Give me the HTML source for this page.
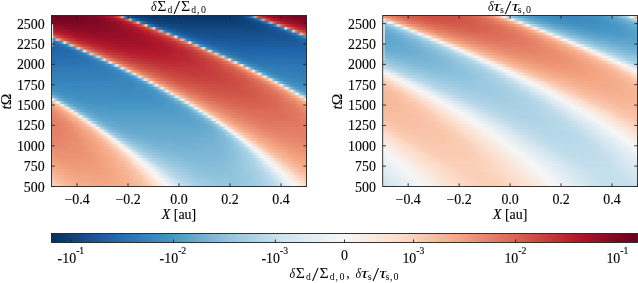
<!DOCTYPE html><html><head><meta charset="utf-8"><title>figure</title><style>html,body{margin:0;padding:0;background:#fff}body{width:638px;height:283px;position:relative;overflow:hidden}</style></head><body><svg width="638" height="283" viewBox="0 0 638 283" style="position:absolute;left:0;top:0;display:block"><defs><linearGradient id="a0"><stop offset="0.001961" stop-color="#700320"/><stop offset="0.08431" stop-color="#700320"/><stop offset="0.1627" stop-color="#7f0823"/><stop offset="0.202" stop-color="#910e26"/><stop offset="0.2255" stop-color="#a41329"/><stop offset="0.2373" stop-color="#b3192c"/><stop offset="0.249" stop-color="#ba2833"/><stop offset="0.2529" stop-color="#bf3338"/><stop offset="0.2569" stop-color="#c2383a"/><stop offset="0.2608" stop-color="#c94741"/><stop offset="0.2647" stop-color="#cd4e45"/><stop offset="0.2686" stop-color="#d7634f"/><stop offset="0.2725" stop-color="#df7760"/><stop offset="0.2765" stop-color="#f5ac8b"/><stop offset="0.2804" stop-color="#c2a49a"/><stop offset="0.2843" stop-color="#3f8ec0"/><stop offset="0.2882" stop-color="#3885bc"/><stop offset="0.2922" stop-color="#2870b1"/><stop offset="0.2961" stop-color="#256bac"/><stop offset="0.3" stop-color="#1d5fa2"/><stop offset="0.3078" stop-color="#185493"/><stop offset="0.3235" stop-color="#10457e"/><stop offset="0.3431" stop-color="#0c3e75"/><stop offset="0.3941" stop-color="#08366a"/><stop offset="0.6843" stop-color="#08366a"/><stop offset="0.7235" stop-color="#0a3b70"/><stop offset="0.7392" stop-color="#0d3f76"/><stop offset="0.7627" stop-color="#144e8a"/><stop offset="0.7667" stop-color="#185493"/><stop offset="0.7706" stop-color="#195696"/><stop offset="0.7745" stop-color="#1e60a4"/><stop offset="0.7784" stop-color="#1f63a8"/><stop offset="0.7824" stop-color="#2971b1"/><stop offset="0.7863" stop-color="#2c75b4"/><stop offset="0.7902" stop-color="#4d96c5"/><stop offset="0.7941" stop-color="#569fc9"/><stop offset="0.798" stop-color="#cd9484"/><stop offset="0.802" stop-color="#eb9172"/><stop offset="0.8059" stop-color="#d96753"/><stop offset="0.8098" stop-color="#d55d4c"/><stop offset="0.8137" stop-color="#c94641"/><stop offset="0.8176" stop-color="#c6413e"/><stop offset="0.8216" stop-color="#c03338"/><stop offset="0.8255" stop-color="#be3036"/><stop offset="0.8294" stop-color="#b92732"/><stop offset="0.8333" stop-color="#b82531"/><stop offset="0.8373" stop-color="#b41b2d"/><stop offset="0.849" stop-color="#ab162a"/><stop offset="0.8529" stop-color="#a31329"/><stop offset="0.8843" stop-color="#8e0c25"/><stop offset="0.9549" stop-color="#760521"/><stop offset="0.998" stop-color="#730421"/></linearGradient><linearGradient id="a1"><stop offset="0.001961" stop-color="#790622"/><stop offset="0.01765" stop-color="#760521"/><stop offset="0.1157" stop-color="#760521"/><stop offset="0.1706" stop-color="#7f0823"/><stop offset="0.202" stop-color="#880b24"/><stop offset="0.2333" stop-color="#971027"/><stop offset="0.2569" stop-color="#aa152a"/><stop offset="0.2608" stop-color="#b1182b"/><stop offset="0.2725" stop-color="#b72230"/><stop offset="0.2804" stop-color="#bd2e36"/><stop offset="0.2882" stop-color="#c53e3d"/><stop offset="0.2961" stop-color="#d05549"/><stop offset="0.3" stop-color="#db6b55"/><stop offset="0.3039" stop-color="#e38067"/><stop offset="0.3078" stop-color="#f6b191"/><stop offset="0.3118" stop-color="#bea7a0"/><stop offset="0.3157" stop-color="#4291c2"/><stop offset="0.3196" stop-color="#3a88bd"/><stop offset="0.3235" stop-color="#2b73b3"/><stop offset="0.3275" stop-color="#276eaf"/><stop offset="0.3314" stop-color="#1f63a8"/><stop offset="0.3392" stop-color="#1a5899"/><stop offset="0.3471" stop-color="#15508d"/><stop offset="0.3745" stop-color="#0e427a"/><stop offset="0.4255" stop-color="#0a3b70"/><stop offset="0.7078" stop-color="#0a3b70"/><stop offset="0.7627" stop-color="#0e4179"/><stop offset="0.7863" stop-color="#134c87"/><stop offset="0.802" stop-color="#1b5a9c"/><stop offset="0.8059" stop-color="#2064a9"/><stop offset="0.8098" stop-color="#2267ac"/><stop offset="0.8137" stop-color="#2d75b4"/><stop offset="0.8176" stop-color="#2f79b5"/><stop offset="0.8216" stop-color="#549bc8"/><stop offset="0.8255" stop-color="#5ca3cb"/><stop offset="0.8294" stop-color="#d49885"/><stop offset="0.8333" stop-color="#ee9677"/><stop offset="0.8373" stop-color="#db6b56"/><stop offset="0.8412" stop-color="#d7634f"/><stop offset="0.8451" stop-color="#cd4d44"/><stop offset="0.849" stop-color="#cb4942"/><stop offset="0.8529" stop-color="#c2393a"/><stop offset="0.8765" stop-color="#b1182b"/><stop offset="0.8804" stop-color="#b1182b"/><stop offset="0.8843" stop-color="#a9152a"/><stop offset="0.8922" stop-color="#a21329"/><stop offset="0.9235" stop-color="#900d26"/><stop offset="0.9627" stop-color="#820923"/><stop offset="0.998" stop-color="#7c0722"/></linearGradient><linearGradient id="a2"><stop offset="0.001961" stop-color="#840924"/><stop offset="0.04902" stop-color="#7c0722"/><stop offset="0.1392" stop-color="#7c0722"/><stop offset="0.1431" stop-color="#7f0823"/><stop offset="0.1824" stop-color="#810823"/><stop offset="0.249" stop-color="#970f27"/><stop offset="0.2725" stop-color="#a31329"/><stop offset="0.2843" stop-color="#b1182b"/><stop offset="0.2882" stop-color="#b2192b"/><stop offset="0.2961" stop-color="#b51f2e"/><stop offset="0.3118" stop-color="#c03438"/><stop offset="0.3196" stop-color="#c84440"/><stop offset="0.3275" stop-color="#d45d4d"/><stop offset="0.3314" stop-color="#de735c"/><stop offset="0.3353" stop-color="#e78c73"/><stop offset="0.3392" stop-color="#f8bda1"/><stop offset="0.3431" stop-color="#b9aeac"/><stop offset="0.3471" stop-color="#4291c2"/><stop offset="0.351" stop-color="#3a87bd"/><stop offset="0.3549" stop-color="#2c75b4"/><stop offset="0.3667" stop-color="#2063a7"/><stop offset="0.3706" stop-color="#1c5c9f"/><stop offset="0.3784" stop-color="#185493"/><stop offset="0.402" stop-color="#114781"/><stop offset="0.4176" stop-color="#0f437b"/><stop offset="0.4647" stop-color="#0d3f76"/><stop offset="0.7314" stop-color="#0d3f76"/><stop offset="0.7784" stop-color="#0f437b"/><stop offset="0.8176" stop-color="#15508d"/><stop offset="0.8255" stop-color="#195696"/><stop offset="0.8294" stop-color="#1d5fa2"/><stop offset="0.8412" stop-color="#266caf"/><stop offset="0.8451" stop-color="#317bb7"/><stop offset="0.849" stop-color="#337eb8"/><stop offset="0.8529" stop-color="#66a7ce"/><stop offset="0.8569" stop-color="#6eaed2"/><stop offset="0.8608" stop-color="#dc9a83"/><stop offset="0.8647" stop-color="#ee9677"/><stop offset="0.8686" stop-color="#db6c56"/><stop offset="0.8725" stop-color="#d86551"/><stop offset="0.8765" stop-color="#ce4f45"/><stop offset="0.8804" stop-color="#cc4c44"/><stop offset="0.8843" stop-color="#c53d3d"/><stop offset="0.8882" stop-color="#c43b3c"/><stop offset="0.8922" stop-color="#bf3137"/><stop offset="0.8961" stop-color="#be3036"/><stop offset="0.9" stop-color="#b92632"/><stop offset="0.9039" stop-color="#b82531"/><stop offset="0.9078" stop-color="#b51d2d"/><stop offset="0.9157" stop-color="#ae172b"/><stop offset="0.9196" stop-color="#ae172a"/><stop offset="0.9314" stop-color="#a21328"/><stop offset="0.9431" stop-color="#9f1228"/><stop offset="0.9471" stop-color="#991027"/><stop offset="0.998" stop-color="#870a24"/></linearGradient><linearGradient id="a3"><stop offset="0.001961" stop-color="#900d26"/><stop offset="0.08824" stop-color="#810823"/><stop offset="0.1902" stop-color="#840924"/><stop offset="0.2412" stop-color="#8e0c25"/><stop offset="0.2725" stop-color="#9a1027"/><stop offset="0.3118" stop-color="#b2192b"/><stop offset="0.3275" stop-color="#ba2732"/><stop offset="0.3431" stop-color="#c53d3d"/><stop offset="0.351" stop-color="#cd4f45"/><stop offset="0.3588" stop-color="#da6954"/><stop offset="0.3627" stop-color="#e37e64"/><stop offset="0.3667" stop-color="#eca28b"/><stop offset="0.3706" stop-color="#fcdfcf"/><stop offset="0.3745" stop-color="#b6c1ca"/><stop offset="0.3784" stop-color="#408fc1"/><stop offset="0.3824" stop-color="#3986bc"/><stop offset="0.3863" stop-color="#2e77b5"/><stop offset="0.402" stop-color="#1d5fa2"/><stop offset="0.4176" stop-color="#175290"/><stop offset="0.4333" stop-color="#134c87"/><stop offset="0.5039" stop-color="#0f437b"/><stop offset="0.7549" stop-color="#0f437b"/><stop offset="0.7588" stop-color="#10457e"/><stop offset="0.7941" stop-color="#10457e"/><stop offset="0.8333" stop-color="#144e8a"/><stop offset="0.849" stop-color="#195696"/><stop offset="0.8529" stop-color="#1c5c9d"/><stop offset="0.8569" stop-color="#1c5c9f"/><stop offset="0.8608" stop-color="#2064a9"/><stop offset="0.8647" stop-color="#2065ab"/><stop offset="0.8686" stop-color="#2870b1"/><stop offset="0.8725" stop-color="#2a71b2"/><stop offset="0.8765" stop-color="#3782bb"/><stop offset="0.8804" stop-color="#3885bc"/><stop offset="0.8843" stop-color="#83bbd9"/><stop offset="0.8882" stop-color="#8dc2dc"/><stop offset="0.8922" stop-color="#e29980"/><stop offset="0.8961" stop-color="#ec9374"/><stop offset="0.9" stop-color="#db6d57"/><stop offset="0.9039" stop-color="#da6853"/><stop offset="0.9078" stop-color="#cf5146"/><stop offset="0.9118" stop-color="#ce4f45"/><stop offset="0.9157" stop-color="#c7423f"/><stop offset="0.9196" stop-color="#c6413e"/><stop offset="0.9235" stop-color="#c03438"/><stop offset="0.9275" stop-color="#bf3338"/><stop offset="0.9392" stop-color="#b72230"/><stop offset="0.9431" stop-color="#b72230"/><stop offset="0.9471" stop-color="#b31a2c"/><stop offset="0.9588" stop-color="#ae172a"/><stop offset="0.9627" stop-color="#a81529"/><stop offset="0.9745" stop-color="#a51429"/><stop offset="0.9784" stop-color="#9f1228"/><stop offset="0.998" stop-color="#991027"/></linearGradient><linearGradient id="a4"><stop offset="0.001961" stop-color="#a21328"/><stop offset="0.04118" stop-color="#930e26"/><stop offset="0.08824" stop-color="#8a0b25"/><stop offset="0.1824" stop-color="#870a24"/><stop offset="0.2373" stop-color="#8d0c25"/><stop offset="0.2804" stop-color="#970f27"/><stop offset="0.3353" stop-color="#b2192c"/><stop offset="0.3667" stop-color="#c33a3b"/><stop offset="0.3745" stop-color="#ca4741"/><stop offset="0.3824" stop-color="#d35a4b"/><stop offset="0.3863" stop-color="#da6853"/><stop offset="0.3902" stop-color="#e0775f"/><stop offset="0.3941" stop-color="#ea8e70"/><stop offset="0.398" stop-color="#e2b2a4"/><stop offset="0.402" stop-color="#d5e7f1"/><stop offset="0.4059" stop-color="#98c3dd"/><stop offset="0.4098" stop-color="#3f8ec0"/><stop offset="0.4176" stop-color="#2e77b5"/><stop offset="0.4255" stop-color="#246aae"/><stop offset="0.4333" stop-color="#1f63a8"/><stop offset="0.449" stop-color="#195696"/><stop offset="0.4725" stop-color="#144e8a"/><stop offset="0.5431" stop-color="#114781"/><stop offset="0.7784" stop-color="#114781"/><stop offset="0.849" stop-color="#144e8a"/><stop offset="0.8725" stop-color="#195696"/><stop offset="0.8765" stop-color="#1c5c9e"/><stop offset="0.8882" stop-color="#1f63a8"/><stop offset="0.8922" stop-color="#256bae"/><stop offset="0.8961" stop-color="#266caf"/><stop offset="0.9" stop-color="#2e77b5"/><stop offset="0.9039" stop-color="#2f79b5"/><stop offset="0.9078" stop-color="#3e8cbf"/><stop offset="0.9118" stop-color="#3f8ec0"/><stop offset="0.9157" stop-color="#d5e5ef"/><stop offset="0.9196" stop-color="#e3edf3"/><stop offset="0.9235" stop-color="#e9957b"/><stop offset="0.9275" stop-color="#ea8e70"/><stop offset="0.9314" stop-color="#db6b55"/><stop offset="0.9353" stop-color="#da6853"/><stop offset="0.9392" stop-color="#d05347"/><stop offset="0.9431" stop-color="#cf5246"/><stop offset="0.9471" stop-color="#c84540"/><stop offset="0.951" stop-color="#c84440"/><stop offset="0.9549" stop-color="#c2393b"/><stop offset="0.9588" stop-color="#c2383a"/><stop offset="0.9627" stop-color="#bd2e35"/><stop offset="0.9667" stop-color="#bd2d35"/><stop offset="0.9706" stop-color="#b82531"/><stop offset="0.9745" stop-color="#b82531"/><stop offset="0.9784" stop-color="#b61f2e"/><stop offset="0.998" stop-color="#ae172a"/></linearGradient><linearGradient id="a5"><stop offset="0.001961" stop-color="#b61f2e"/><stop offset="0.01373" stop-color="#b3192c"/><stop offset="0.01765" stop-color="#ae172a"/><stop offset="0.08039" stop-color="#960f27"/><stop offset="0.151" stop-color="#8d0c25"/><stop offset="0.2216" stop-color="#8d0c25"/><stop offset="0.2686" stop-color="#930e26"/><stop offset="0.3196" stop-color="#a01228"/><stop offset="0.3549" stop-color="#b3192c"/><stop offset="0.3824" stop-color="#bd2e35"/><stop offset="0.4059" stop-color="#ce5046"/><stop offset="0.4137" stop-color="#d86551"/><stop offset="0.4176" stop-color="#de735c"/><stop offset="0.4216" stop-color="#e7876b"/><stop offset="0.4255" stop-color="#f3a481"/><stop offset="0.4294" stop-color="#c5afa7"/><stop offset="0.4333" stop-color="#87beda"/><stop offset="0.4373" stop-color="#66a7ce"/><stop offset="0.4412" stop-color="#3c8abe"/><stop offset="0.449" stop-color="#2e77b5"/><stop offset="0.4647" stop-color="#2065ab"/><stop offset="0.4882" stop-color="#195696"/><stop offset="0.5275" stop-color="#144e8a"/><stop offset="0.5667" stop-color="#134c87"/><stop offset="0.8176" stop-color="#134c87"/><stop offset="0.8882" stop-color="#185493"/><stop offset="0.9118" stop-color="#1e61a5"/><stop offset="0.9157" stop-color="#2368ad"/><stop offset="0.9196" stop-color="#2369ad"/><stop offset="0.9235" stop-color="#2971b2"/><stop offset="0.9275" stop-color="#2a71b2"/><stop offset="0.9314" stop-color="#347fb9"/><stop offset="0.9353" stop-color="#3480b9"/><stop offset="0.9392" stop-color="#4e99c6"/><stop offset="0.9431" stop-color="#4f9bc7"/><stop offset="0.9471" stop-color="#f3d1bf"/><stop offset="0.951" stop-color="#fcd5bf"/><stop offset="0.9549" stop-color="#e78a6e"/><stop offset="0.9588" stop-color="#e6866a"/><stop offset="0.9627" stop-color="#da6954"/><stop offset="0.9667" stop-color="#da6853"/><stop offset="0.9706" stop-color="#d15548"/><stop offset="0.9745" stop-color="#d05548"/><stop offset="0.9784" stop-color="#c94741"/><stop offset="0.9824" stop-color="#c94741"/><stop offset="0.9863" stop-color="#c43b3c"/><stop offset="0.9902" stop-color="#c43b3c"/><stop offset="0.9941" stop-color="#be3036"/><stop offset="0.998" stop-color="#be3036"/></linearGradient><linearGradient id="a6"><stop offset="0.001961" stop-color="#c6413e"/><stop offset="0.005882" stop-color="#c6413e"/><stop offset="0.009804" stop-color="#c13639"/><stop offset="0.01373" stop-color="#c13639"/><stop offset="0.01765" stop-color="#bd2d35"/><stop offset="0.02157" stop-color="#bd2d35"/><stop offset="0.04902" stop-color="#b1182b"/><stop offset="0.1039" stop-color="#9c1127"/><stop offset="0.1588" stop-color="#930e26"/><stop offset="0.2843" stop-color="#960f27"/><stop offset="0.3431" stop-color="#a31329"/><stop offset="0.3784" stop-color="#b3192c"/><stop offset="0.4137" stop-color="#c13639"/><stop offset="0.4294" stop-color="#cc4d44"/><stop offset="0.4412" stop-color="#d86551"/><stop offset="0.449" stop-color="#e58368"/><stop offset="0.4529" stop-color="#ee9e83"/><stop offset="0.4569" stop-color="#f8bfa4"/><stop offset="0.4608" stop-color="#b3b4b7"/><stop offset="0.4647" stop-color="#62a7ce"/><stop offset="0.4725" stop-color="#3885bc"/><stop offset="0.4804" stop-color="#2c75b4"/><stop offset="0.4961" stop-color="#2065ab"/><stop offset="0.5235" stop-color="#195797"/><stop offset="0.5745" stop-color="#15508d"/><stop offset="0.8647" stop-color="#15508d"/><stop offset="0.9039" stop-color="#185493"/><stop offset="0.9196" stop-color="#1a5899"/><stop offset="0.9353" stop-color="#1e61a5"/><stop offset="0.9392" stop-color="#2166ac"/><stop offset="0.9431" stop-color="#2267ac"/><stop offset="0.9471" stop-color="#276eb0"/><stop offset="0.951" stop-color="#276eb0"/><stop offset="0.9549" stop-color="#2f78b5"/><stop offset="0.9588" stop-color="#2f79b5"/><stop offset="0.9627" stop-color="#3b88bd"/><stop offset="0.9667" stop-color="#3b88be"/><stop offset="0.9706" stop-color="#73b1d3"/><stop offset="0.9745" stop-color="#75b2d4"/><stop offset="0.9784" stop-color="#f3b395"/><stop offset="0.9824" stop-color="#f6b394"/><stop offset="0.9863" stop-color="#e48167"/><stop offset="0.9902" stop-color="#e48066"/><stop offset="0.9941" stop-color="#d86651"/><stop offset="0.998" stop-color="#d86551"/></linearGradient><linearGradient id="a7"><stop offset="0.001961" stop-color="#e98b6e"/><stop offset="0.005882" stop-color="#e98b6e"/><stop offset="0.009804" stop-color="#dc6e57"/><stop offset="0.01373" stop-color="#dc6d57"/><stop offset="0.01765" stop-color="#d35a4a"/><stop offset="0.02157" stop-color="#d35a4a"/><stop offset="0.02549" stop-color="#cc4c44"/><stop offset="0.02941" stop-color="#cc4c44"/><stop offset="0.03333" stop-color="#c6413e"/><stop offset="0.03725" stop-color="#c6413e"/><stop offset="0.04118" stop-color="#c2383a"/><stop offset="0.0451" stop-color="#c2383a"/><stop offset="0.04902" stop-color="#be3036"/><stop offset="0.05294" stop-color="#be3036"/><stop offset="0.05686" stop-color="#bb2a34"/><stop offset="0.06078" stop-color="#bb2a34"/><stop offset="0.07255" stop-color="#b61f2e"/><stop offset="0.09216" stop-color="#b0172b"/><stop offset="0.1196" stop-color="#a51429"/><stop offset="0.1588" stop-color="#9c1127"/><stop offset="0.2137" stop-color="#960f27"/><stop offset="0.2725" stop-color="#970f27"/><stop offset="0.3392" stop-color="#9f1228"/><stop offset="0.3824" stop-color="#ac162a"/><stop offset="0.4059" stop-color="#b51d2e"/><stop offset="0.4412" stop-color="#c2383a"/><stop offset="0.4608" stop-color="#d15648"/><stop offset="0.4647" stop-color="#d55d4c"/><stop offset="0.4725" stop-color="#de735c"/><stop offset="0.4804" stop-color="#ef9979"/><stop offset="0.4882" stop-color="#f6f7f7"/><stop offset="0.4961" stop-color="#4c99c6"/><stop offset="0.5039" stop-color="#3681ba"/><stop offset="0.5118" stop-color="#2c75b4"/><stop offset="0.5353" stop-color="#1e61a5"/><stop offset="0.5588" stop-color="#1a5899"/><stop offset="0.6373" stop-color="#175290"/><stop offset="0.9039" stop-color="#185493"/><stop offset="0.9353" stop-color="#1a5899"/><stop offset="0.951" stop-color="#1c5c9f"/><stop offset="0.9549" stop-color="#1e61a4"/><stop offset="0.9667" stop-color="#2065ab"/><stop offset="0.9706" stop-color="#266caf"/><stop offset="0.9824" stop-color="#2b73b3"/><stop offset="0.9863" stop-color="#347fb9"/><stop offset="0.9902" stop-color="#3480b9"/><stop offset="0.9941" stop-color="#4695c4"/><stop offset="0.998" stop-color="#4695c4"/></linearGradient><linearGradient id="a8"><stop offset="0.001961" stop-color="#337eb8"/><stop offset="0.005882" stop-color="#337eb8"/><stop offset="0.009804" stop-color="#4291c2"/><stop offset="0.01373" stop-color="#4392c3"/><stop offset="0.01765" stop-color="#93c6de"/><stop offset="0.02157" stop-color="#96c5dc"/><stop offset="0.02549" stop-color="#f6af8e"/><stop offset="0.02941" stop-color="#f5ad8d"/><stop offset="0.03333" stop-color="#e48066"/><stop offset="0.03725" stop-color="#e48065"/><stop offset="0.04118" stop-color="#da6853"/><stop offset="0.0451" stop-color="#d96753"/><stop offset="0.04902" stop-color="#d25849"/><stop offset="0.05294" stop-color="#d15749"/><stop offset="0.05686" stop-color="#cc4c44"/><stop offset="0.06078" stop-color="#cc4c43"/><stop offset="0.06471" stop-color="#c6413e"/><stop offset="0.06863" stop-color="#c6403e"/><stop offset="0.07255" stop-color="#c2383a"/><stop offset="0.08431" stop-color="#bf3237"/><stop offset="0.08824" stop-color="#bb2a34"/><stop offset="0.1" stop-color="#b92732"/><stop offset="0.1196" stop-color="#b3192c"/><stop offset="0.1667" stop-color="#a51429"/><stop offset="0.2216" stop-color="#9c1127"/><stop offset="0.3196" stop-color="#9d1128"/><stop offset="0.3706" stop-color="#a51429"/><stop offset="0.4176" stop-color="#b3192c"/><stop offset="0.4647" stop-color="#c2383a"/><stop offset="0.4804" stop-color="#cc4c44"/><stop offset="0.4961" stop-color="#db6b55"/><stop offset="0.5039" stop-color="#e58368"/><stop offset="0.5118" stop-color="#f7b596"/><stop offset="0.5196" stop-color="#84bcd9"/><stop offset="0.5275" stop-color="#408fc1"/><stop offset="0.5392" stop-color="#2f78b5"/><stop offset="0.5549" stop-color="#2369ae"/><stop offset="0.5824" stop-color="#1c5c9f"/><stop offset="0.6059" stop-color="#1a5899"/><stop offset="0.6686" stop-color="#195696"/><stop offset="0.9118" stop-color="#195696"/><stop offset="0.9588" stop-color="#1b5a9c"/><stop offset="0.9745" stop-color="#1d5fa2"/><stop offset="0.9863" stop-color="#2267ac"/><stop offset="0.998" stop-color="#246aae"/></linearGradient><linearGradient id="a9"><stop offset="0.001961" stop-color="#2369ad"/><stop offset="0.02157" stop-color="#2a72b2"/><stop offset="0.02549" stop-color="#307ab6"/><stop offset="0.02941" stop-color="#317bb7"/><stop offset="0.03333" stop-color="#3b88be"/><stop offset="0.03725" stop-color="#3c8abe"/><stop offset="0.04118" stop-color="#5fa5cd"/><stop offset="0.0451" stop-color="#66a8cd"/><stop offset="0.04902" stop-color="#fbe5d8"/><stop offset="0.05294" stop-color="#fae1d3"/><stop offset="0.05686" stop-color="#ef9979"/><stop offset="0.06078" stop-color="#ee9777"/><stop offset="0.06471" stop-color="#e17860"/><stop offset="0.06863" stop-color="#e0775f"/><stop offset="0.07255" stop-color="#d7634f"/><stop offset="0.07647" stop-color="#d7624e"/><stop offset="0.08039" stop-color="#d05548"/><stop offset="0.08431" stop-color="#d05447"/><stop offset="0.08824" stop-color="#cb4942"/><stop offset="0.09216" stop-color="#ca4942"/><stop offset="0.1039" stop-color="#c2383a"/><stop offset="0.1431" stop-color="#b61f2e"/><stop offset="0.1588" stop-color="#b3192c"/><stop offset="0.2373" stop-color="#a21328"/><stop offset="0.3118" stop-color="#a01228"/><stop offset="0.3549" stop-color="#a21328"/><stop offset="0.4333" stop-color="#b3192c"/><stop offset="0.4804" stop-color="#bf3338"/><stop offset="0.4961" stop-color="#c6413e"/><stop offset="0.5118" stop-color="#d25849"/><stop offset="0.5196" stop-color="#d86551"/><stop offset="0.5275" stop-color="#e27b62"/><stop offset="0.5353" stop-color="#f09c7b"/><stop offset="0.5392" stop-color="#f5c8b6"/><stop offset="0.5431" stop-color="#f9efe9"/><stop offset="0.5471" stop-color="#a3c5d9"/><stop offset="0.551" stop-color="#5ca3cb"/><stop offset="0.5588" stop-color="#3b88be"/><stop offset="0.5667" stop-color="#307ab6"/><stop offset="0.5863" stop-color="#246aae"/><stop offset="0.6294" stop-color="#1c5c9f"/><stop offset="0.7235" stop-color="#1b5a9c"/><stop offset="0.7314" stop-color="#1a5899"/><stop offset="0.9588" stop-color="#1b5a9c"/><stop offset="0.998" stop-color="#1e61a5"/></linearGradient><linearGradient id="a10"><stop offset="0.001961" stop-color="#1f63a8"/><stop offset="0.03725" stop-color="#266caf"/><stop offset="0.0451" stop-color="#2a72b2"/><stop offset="0.04902" stop-color="#307ab6"/><stop offset="0.05294" stop-color="#317bb7"/><stop offset="0.05686" stop-color="#3885bc"/><stop offset="0.06078" stop-color="#3a86bc"/><stop offset="0.06471" stop-color="#4c99c6"/><stop offset="0.06863" stop-color="#529dc8"/><stop offset="0.07255" stop-color="#a2cde3"/><stop offset="0.07647" stop-color="#a9cbdc"/><stop offset="0.08039" stop-color="#f6b394"/><stop offset="0.08431" stop-color="#f5af90"/><stop offset="0.08824" stop-color="#e8896c"/><stop offset="0.09216" stop-color="#e7866a"/><stop offset="0.09608" stop-color="#dd7059"/><stop offset="0.1" stop-color="#dc6f58"/><stop offset="0.1039" stop-color="#d6604d"/><stop offset="0.1078" stop-color="#d55f4c"/><stop offset="0.1118" stop-color="#d05548"/><stop offset="0.1157" stop-color="#d05347"/><stop offset="0.1196" stop-color="#cb4942"/><stop offset="0.1235" stop-color="#ca4842"/><stop offset="0.1275" stop-color="#c6413e"/><stop offset="0.1392" stop-color="#c33b3b"/><stop offset="0.1588" stop-color="#bb2a34"/><stop offset="0.198" stop-color="#b3192c"/><stop offset="0.2843" stop-color="#a51429"/><stop offset="0.3667" stop-color="#a61429"/><stop offset="0.4098" stop-color="#ab162a"/><stop offset="0.4412" stop-color="#b3192c"/><stop offset="0.4882" stop-color="#bb2a34"/><stop offset="0.5118" stop-color="#c43b3c"/><stop offset="0.5353" stop-color="#d05548"/><stop offset="0.5431" stop-color="#d7634f"/><stop offset="0.551" stop-color="#de735c"/><stop offset="0.5588" stop-color="#ea8e70"/><stop offset="0.5627" stop-color="#f2aa8d"/><stop offset="0.5667" stop-color="#f8bfa4"/><stop offset="0.5706" stop-color="#b8bfc3"/><stop offset="0.5745" stop-color="#87beda"/><stop offset="0.5784" stop-color="#60a5cd"/><stop offset="0.5824" stop-color="#4393c3"/><stop offset="0.5941" stop-color="#327db8"/><stop offset="0.6098" stop-color="#276eb0"/><stop offset="0.649" stop-color="#1f61a6"/><stop offset="0.7" stop-color="#1c5c9f"/><stop offset="0.9588" stop-color="#1c5c9f"/><stop offset="0.998" stop-color="#1e61a5"/></linearGradient><linearGradient id="a11"><stop offset="0.001961" stop-color="#1f63a8"/><stop offset="0.02157" stop-color="#1f63a8"/><stop offset="0.06078" stop-color="#276eb0"/><stop offset="0.07255" stop-color="#2f79b5"/><stop offset="0.07647" stop-color="#3079b6"/><stop offset="0.08039" stop-color="#3783bb"/><stop offset="0.08431" stop-color="#3884bc"/><stop offset="0.08824" stop-color="#4291c2"/><stop offset="0.09216" stop-color="#4694c4"/><stop offset="0.09608" stop-color="#75b2d4"/><stop offset="0.1" stop-color="#82b6d2"/><stop offset="0.1039" stop-color="#fcd7c2"/><stop offset="0.1078" stop-color="#fbd0ba"/><stop offset="0.1118" stop-color="#ef9979"/><stop offset="0.1157" stop-color="#ed9676"/><stop offset="0.1196" stop-color="#e37e64"/><stop offset="0.1235" stop-color="#e27b62"/><stop offset="0.1275" stop-color="#db6b55"/><stop offset="0.1314" stop-color="#da6954"/><stop offset="0.1353" stop-color="#d55d4c"/><stop offset="0.1392" stop-color="#d45c4b"/><stop offset="0.1431" stop-color="#cf5246"/><stop offset="0.1471" stop-color="#ce5146"/><stop offset="0.151" stop-color="#cb4942"/><stop offset="0.1549" stop-color="#ca4842"/><stop offset="0.1588" stop-color="#c6413e"/><stop offset="0.1824" stop-color="#be3036"/><stop offset="0.2216" stop-color="#b61f2e"/><stop offset="0.2451" stop-color="#b3192c"/><stop offset="0.3" stop-color="#ab162a"/><stop offset="0.402" stop-color="#ab162a"/><stop offset="0.4569" stop-color="#b3192c"/><stop offset="0.5118" stop-color="#bd2d35"/><stop offset="0.5431" stop-color="#c84440"/><stop offset="0.5588" stop-color="#d05548"/><stop offset="0.5745" stop-color="#dd7059"/><stop offset="0.5824" stop-color="#e6866a"/><stop offset="0.5863" stop-color="#ef9c7e"/><stop offset="0.5902" stop-color="#f5ac8b"/><stop offset="0.5941" stop-color="#e7d1c8"/><stop offset="0.598" stop-color="#ddebf2"/><stop offset="0.602" stop-color="#8fbfdb"/><stop offset="0.6059" stop-color="#5ca3cb"/><stop offset="0.6098" stop-color="#4995c4"/><stop offset="0.6137" stop-color="#3e8cbf"/><stop offset="0.6176" stop-color="#3884bb"/><stop offset="0.6333" stop-color="#2b73b3"/><stop offset="0.6529" stop-color="#246aae"/><stop offset="0.7039" stop-color="#1f61a6"/><stop offset="0.998" stop-color="#1e61a5"/></linearGradient><linearGradient id="a12"><stop offset="0.001961" stop-color="#2065ab"/><stop offset="0.06078" stop-color="#2369ad"/><stop offset="0.08431" stop-color="#2970b1"/><stop offset="0.1" stop-color="#317bb7"/><stop offset="0.1039" stop-color="#3783bb"/><stop offset="0.1078" stop-color="#3884bc"/><stop offset="0.1118" stop-color="#408fc1"/><stop offset="0.1157" stop-color="#4592c3"/><stop offset="0.1196" stop-color="#65a9cf"/><stop offset="0.1235" stop-color="#77b2d4"/><stop offset="0.1275" stop-color="#f5f6f7"/><stop offset="0.1314" stop-color="#f5ece8"/><stop offset="0.1353" stop-color="#f5ac8b"/><stop offset="0.1392" stop-color="#f3a787"/><stop offset="0.1431" stop-color="#e8896c"/><stop offset="0.1471" stop-color="#e6866a"/><stop offset="0.151" stop-color="#df765e"/><stop offset="0.1549" stop-color="#de735c"/><stop offset="0.1588" stop-color="#d86551"/><stop offset="0.1627" stop-color="#d86450"/><stop offset="0.1667" stop-color="#d35a4a"/><stop offset="0.1706" stop-color="#d2594a"/><stop offset="0.1824" stop-color="#cb4942"/><stop offset="0.1941" stop-color="#c7423f"/><stop offset="0.198" stop-color="#c43b3c"/><stop offset="0.2137" stop-color="#bf3338"/><stop offset="0.2686" stop-color="#b61f2e"/><stop offset="0.3235" stop-color="#b1182b"/><stop offset="0.449" stop-color="#b3192c"/><stop offset="0.5078" stop-color="#b92632"/><stop offset="0.5275" stop-color="#bd2d35"/><stop offset="0.551" stop-color="#c43b3c"/><stop offset="0.5667" stop-color="#c94741"/><stop offset="0.5902" stop-color="#d7634f"/><stop offset="0.598" stop-color="#dd7059"/><stop offset="0.6059" stop-color="#e58368"/><stop offset="0.6098" stop-color="#ed9576"/><stop offset="0.6137" stop-color="#f2a17f"/><stop offset="0.6176" stop-color="#f8cab4"/><stop offset="0.6216" stop-color="#fbe3d4"/><stop offset="0.6255" stop-color="#a9c6d5"/><stop offset="0.6294" stop-color="#78b4d5"/><stop offset="0.6333" stop-color="#58a0ca"/><stop offset="0.6373" stop-color="#4695c4"/><stop offset="0.6412" stop-color="#3e8cbf"/><stop offset="0.6569" stop-color="#2f79b5"/><stop offset="0.6725" stop-color="#286fb1"/><stop offset="0.7275" stop-color="#2165ab"/><stop offset="0.998" stop-color="#2065ab"/></linearGradient><linearGradient id="a13"><stop offset="0.001961" stop-color="#2369ad"/><stop offset="0.08431" stop-color="#266caf"/><stop offset="0.1157" stop-color="#2e77b5"/><stop offset="0.1314" stop-color="#3885bc"/><stop offset="0.1353" stop-color="#3f8ec0"/><stop offset="0.1392" stop-color="#4391c2"/><stop offset="0.1431" stop-color="#5ca3cb"/><stop offset="0.1471" stop-color="#68aacf"/><stop offset="0.151" stop-color="#aed3e6"/><stop offset="0.1549" stop-color="#bad0db"/><stop offset="0.1588" stop-color="#f8bda1"/><stop offset="0.1627" stop-color="#f6b79a"/><stop offset="0.1667" stop-color="#ee9677"/><stop offset="0.1706" stop-color="#ec9273"/><stop offset="0.1745" stop-color="#e37e64"/><stop offset="0.1784" stop-color="#e27b62"/><stop offset="0.1824" stop-color="#dc6e57"/><stop offset="0.1863" stop-color="#db6c56"/><stop offset="0.1902" stop-color="#d7634f"/><stop offset="0.1941" stop-color="#d6614e"/><stop offset="0.198" stop-color="#d25849"/><stop offset="0.2059" stop-color="#ce4f45"/><stop offset="0.2373" stop-color="#c2383a"/><stop offset="0.2922" stop-color="#b82531"/><stop offset="0.3235" stop-color="#b61f2e"/><stop offset="0.4176" stop-color="#b3192c"/><stop offset="0.5157" stop-color="#b92632"/><stop offset="0.5549" stop-color="#c03438"/><stop offset="0.5902" stop-color="#cb4942"/><stop offset="0.6137" stop-color="#d86551"/><stop offset="0.6216" stop-color="#dd7059"/><stop offset="0.6294" stop-color="#e58368"/><stop offset="0.6333" stop-color="#ec9374"/><stop offset="0.6373" stop-color="#f09c7b"/><stop offset="0.6412" stop-color="#f6b99e"/><stop offset="0.6451" stop-color="#facab1"/><stop offset="0.649" stop-color="#bbc9cf"/><stop offset="0.6529" stop-color="#98c8e0"/><stop offset="0.6569" stop-color="#6cadd1"/><stop offset="0.6608" stop-color="#569fc9"/><stop offset="0.6647" stop-color="#4692c3"/><stop offset="0.6725" stop-color="#3885bc"/><stop offset="0.6804" stop-color="#337eb8"/><stop offset="0.6961" stop-color="#2c74b3"/><stop offset="0.7314" stop-color="#246aae"/><stop offset="0.8216" stop-color="#2267ad"/><stop offset="0.998" stop-color="#2369ad"/></linearGradient><linearGradient id="a14"><stop offset="0.001961" stop-color="#246aae"/><stop offset="0.1" stop-color="#276eb0"/><stop offset="0.1314" stop-color="#2d75b4"/><stop offset="0.1549" stop-color="#3986bc"/><stop offset="0.1627" stop-color="#4391c2"/><stop offset="0.1667" stop-color="#59a1ca"/><stop offset="0.1706" stop-color="#63a7ce"/><stop offset="0.1745" stop-color="#96c7df"/><stop offset="0.1784" stop-color="#a8c9d8"/><stop offset="0.1824" stop-color="#fbd0b9"/><stop offset="0.1863" stop-color="#fac8af"/><stop offset="0.1902" stop-color="#f3a481"/><stop offset="0.1941" stop-color="#f19e7d"/><stop offset="0.198" stop-color="#e8896c"/><stop offset="0.202" stop-color="#e6856a"/><stop offset="0.2059" stop-color="#e17860"/><stop offset="0.2098" stop-color="#df755e"/><stop offset="0.2137" stop-color="#db6b55"/><stop offset="0.2216" stop-color="#d6604d"/><stop offset="0.2333" stop-color="#d15648"/><stop offset="0.2373" stop-color="#ce4f45"/><stop offset="0.2686" stop-color="#c43b3c"/><stop offset="0.3157" stop-color="#bb2a34"/><stop offset="0.3627" stop-color="#b72230"/><stop offset="0.449" stop-color="#b61f2e"/><stop offset="0.5353" stop-color="#bb2a34"/><stop offset="0.5902" stop-color="#c53e3d"/><stop offset="0.6294" stop-color="#d55d4c"/><stop offset="0.6451" stop-color="#de735c"/><stop offset="0.6529" stop-color="#e58368"/><stop offset="0.6569" stop-color="#ec9374"/><stop offset="0.6608" stop-color="#f09c7b"/><stop offset="0.6647" stop-color="#f6b396"/><stop offset="0.6686" stop-color="#f8bfa4"/><stop offset="0.6725" stop-color="#cfd1d3"/><stop offset="0.6765" stop-color="#bbdaea"/><stop offset="0.6804" stop-color="#81b8d7"/><stop offset="0.6882" stop-color="#4e9ac7"/><stop offset="0.6961" stop-color="#3d8abf"/><stop offset="0.7118" stop-color="#317cb7"/><stop offset="0.751" stop-color="#276eb0"/><stop offset="0.7784" stop-color="#266caf"/><stop offset="0.998" stop-color="#246aae"/></linearGradient><linearGradient id="a15"><stop offset="0.001961" stop-color="#276eb0"/><stop offset="0.1392" stop-color="#2b73b3"/><stop offset="0.1706" stop-color="#3581ba"/><stop offset="0.1784" stop-color="#3b88bd"/><stop offset="0.1863" stop-color="#4593c3"/><stop offset="0.1902" stop-color="#59a1ca"/><stop offset="0.1941" stop-color="#63a7ce"/><stop offset="0.198" stop-color="#8dc2dc"/><stop offset="0.202" stop-color="#a4c9db"/><stop offset="0.2059" stop-color="#fbe4d6"/><stop offset="0.2098" stop-color="#fad8c6"/><stop offset="0.2137" stop-color="#f5ac8b"/><stop offset="0.2176" stop-color="#f3a686"/><stop offset="0.2216" stop-color="#eb9172"/><stop offset="0.2255" stop-color="#e98c6f"/><stop offset="0.2294" stop-color="#e37e64"/><stop offset="0.2333" stop-color="#e27b61"/><stop offset="0.2373" stop-color="#dd7059"/><stop offset="0.2412" stop-color="#dc6e57"/><stop offset="0.2451" stop-color="#d86551"/><stop offset="0.2686" stop-color="#ce4f45"/><stop offset="0.2922" stop-color="#c6413e"/><stop offset="0.3392" stop-color="#be3036"/><stop offset="0.3706" stop-color="#bb2a34"/><stop offset="0.4176" stop-color="#b82531"/><stop offset="0.4804" stop-color="#b82531"/><stop offset="0.5353" stop-color="#bb2a34"/><stop offset="0.598" stop-color="#c43b3c"/><stop offset="0.6294" stop-color="#cc4c44"/><stop offset="0.6529" stop-color="#d6604d"/><stop offset="0.6686" stop-color="#df765e"/><stop offset="0.6725" stop-color="#e48166"/><stop offset="0.6765" stop-color="#e6866a"/><stop offset="0.6804" stop-color="#ed9575"/><stop offset="0.6843" stop-color="#f09c7b"/><stop offset="0.6882" stop-color="#f5b193"/><stop offset="0.6922" stop-color="#f8bb9e"/><stop offset="0.6961" stop-color="#ece0da"/><stop offset="0.7" stop-color="#e7f0f4"/><stop offset="0.7039" stop-color="#94c3dd"/><stop offset="0.7078" stop-color="#71b0d3"/><stop offset="0.7118" stop-color="#57a0ca"/><stop offset="0.7196" stop-color="#4290c1"/><stop offset="0.7353" stop-color="#3480b9"/><stop offset="0.7588" stop-color="#2d75b4"/><stop offset="0.7784" stop-color="#2a71b2"/><stop offset="0.998" stop-color="#276eb0"/></linearGradient><linearGradient id="a16"><stop offset="0.001961" stop-color="#2a71b2"/><stop offset="0.1392" stop-color="#2b73b3"/><stop offset="0.1784" stop-color="#317bb7"/><stop offset="0.202" stop-color="#3c8abf"/><stop offset="0.2098" stop-color="#4795c4"/><stop offset="0.2137" stop-color="#59a1ca"/><stop offset="0.2176" stop-color="#64a8ce"/><stop offset="0.2216" stop-color="#8ac0db"/><stop offset="0.2255" stop-color="#a3cadd"/><stop offset="0.2294" stop-color="#f9ebe3"/><stop offset="0.2333" stop-color="#f9dfd1"/><stop offset="0.2373" stop-color="#f7b596"/><stop offset="0.2412" stop-color="#f5ae8f"/><stop offset="0.2451" stop-color="#ef9979"/><stop offset="0.249" stop-color="#ed9475"/><stop offset="0.2529" stop-color="#e6866a"/><stop offset="0.2686" stop-color="#dc6e57"/><stop offset="0.2843" stop-color="#d55d4c"/><stop offset="0.3157" stop-color="#c94741"/><stop offset="0.3549" stop-color="#c2383a"/><stop offset="0.3941" stop-color="#be3036"/><stop offset="0.4412" stop-color="#bb2a34"/><stop offset="0.5431" stop-color="#bd2d35"/><stop offset="0.598" stop-color="#c2383a"/><stop offset="0.6451" stop-color="#cc4c44"/><stop offset="0.6686" stop-color="#d55d4c"/><stop offset="0.6922" stop-color="#e17860"/><stop offset="0.6961" stop-color="#e58468"/><stop offset="0.7" stop-color="#e8896c"/><stop offset="0.7039" stop-color="#ee9878"/><stop offset="0.7078" stop-color="#f19e7d"/><stop offset="0.7118" stop-color="#f6b193"/><stop offset="0.7157" stop-color="#f7b99c"/><stop offset="0.7196" stop-color="#f8e4da"/><stop offset="0.7235" stop-color="#f8f4f2"/><stop offset="0.7275" stop-color="#a1cadf"/><stop offset="0.7353" stop-color="#61a6cd"/><stop offset="0.7431" stop-color="#4795c4"/><stop offset="0.751" stop-color="#3d8bbf"/><stop offset="0.7745" stop-color="#317bb7"/><stop offset="0.798" stop-color="#2d75b4"/><stop offset="0.8569" stop-color="#2a71b2"/><stop offset="0.998" stop-color="#2a71b2"/></linearGradient><linearGradient id="a17"><stop offset="0.001961" stop-color="#2c75b4"/><stop offset="0.1627" stop-color="#2e77b5"/><stop offset="0.1941" stop-color="#327cb7"/><stop offset="0.2176" stop-color="#3a86bd"/><stop offset="0.2255" stop-color="#408ec0"/><stop offset="0.2333" stop-color="#4b98c6"/><stop offset="0.2373" stop-color="#5ca3cb"/><stop offset="0.2412" stop-color="#67aacf"/><stop offset="0.2451" stop-color="#8ac0db"/><stop offset="0.249" stop-color="#a6ccdf"/><stop offset="0.2529" stop-color="#f9f0eb"/><stop offset="0.2569" stop-color="#f8e2d7"/><stop offset="0.2608" stop-color="#f8bb9e"/><stop offset="0.2647" stop-color="#f6b495"/><stop offset="0.2686" stop-color="#f19e7d"/><stop offset="0.2725" stop-color="#ef9979"/><stop offset="0.2765" stop-color="#e98b6e"/><stop offset="0.2843" stop-color="#e37e64"/><stop offset="0.3078" stop-color="#d7634f"/><stop offset="0.3392" stop-color="#cc4c44"/><stop offset="0.4098" stop-color="#c13639"/><stop offset="0.4569" stop-color="#be3036"/><stop offset="0.5431" stop-color="#be3036"/><stop offset="0.5902" stop-color="#c13639"/><stop offset="0.6608" stop-color="#cc4c44"/><stop offset="0.6922" stop-color="#d7634f"/><stop offset="0.7157" stop-color="#e37e64"/><stop offset="0.7235" stop-color="#e98b6e"/><stop offset="0.7275" stop-color="#f09b7a"/><stop offset="0.7314" stop-color="#f2a17f"/><stop offset="0.7353" stop-color="#f6b496"/><stop offset="0.7392" stop-color="#f8bb9e"/><stop offset="0.7431" stop-color="#f8e4da"/><stop offset="0.7471" stop-color="#f8f2ef"/><stop offset="0.751" stop-color="#a6cde0"/><stop offset="0.7549" stop-color="#8ac0db"/><stop offset="0.7588" stop-color="#69abd0"/><stop offset="0.7627" stop-color="#5fa5cd"/><stop offset="0.7667" stop-color="#4c99c6"/><stop offset="0.7745" stop-color="#408ec0"/><stop offset="0.7902" stop-color="#3782bb"/><stop offset="0.8059" stop-color="#327cb7"/><stop offset="0.8373" stop-color="#2e77b5"/><stop offset="0.998" stop-color="#2c75b4"/></linearGradient><linearGradient id="a18"><stop offset="0.001961" stop-color="#2f79b5"/><stop offset="0.1902" stop-color="#307ab6"/><stop offset="0.2255" stop-color="#3682ba"/><stop offset="0.2412" stop-color="#3c8abe"/><stop offset="0.249" stop-color="#4392c2"/><stop offset="0.2569" stop-color="#529cc8"/><stop offset="0.2647" stop-color="#6eaed2"/><stop offset="0.2686" stop-color="#90c4dd"/><stop offset="0.2725" stop-color="#add0e2"/><stop offset="0.2765" stop-color="#f8f1ed"/><stop offset="0.2804" stop-color="#f8e3d8"/><stop offset="0.2843" stop-color="#f8bfa4"/><stop offset="0.2882" stop-color="#f7b79a"/><stop offset="0.2922" stop-color="#f3a481"/><stop offset="0.3078" stop-color="#e58368"/><stop offset="0.3235" stop-color="#dc6e57"/><stop offset="0.3392" stop-color="#d6604d"/><stop offset="0.3627" stop-color="#cf5246"/><stop offset="0.4176" stop-color="#c53e3d"/><stop offset="0.449" stop-color="#c2383a"/><stop offset="0.598" stop-color="#c2383a"/><stop offset="0.6608" stop-color="#cb4942"/><stop offset="0.7078" stop-color="#d6604d"/><stop offset="0.7392" stop-color="#e58368"/><stop offset="0.7431" stop-color="#ea8d70"/><stop offset="0.7471" stop-color="#eb9172"/><stop offset="0.751" stop-color="#f2a17f"/><stop offset="0.7549" stop-color="#f4a683"/><stop offset="0.7588" stop-color="#f7b99c"/><stop offset="0.7627" stop-color="#f8bfa4"/><stop offset="0.7667" stop-color="#f8e6dd"/><stop offset="0.7706" stop-color="#f8f2ef"/><stop offset="0.7745" stop-color="#a8cee1"/><stop offset="0.7784" stop-color="#90c4dd"/><stop offset="0.7824" stop-color="#6fafd2"/><stop offset="0.7863" stop-color="#65a9cf"/><stop offset="0.7902" stop-color="#529cc8"/><stop offset="0.798" stop-color="#4391c2"/><stop offset="0.8216" stop-color="#3682ba"/><stop offset="0.8451" stop-color="#327cb7"/><stop offset="0.998" stop-color="#2f79b5"/></linearGradient><linearGradient id="a19"><stop offset="0.001961" stop-color="#307ab6"/><stop offset="0.2098" stop-color="#327cb7"/><stop offset="0.249" stop-color="#3884bb"/><stop offset="0.2647" stop-color="#3f8dc0"/><stop offset="0.2725" stop-color="#4594c4"/><stop offset="0.2804" stop-color="#569fca"/><stop offset="0.2882" stop-color="#75b3d4"/><stop offset="0.2922" stop-color="#96c7df"/><stop offset="0.2961" stop-color="#b3d3e3"/><stop offset="0.3" stop-color="#f9f0eb"/><stop offset="0.3039" stop-color="#f8e1d5"/><stop offset="0.3078" stop-color="#f8bfa4"/><stop offset="0.3118" stop-color="#f7b89a"/><stop offset="0.3157" stop-color="#f4a683"/><stop offset="0.3196" stop-color="#f2a07f"/><stop offset="0.3235" stop-color="#ec9374"/><stop offset="0.3314" stop-color="#e6866a"/><stop offset="0.3549" stop-color="#db6b55"/><stop offset="0.3863" stop-color="#d05548"/><stop offset="0.449" stop-color="#c6413e"/><stop offset="0.5118" stop-color="#c2383a"/><stop offset="0.6137" stop-color="#c43b3c"/><stop offset="0.6765" stop-color="#cb4942"/><stop offset="0.7157" stop-color="#d35a4a"/><stop offset="0.7392" stop-color="#db6b55"/><stop offset="0.7627" stop-color="#e6866a"/><stop offset="0.7667" stop-color="#ec9274"/><stop offset="0.7706" stop-color="#ee9677"/><stop offset="0.7745" stop-color="#f3a483"/><stop offset="0.7784" stop-color="#f5a886"/><stop offset="0.7824" stop-color="#f8bea2"/><stop offset="0.7863" stop-color="#f9c4a9"/><stop offset="0.7902" stop-color="#f8eae3"/><stop offset="0.7941" stop-color="#f8f4f2"/><stop offset="0.798" stop-color="#a5cee2"/><stop offset="0.802" stop-color="#90c4dd"/><stop offset="0.8059" stop-color="#6eaed2"/><stop offset="0.8098" stop-color="#65a9cf"/><stop offset="0.8137" stop-color="#539dc9"/><stop offset="0.8176" stop-color="#4f9bc7"/><stop offset="0.8216" stop-color="#4493c3"/><stop offset="0.8373" stop-color="#3a88bd"/><stop offset="0.8608" stop-color="#3580b9"/><stop offset="0.9235" stop-color="#307ab6"/><stop offset="0.998" stop-color="#307ab6"/></linearGradient><linearGradient id="a20"><stop offset="0.001961" stop-color="#327cb7"/><stop offset="0.2255" stop-color="#337eb8"/><stop offset="0.2647" stop-color="#3985bc"/><stop offset="0.2882" stop-color="#4190c1"/><stop offset="0.2961" stop-color="#4b98c6"/><stop offset="0.3039" stop-color="#5da4cc"/><stop offset="0.3118" stop-color="#7eb8d7"/><stop offset="0.3157" stop-color="#a0cce2"/><stop offset="0.3196" stop-color="#bcd6e3"/><stop offset="0.3235" stop-color="#f9ede5"/><stop offset="0.3275" stop-color="#f9ded0"/><stop offset="0.3314" stop-color="#f8bfa4"/><stop offset="0.3353" stop-color="#f7b89a"/><stop offset="0.3392" stop-color="#f5a886"/><stop offset="0.3549" stop-color="#e8896c"/><stop offset="0.3784" stop-color="#dc6e57"/><stop offset="0.4176" stop-color="#d05548"/><stop offset="0.4725" stop-color="#c84440"/><stop offset="0.551" stop-color="#c43b3c"/><stop offset="0.6294" stop-color="#c53e3d"/><stop offset="0.7" stop-color="#cc4c44"/><stop offset="0.7314" stop-color="#d35a4a"/><stop offset="0.7549" stop-color="#da6853"/><stop offset="0.7745" stop-color="#e37f65"/><stop offset="0.7784" stop-color="#e48066"/><stop offset="0.7824" stop-color="#e8896c"/><stop offset="0.7863" stop-color="#e98b6e"/><stop offset="0.7902" stop-color="#ee9878"/><stop offset="0.7941" stop-color="#f09c7b"/><stop offset="0.798" stop-color="#f4ab8a"/><stop offset="0.802" stop-color="#f6af8e"/><stop offset="0.8059" stop-color="#f9c5aa"/><stop offset="0.8098" stop-color="#facab1"/><stop offset="0.8137" stop-color="#f5ede9"/><stop offset="0.8176" stop-color="#f3f5f6"/><stop offset="0.8216" stop-color="#a2cde2"/><stop offset="0.8255" stop-color="#90c4dd"/><stop offset="0.8294" stop-color="#6fafd2"/><stop offset="0.8333" stop-color="#68abd0"/><stop offset="0.8373" stop-color="#569fca"/><stop offset="0.8412" stop-color="#529dc8"/><stop offset="0.8451" stop-color="#4595c4"/><stop offset="0.8608" stop-color="#3c89be"/><stop offset="0.8882" stop-color="#3681ba"/><stop offset="0.998" stop-color="#327cb7"/></linearGradient><linearGradient id="a21"><stop offset="0.001961" stop-color="#3480b9"/><stop offset="0.2333" stop-color="#3580b9"/><stop offset="0.2804" stop-color="#3985bc"/><stop offset="0.3039" stop-color="#3f8ec0"/><stop offset="0.3118" stop-color="#4594c3"/><stop offset="0.3196" stop-color="#519cc8"/><stop offset="0.3275" stop-color="#65a8cf"/><stop offset="0.3353" stop-color="#89bedb"/><stop offset="0.3392" stop-color="#acd2e5"/><stop offset="0.3431" stop-color="#c7d9e2"/><stop offset="0.3471" stop-color="#fae7dc"/><stop offset="0.351" stop-color="#fad8c7"/><stop offset="0.3549" stop-color="#f8bda1"/><stop offset="0.3588" stop-color="#f7b697"/><stop offset="0.3627" stop-color="#f5a886"/><stop offset="0.3667" stop-color="#f2a280"/><stop offset="0.3706" stop-color="#ee9677"/><stop offset="0.3863" stop-color="#e48066"/><stop offset="0.402" stop-color="#dd7059"/><stop offset="0.4255" stop-color="#d6604d"/><stop offset="0.4451" stop-color="#d15648"/><stop offset="0.4882" stop-color="#cb4942"/><stop offset="0.5431" stop-color="#c6413e"/><stop offset="0.6373" stop-color="#c6413e"/><stop offset="0.7078" stop-color="#cc4c44"/><stop offset="0.7471" stop-color="#d35a4a"/><stop offset="0.7863" stop-color="#de735c"/><stop offset="0.7941" stop-color="#e27b62"/><stop offset="0.798" stop-color="#e68468"/><stop offset="0.802" stop-color="#e6866a"/><stop offset="0.8059" stop-color="#ea8f71"/><stop offset="0.8098" stop-color="#eb9172"/><stop offset="0.8137" stop-color="#f19e7d"/><stop offset="0.8176" stop-color="#f2a17f"/><stop offset="0.8216" stop-color="#f6b090"/><stop offset="0.8255" stop-color="#f6b394"/><stop offset="0.8294" stop-color="#fbcfb7"/><stop offset="0.8333" stop-color="#fcd5bf"/><stop offset="0.8373" stop-color="#e6e9ea"/><stop offset="0.8412" stop-color="#e1edf3"/><stop offset="0.8451" stop-color="#98c7df"/><stop offset="0.849" stop-color="#8ac0db"/><stop offset="0.8529" stop-color="#6daed1"/><stop offset="0.8569" stop-color="#68abd0"/><stop offset="0.8608" stop-color="#569fc9"/><stop offset="0.8647" stop-color="#529dc8"/><stop offset="0.8686" stop-color="#4896c5"/><stop offset="0.8765" stop-color="#4190c2"/><stop offset="0.8922" stop-color="#3b89be"/><stop offset="0.9235" stop-color="#3681ba"/><stop offset="0.998" stop-color="#3480b9"/></linearGradient><linearGradient id="a22"><stop offset="0.001961" stop-color="#3681ba"/><stop offset="0.2373" stop-color="#3681ba"/><stop offset="0.3" stop-color="#3a87bd"/><stop offset="0.3275" stop-color="#4291c2"/><stop offset="0.3353" stop-color="#4a98c5"/><stop offset="0.3431" stop-color="#59a1ca"/><stop offset="0.351" stop-color="#70afd2"/><stop offset="0.3588" stop-color="#9ac8e0"/><stop offset="0.3627" stop-color="#c2ddec"/><stop offset="0.3667" stop-color="#d7dfe2"/><stop offset="0.3706" stop-color="#fce2d2"/><stop offset="0.3745" stop-color="#fad3bf"/><stop offset="0.3784" stop-color="#f8bb9e"/><stop offset="0.3824" stop-color="#f6b495"/><stop offset="0.3863" stop-color="#f5a886"/><stop offset="0.402" stop-color="#e98b6e"/><stop offset="0.4176" stop-color="#e17860"/><stop offset="0.449" stop-color="#d7634f"/><stop offset="0.4765" stop-color="#d15648"/><stop offset="0.5275" stop-color="#cb4942"/><stop offset="0.5745" stop-color="#c84440"/><stop offset="0.6529" stop-color="#c84440"/><stop offset="0.7" stop-color="#cb4942"/><stop offset="0.7471" stop-color="#d05548"/><stop offset="0.7784" stop-color="#d7634f"/><stop offset="0.8098" stop-color="#e17860"/><stop offset="0.8137" stop-color="#e37f65"/><stop offset="0.8176" stop-color="#e48066"/><stop offset="0.8216" stop-color="#e8896d"/><stop offset="0.8255" stop-color="#e98b6e"/><stop offset="0.8294" stop-color="#ee9677"/><stop offset="0.8333" stop-color="#ef9979"/><stop offset="0.8373" stop-color="#f4a684"/><stop offset="0.8412" stop-color="#f5a886"/><stop offset="0.8451" stop-color="#f7b89b"/><stop offset="0.849" stop-color="#f8bb9e"/><stop offset="0.8529" stop-color="#fbdbc9"/><stop offset="0.8569" stop-color="#fce0d0"/><stop offset="0.8608" stop-color="#cfe0e9"/><stop offset="0.8647" stop-color="#c7e0ed"/><stop offset="0.8686" stop-color="#90c3dd"/><stop offset="0.8725" stop-color="#87beda"/><stop offset="0.8765" stop-color="#6cadd1"/><stop offset="0.8804" stop-color="#68abd0"/><stop offset="0.8843" stop-color="#58a0ca"/><stop offset="0.8882" stop-color="#569fc9"/><stop offset="0.8922" stop-color="#4896c5"/><stop offset="0.9157" stop-color="#3c8abf"/><stop offset="0.9549" stop-color="#3783bb"/><stop offset="0.998" stop-color="#3681ba"/></linearGradient><linearGradient id="a23"><stop offset="0.001961" stop-color="#3885bc"/><stop offset="0.2882" stop-color="#3985bc"/><stop offset="0.3118" stop-color="#3a87bd"/><stop offset="0.3431" stop-color="#4191c2"/><stop offset="0.351" stop-color="#4695c4"/><stop offset="0.3588" stop-color="#529cc8"/><stop offset="0.3667" stop-color="#63a7ce"/><stop offset="0.3745" stop-color="#7cb7d7"/><stop offset="0.3784" stop-color="#93c6de"/><stop offset="0.3824" stop-color="#b3d6e7"/><stop offset="0.3863" stop-color="#e7f0f4"/><stop offset="0.3902" stop-color="#f0e8e2"/><stop offset="0.3941" stop-color="#fddbc7"/><stop offset="0.398" stop-color="#fbceb6"/><stop offset="0.402" stop-color="#f7b99c"/><stop offset="0.4098" stop-color="#f4a683"/><stop offset="0.4255" stop-color="#e98b6e"/><stop offset="0.4569" stop-color="#dd7059"/><stop offset="0.4961" stop-color="#d35a4a"/><stop offset="0.5275" stop-color="#cf5246"/><stop offset="0.5745" stop-color="#cb4942"/><stop offset="0.6529" stop-color="#c94741"/><stop offset="0.6922" stop-color="#cb4942"/><stop offset="0.7471" stop-color="#cf5246"/><stop offset="0.7941" stop-color="#d7634f"/><stop offset="0.8059" stop-color="#db6c57"/><stop offset="0.8176" stop-color="#dd7059"/><stop offset="0.8216" stop-color="#e0775f"/><stop offset="0.8333" stop-color="#e37e64"/><stop offset="0.8373" stop-color="#e68569"/><stop offset="0.8412" stop-color="#e6866a"/><stop offset="0.8451" stop-color="#ea8f71"/><stop offset="0.849" stop-color="#eb9172"/><stop offset="0.8529" stop-color="#f09c7b"/><stop offset="0.8569" stop-color="#f19e7d"/><stop offset="0.8608" stop-color="#f5ac8c"/><stop offset="0.8647" stop-color="#f6af8e"/><stop offset="0.8686" stop-color="#f9c1a6"/><stop offset="0.8725" stop-color="#f9c4a9"/><stop offset="0.8765" stop-color="#fae6da"/><stop offset="0.8804" stop-color="#faeae1"/><stop offset="0.8843" stop-color="#bcd8e7"/><stop offset="0.8882" stop-color="#b3d6e8"/><stop offset="0.8922" stop-color="#86bdda"/><stop offset="0.8961" stop-color="#81bad8"/><stop offset="0.9" stop-color="#68aad0"/><stop offset="0.9039" stop-color="#65a9cf"/><stop offset="0.9078" stop-color="#57a0ca"/><stop offset="0.9118" stop-color="#569fc9"/><stop offset="0.9157" stop-color="#4a98c5"/><stop offset="0.9314" stop-color="#3f8ec0"/><stop offset="0.9549" stop-color="#3b88be"/><stop offset="0.998" stop-color="#3885bc"/></linearGradient><linearGradient id="a24"><stop offset="0.001961" stop-color="#3b88be"/><stop offset="0.3039" stop-color="#3a87bd"/><stop offset="0.3235" stop-color="#3b88be"/><stop offset="0.3588" stop-color="#4191c2"/><stop offset="0.3745" stop-color="#4e9ac7"/><stop offset="0.3824" stop-color="#5ca3cb"/><stop offset="0.3902" stop-color="#6eaed2"/><stop offset="0.3941" stop-color="#7bb6d6"/><stop offset="0.398" stop-color="#8bc0db"/><stop offset="0.402" stop-color="#a5cee3"/><stop offset="0.4059" stop-color="#c6dde8"/><stop offset="0.4098" stop-color="#f8f2ef"/><stop offset="0.4137" stop-color="#f9e3d7"/><stop offset="0.4176" stop-color="#fbceb7"/><stop offset="0.4255" stop-color="#f7b596"/><stop offset="0.4333" stop-color="#f4a683"/><stop offset="0.4569" stop-color="#e58368"/><stop offset="0.4804" stop-color="#dd7059"/><stop offset="0.5196" stop-color="#d55d4c"/><stop offset="0.5824" stop-color="#ce4f45"/><stop offset="0.7078" stop-color="#cc4c44"/><stop offset="0.7627" stop-color="#d05548"/><stop offset="0.7941" stop-color="#d6604d"/><stop offset="0.8333" stop-color="#dd7059"/><stop offset="0.8569" stop-color="#e58368"/><stop offset="0.8608" stop-color="#e98c6f"/><stop offset="0.8725" stop-color="#ef9979"/><stop offset="0.8765" stop-color="#f3a482"/><stop offset="0.8804" stop-color="#f4a683"/><stop offset="0.8843" stop-color="#f7b596"/><stop offset="0.8882" stop-color="#f7b799"/><stop offset="0.8922" stop-color="#fbceb6"/><stop offset="0.8961" stop-color="#fbd0b9"/><stop offset="0.9" stop-color="#f8f1ed"/><stop offset="0.9039" stop-color="#f8f4f2"/><stop offset="0.9078" stop-color="#aad1e4"/><stop offset="0.9118" stop-color="#a2cde3"/><stop offset="0.9157" stop-color="#7eb8d7"/><stop offset="0.9196" stop-color="#7bb6d6"/><stop offset="0.9235" stop-color="#67aacf"/><stop offset="0.9275" stop-color="#65a9cf"/><stop offset="0.9314" stop-color="#579fca"/><stop offset="0.9353" stop-color="#569fc9"/><stop offset="0.9392" stop-color="#4a97c5"/><stop offset="0.9471" stop-color="#4393c3"/><stop offset="0.998" stop-color="#3b88be"/></linearGradient><linearGradient id="a25"><stop offset="0.001961" stop-color="#3e8cbf"/><stop offset="0.04902" stop-color="#3b88be"/><stop offset="0.3078" stop-color="#3b88be"/><stop offset="0.3745" stop-color="#4191c2"/><stop offset="0.3824" stop-color="#4595c4"/><stop offset="0.398" stop-color="#569fca"/><stop offset="0.4059" stop-color="#63a7ce"/><stop offset="0.4137" stop-color="#7ab6d6"/><stop offset="0.4176" stop-color="#8ac0db"/><stop offset="0.4216" stop-color="#a1cce2"/><stop offset="0.4255" stop-color="#c0dceb"/><stop offset="0.4294" stop-color="#d9e2e6"/><stop offset="0.4333" stop-color="#fae9df"/><stop offset="0.4373" stop-color="#fadac9"/><stop offset="0.4412" stop-color="#f9c6ac"/><stop offset="0.4569" stop-color="#f3a481"/><stop offset="0.4647" stop-color="#ee9677"/><stop offset="0.4882" stop-color="#e37e64"/><stop offset="0.5078" stop-color="#dd7059"/><stop offset="0.5392" stop-color="#d7614e"/><stop offset="0.5902" stop-color="#d05548"/><stop offset="0.6373" stop-color="#ce4f45"/><stop offset="0.7157" stop-color="#ce4f45"/><stop offset="0.802" stop-color="#d55d4c"/><stop offset="0.8255" stop-color="#d86551"/><stop offset="0.8294" stop-color="#da6a55"/><stop offset="0.8647" stop-color="#e27b62"/><stop offset="0.8686" stop-color="#e58267"/><stop offset="0.8725" stop-color="#e58368"/><stop offset="0.8843" stop-color="#ec9274"/><stop offset="0.8882" stop-color="#ec9374"/><stop offset="0.8922" stop-color="#f29f7e"/><stop offset="0.8961" stop-color="#f2a17f"/><stop offset="0.9" stop-color="#f5ad8d"/><stop offset="0.9039" stop-color="#f6af8e"/><stop offset="0.9078" stop-color="#f8bea2"/><stop offset="0.9118" stop-color="#f8bfa4"/><stop offset="0.9157" stop-color="#fbdfce"/><stop offset="0.9196" stop-color="#fce2d2"/><stop offset="0.9235" stop-color="#e2ebf0"/><stop offset="0.9275" stop-color="#e0ecf3"/><stop offset="0.9314" stop-color="#9dcbe1"/><stop offset="0.9353" stop-color="#98c8e0"/><stop offset="0.9392" stop-color="#7ab6d6"/><stop offset="0.9431" stop-color="#78b4d5"/><stop offset="0.9471" stop-color="#63a7ce"/><stop offset="0.951" stop-color="#62a7ce"/><stop offset="0.9549" stop-color="#569fca"/><stop offset="0.9588" stop-color="#569fc9"/><stop offset="0.9627" stop-color="#4d99c6"/><stop offset="0.9706" stop-color="#4695c4"/><stop offset="0.998" stop-color="#3f8ec0"/></linearGradient><linearGradient id="a26"><stop offset="0.001961" stop-color="#4393c3"/><stop offset="0.04118" stop-color="#3e8cbf"/><stop offset="0.08824" stop-color="#3c8abe"/><stop offset="0.3078" stop-color="#3c8abe"/><stop offset="0.3745" stop-color="#408ec1"/><stop offset="0.3941" stop-color="#4393c3"/><stop offset="0.4137" stop-color="#539dc9"/><stop offset="0.4216" stop-color="#5fa5cd"/><stop offset="0.4333" stop-color="#7bb6d6"/><stop offset="0.4412" stop-color="#9dcbe1"/><stop offset="0.4451" stop-color="#c0dcea"/><stop offset="0.449" stop-color="#ecf2f5"/><stop offset="0.4569" stop-color="#fcdfcf"/><stop offset="0.4647" stop-color="#f8bfa4"/><stop offset="0.4725" stop-color="#f6af8e"/><stop offset="0.4804" stop-color="#f2a17f"/><stop offset="0.4882" stop-color="#ee9677"/><stop offset="0.5196" stop-color="#e17860"/><stop offset="0.551" stop-color="#da6853"/><stop offset="0.598" stop-color="#d35a4a"/><stop offset="0.6686" stop-color="#cf5246"/><stop offset="0.7314" stop-color="#cf5246"/><stop offset="0.8098" stop-color="#d55d4c"/><stop offset="0.8569" stop-color="#dc6e57"/><stop offset="0.8804" stop-color="#e27b62"/><stop offset="0.8843" stop-color="#e58267"/><stop offset="0.8961" stop-color="#e8896c"/><stop offset="0.9" stop-color="#eb9072"/><stop offset="0.9039" stop-color="#eb9172"/><stop offset="0.9078" stop-color="#ef9b7a"/><stop offset="0.9118" stop-color="#f09c7b"/><stop offset="0.9157" stop-color="#f4a785"/><stop offset="0.9196" stop-color="#f5a886"/><stop offset="0.9235" stop-color="#f7b698"/><stop offset="0.9275" stop-color="#f7b799"/><stop offset="0.9314" stop-color="#facbb2"/><stop offset="0.9353" stop-color="#fbccb4"/><stop offset="0.9392" stop-color="#f9ece4"/><stop offset="0.9431" stop-color="#f9eee7"/><stop offset="0.9471" stop-color="#bedbea"/><stop offset="0.951" stop-color="#bbdaea"/><stop offset="0.9549" stop-color="#8fc3dd"/><stop offset="0.9588" stop-color="#8dc2dc"/><stop offset="0.9627" stop-color="#73b1d3"/><stop offset="0.9667" stop-color="#71b0d3"/><stop offset="0.9706" stop-color="#62a7ce"/><stop offset="0.9745" stop-color="#62a7ce"/><stop offset="0.9784" stop-color="#569fc9"/><stop offset="0.9824" stop-color="#569fc9"/><stop offset="0.9863" stop-color="#4c99c6"/><stop offset="0.998" stop-color="#4695c4"/></linearGradient><linearGradient id="a27"><stop offset="0.001961" stop-color="#59a1ca"/><stop offset="0.005882" stop-color="#59a1ca"/><stop offset="0.009804" stop-color="#4f9bc7"/><stop offset="0.01373" stop-color="#4f9bc7"/><stop offset="0.01765" stop-color="#4997c5"/><stop offset="0.03333" stop-color="#4393c3"/><stop offset="0.06471" stop-color="#3f8ec0"/><stop offset="0.3039" stop-color="#3e8cc0"/><stop offset="0.3745" stop-color="#408ec1"/><stop offset="0.4059" stop-color="#4494c3"/><stop offset="0.4176" stop-color="#4997c5"/><stop offset="0.4333" stop-color="#569fc9"/><stop offset="0.449" stop-color="#71b0d3"/><stop offset="0.4569" stop-color="#8dc2dc"/><stop offset="0.4608" stop-color="#a1cce2"/><stop offset="0.4647" stop-color="#b8d8e9"/><stop offset="0.4725" stop-color="#f9efe9"/><stop offset="0.4804" stop-color="#fbd0b9"/><stop offset="0.4882" stop-color="#f7b99c"/><stop offset="0.5039" stop-color="#f2a17f"/><stop offset="0.5275" stop-color="#e6866a"/><stop offset="0.5549" stop-color="#df745c"/><stop offset="0.5902" stop-color="#d86551"/><stop offset="0.6373" stop-color="#d35a4a"/><stop offset="0.7392" stop-color="#d05548"/><stop offset="0.7941" stop-color="#d35a4a"/><stop offset="0.849" stop-color="#d86551"/><stop offset="0.8961" stop-color="#e27b62"/><stop offset="0.9" stop-color="#e58267"/><stop offset="0.9118" stop-color="#e8896c"/><stop offset="0.9157" stop-color="#eb9072"/><stop offset="0.9275" stop-color="#ef9979"/><stop offset="0.9314" stop-color="#f3a380"/><stop offset="0.9353" stop-color="#f3a481"/><stop offset="0.9392" stop-color="#f6b090"/><stop offset="0.9431" stop-color="#f6b191"/><stop offset="0.9471" stop-color="#f9c1a5"/><stop offset="0.951" stop-color="#f9c2a7"/><stop offset="0.9549" stop-color="#fcdecd"/><stop offset="0.9588" stop-color="#fcdfcf"/><stop offset="0.9627" stop-color="#f2f4f4"/><stop offset="0.9667" stop-color="#f2f5f6"/><stop offset="0.9706" stop-color="#a7d0e4"/><stop offset="0.9745" stop-color="#a5cee3"/><stop offset="0.9784" stop-color="#82bbd8"/><stop offset="0.9824" stop-color="#81bad8"/><stop offset="0.9863" stop-color="#6cadd1"/><stop offset="0.9902" stop-color="#6bacd1"/><stop offset="0.9941" stop-color="#5fa5cd"/><stop offset="0.998" stop-color="#5fa5cd"/></linearGradient><linearGradient id="a28"><stop offset="0.001961" stop-color="#84bcd9"/><stop offset="0.005882" stop-color="#84bcd9"/><stop offset="0.009804" stop-color="#6eaed2"/><stop offset="0.01373" stop-color="#6eaed2"/><stop offset="0.01765" stop-color="#62a7ce"/><stop offset="0.02157" stop-color="#62a6ce"/><stop offset="0.02549" stop-color="#59a1ca"/><stop offset="0.02941" stop-color="#58a1ca"/><stop offset="0.03333" stop-color="#4f9bc7"/><stop offset="0.0451" stop-color="#4c99c6"/><stop offset="0.04902" stop-color="#4695c4"/><stop offset="0.05686" stop-color="#4393c3"/><stop offset="0.09608" stop-color="#408fc1"/><stop offset="0.3784" stop-color="#408fc1"/><stop offset="0.4176" stop-color="#4393c3"/><stop offset="0.4333" stop-color="#4997c5"/><stop offset="0.4451" stop-color="#529dc8"/><stop offset="0.4569" stop-color="#5fa5cd"/><stop offset="0.4686" stop-color="#77b4d5"/><stop offset="0.4725" stop-color="#81bad8"/><stop offset="0.4804" stop-color="#a0cce2"/><stop offset="0.4882" stop-color="#e6eff4"/><stop offset="0.4961" stop-color="#fbe4d6"/><stop offset="0.5039" stop-color="#fac8af"/><stop offset="0.5118" stop-color="#f7b596"/><stop offset="0.5196" stop-color="#f5a886"/><stop offset="0.5431" stop-color="#e98b6e"/><stop offset="0.5863" stop-color="#de715a"/><stop offset="0.6294" stop-color="#d7634f"/><stop offset="0.6843" stop-color="#d35a4a"/><stop offset="0.7941" stop-color="#d35a4a"/><stop offset="0.8569" stop-color="#d86551"/><stop offset="0.8882" stop-color="#dd7059"/><stop offset="0.8922" stop-color="#df755d"/><stop offset="0.9039" stop-color="#e17860"/><stop offset="0.9157" stop-color="#e58368"/><stop offset="0.9353" stop-color="#ea8e70"/><stop offset="0.9392" stop-color="#ed9676"/><stop offset="0.9431" stop-color="#ee9677"/><stop offset="0.9471" stop-color="#f2a07e"/><stop offset="0.951" stop-color="#f2a17f"/><stop offset="0.9549" stop-color="#f5ac8b"/><stop offset="0.9588" stop-color="#f5ac8b"/><stop offset="0.9627" stop-color="#f8bb9e"/><stop offset="0.9667" stop-color="#f8bb9e"/><stop offset="0.9706" stop-color="#fbd0b9"/><stop offset="0.9745" stop-color="#fbd0b9"/><stop offset="0.9784" stop-color="#f9ece4"/><stop offset="0.9824" stop-color="#f9ede5"/><stop offset="0.9863" stop-color="#c8e0ed"/><stop offset="0.9902" stop-color="#c7e0ed"/><stop offset="0.9941" stop-color="#96c7df"/><stop offset="0.998" stop-color="#96c7df"/></linearGradient><linearGradient id="a29"><stop offset="0.001961" stop-color="#f9eee7"/><stop offset="0.005882" stop-color="#f9eee7"/><stop offset="0.009804" stop-color="#c7e0ed"/><stop offset="0.01373" stop-color="#c6e0ed"/><stop offset="0.01765" stop-color="#96c7df"/><stop offset="0.02157" stop-color="#95c6df"/><stop offset="0.02549" stop-color="#7bb6d6"/><stop offset="0.02941" stop-color="#7ab6d6"/><stop offset="0.03333" stop-color="#6bacd1"/><stop offset="0.03725" stop-color="#6bacd1"/><stop offset="0.04118" stop-color="#5fa5cd"/><stop offset="0.0451" stop-color="#5ea4cc"/><stop offset="0.04902" stop-color="#569fc9"/><stop offset="0.06078" stop-color="#529dc8"/><stop offset="0.06471" stop-color="#4c99c6"/><stop offset="0.09608" stop-color="#4393c3"/><stop offset="0.1196" stop-color="#4291c2"/><stop offset="0.398" stop-color="#4292c2"/><stop offset="0.4333" stop-color="#4695c4"/><stop offset="0.4569" stop-color="#4f9bc7"/><stop offset="0.4804" stop-color="#68abd0"/><stop offset="0.4961" stop-color="#93c6de"/><stop offset="0.5039" stop-color="#bddbea"/><stop offset="0.5118" stop-color="#f9f0eb"/><stop offset="0.5196" stop-color="#fdd9c4"/><stop offset="0.5275" stop-color="#f8bfa4"/><stop offset="0.5431" stop-color="#f4a683"/><stop offset="0.5667" stop-color="#e98b6e"/><stop offset="0.5902" stop-color="#e27b62"/><stop offset="0.6137" stop-color="#dd7059"/><stop offset="0.6843" stop-color="#d6604d"/><stop offset="0.802" stop-color="#d55d4c"/><stop offset="0.8725" stop-color="#da6853"/><stop offset="0.9118" stop-color="#df765e"/><stop offset="0.9157" stop-color="#e27b61"/><stop offset="0.9275" stop-color="#e37e64"/><stop offset="0.9471" stop-color="#ea8e70"/><stop offset="0.951" stop-color="#ea8e70"/><stop offset="0.9549" stop-color="#ed9676"/><stop offset="0.9588" stop-color="#ee9677"/><stop offset="0.9627" stop-color="#f2a17f"/><stop offset="0.9667" stop-color="#f2a17f"/><stop offset="0.9706" stop-color="#f5aa88"/><stop offset="0.9745" stop-color="#f5aa89"/><stop offset="0.9784" stop-color="#f7b596"/><stop offset="0.9824" stop-color="#f7b596"/><stop offset="0.9863" stop-color="#f9c6ac"/><stop offset="0.9902" stop-color="#f9c6ac"/><stop offset="0.9941" stop-color="#fbe2d4"/><stop offset="0.998" stop-color="#fbe3d4"/></linearGradient><linearGradient id="a30"><stop offset="0.001961" stop-color="#f7b99c"/><stop offset="0.005882" stop-color="#f7b99c"/><stop offset="0.009804" stop-color="#fbccb4"/><stop offset="0.01373" stop-color="#fbcdb5"/><stop offset="0.01765" stop-color="#fbe5d8"/><stop offset="0.02157" stop-color="#fbe5d9"/><stop offset="0.02549" stop-color="#ecf2f5"/><stop offset="0.02941" stop-color="#eaf1f4"/><stop offset="0.03333" stop-color="#a9d1e5"/><stop offset="0.03725" stop-color="#a8d0e4"/><stop offset="0.04118" stop-color="#8ac0db"/><stop offset="0.0451" stop-color="#89bfdb"/><stop offset="0.04902" stop-color="#75b2d4"/><stop offset="0.05294" stop-color="#74b2d4"/><stop offset="0.05686" stop-color="#68abd0"/><stop offset="0.06078" stop-color="#68aad0"/><stop offset="0.06471" stop-color="#5fa5cd"/><stop offset="0.06863" stop-color="#5ea4cc"/><stop offset="0.07255" stop-color="#569fc9"/><stop offset="0.08039" stop-color="#529dc8"/><stop offset="0.1039" stop-color="#4997c5"/><stop offset="0.151" stop-color="#4393c3"/><stop offset="0.402" stop-color="#4393c3"/><stop offset="0.449" stop-color="#4997c5"/><stop offset="0.4725" stop-color="#529dc8"/><stop offset="0.4961" stop-color="#68abd0"/><stop offset="0.5039" stop-color="#75b2d4"/><stop offset="0.5118" stop-color="#8ac0db"/><stop offset="0.5196" stop-color="#a9d1e5"/><stop offset="0.5275" stop-color="#eff3f5"/><stop offset="0.5353" stop-color="#fbe4d6"/><stop offset="0.5431" stop-color="#facab1"/><stop offset="0.5471" stop-color="#f9c1a6"/><stop offset="0.5588" stop-color="#f5ac8b"/><stop offset="0.5706" stop-color="#f19d7c"/><stop offset="0.6059" stop-color="#e48066"/><stop offset="0.6608" stop-color="#db6b55"/><stop offset="0.7392" stop-color="#d6604d"/><stop offset="0.8176" stop-color="#d6604d"/><stop offset="0.8804" stop-color="#da6853"/><stop offset="0.9353" stop-color="#e27b62"/><stop offset="0.9392" stop-color="#e48066"/><stop offset="0.951" stop-color="#e58368"/><stop offset="0.9627" stop-color="#ea8e70"/><stop offset="0.9667" stop-color="#ea8e70"/><stop offset="0.9706" stop-color="#ed9676"/><stop offset="0.9745" stop-color="#ee9677"/><stop offset="0.9784" stop-color="#f19e7d"/><stop offset="0.9824" stop-color="#f19e7d"/><stop offset="0.9863" stop-color="#f4a886"/><stop offset="0.9902" stop-color="#f5a886"/><stop offset="0.9941" stop-color="#f6b393"/><stop offset="0.998" stop-color="#f6b394"/></linearGradient><linearGradient id="a31"><stop offset="0.001961" stop-color="#f3a481"/><stop offset="0.005882" stop-color="#f3a481"/><stop offset="0.009804" stop-color="#f5ac8b"/><stop offset="0.01373" stop-color="#f5ad8c"/><stop offset="0.01765" stop-color="#f7b799"/><stop offset="0.02157" stop-color="#f7b799"/><stop offset="0.02549" stop-color="#f9c6ac"/><stop offset="0.02941" stop-color="#fac7ad"/><stop offset="0.03333" stop-color="#fcdfcf"/><stop offset="0.03725" stop-color="#fce0d0"/><stop offset="0.04118" stop-color="#f8f2ef"/><stop offset="0.0451" stop-color="#f5f1ee"/><stop offset="0.04902" stop-color="#c0dceb"/><stop offset="0.05294" stop-color="#bedbea"/><stop offset="0.05686" stop-color="#98c8e0"/><stop offset="0.06078" stop-color="#97c7df"/><stop offset="0.06471" stop-color="#81bad8"/><stop offset="0.06863" stop-color="#80b9d8"/><stop offset="0.07255" stop-color="#6eaed2"/><stop offset="0.07647" stop-color="#6eaed2"/><stop offset="0.08039" stop-color="#65a9cf"/><stop offset="0.08431" stop-color="#64a8ce"/><stop offset="0.08824" stop-color="#5ca3cb"/><stop offset="0.1118" stop-color="#4f9bc7"/><stop offset="0.1824" stop-color="#4695c4"/><stop offset="0.4098" stop-color="#4695c4"/><stop offset="0.4804" stop-color="#4f9bc7"/><stop offset="0.5039" stop-color="#5fa5cd"/><stop offset="0.5118" stop-color="#68abd0"/><stop offset="0.5275" stop-color="#84bcd9"/><stop offset="0.5353" stop-color="#a0cce2"/><stop offset="0.5431" stop-color="#d5e7f1"/><stop offset="0.551" stop-color="#f9ede5"/><stop offset="0.5588" stop-color="#fcd7c2"/><stop offset="0.5627" stop-color="#facbb2"/><stop offset="0.5706" stop-color="#f7b99c"/><stop offset="0.5784" stop-color="#f5ae8d"/><stop offset="0.5941" stop-color="#f09c7b"/><stop offset="0.6059" stop-color="#eb9172"/><stop offset="0.649" stop-color="#e17960"/><stop offset="0.6804" stop-color="#dc6e58"/><stop offset="0.7314" stop-color="#d86551"/><stop offset="0.8255" stop-color="#d7634f"/><stop offset="0.8961" stop-color="#db6b55"/><stop offset="0.9588" stop-color="#e48066"/><stop offset="0.9627" stop-color="#e6866a"/><stop offset="0.9745" stop-color="#e98b6e"/><stop offset="0.9784" stop-color="#eb9172"/><stop offset="0.9902" stop-color="#ee9677"/><stop offset="0.9941" stop-color="#f19e7d"/><stop offset="0.998" stop-color="#f19e7d"/></linearGradient><linearGradient id="a32"><stop offset="0.001961" stop-color="#ee9677"/><stop offset="0.005882" stop-color="#ee9677"/><stop offset="0.009804" stop-color="#f09c7b"/><stop offset="0.01373" stop-color="#f09c7b"/><stop offset="0.01765" stop-color="#f3a481"/><stop offset="0.02157" stop-color="#f3a481"/><stop offset="0.02549" stop-color="#f5ac8b"/><stop offset="0.02941" stop-color="#f5ad8c"/><stop offset="0.03333" stop-color="#f7b596"/><stop offset="0.03725" stop-color="#f7b597"/><stop offset="0.04118" stop-color="#f9c4a9"/><stop offset="0.0451" stop-color="#f9c5ab"/><stop offset="0.04902" stop-color="#fdd9c4"/><stop offset="0.05294" stop-color="#fcdac6"/><stop offset="0.05686" stop-color="#f9ede5"/><stop offset="0.06078" stop-color="#f7ece6"/><stop offset="0.06471" stop-color="#dbeaf2"/><stop offset="0.06863" stop-color="#d8e8f1"/><stop offset="0.07255" stop-color="#a5cee3"/><stop offset="0.07647" stop-color="#a2cde3"/><stop offset="0.08039" stop-color="#8ac0db"/><stop offset="0.08431" stop-color="#89bfdb"/><stop offset="0.08824" stop-color="#78b4d5"/><stop offset="0.09216" stop-color="#77b4d5"/><stop offset="0.09608" stop-color="#6bacd1"/><stop offset="0.1" stop-color="#6aacd0"/><stop offset="0.1039" stop-color="#62a7ce"/><stop offset="0.1431" stop-color="#4f9bc7"/><stop offset="0.2176" stop-color="#4c98c6"/><stop offset="0.2216" stop-color="#4997c5"/><stop offset="0.402" stop-color="#4997c5"/><stop offset="0.4098" stop-color="#4c99c6"/><stop offset="0.4647" stop-color="#4c99c6"/><stop offset="0.4961" stop-color="#529dc8"/><stop offset="0.5196" stop-color="#5fa5cd"/><stop offset="0.5353" stop-color="#71b0d3"/><stop offset="0.5431" stop-color="#81bad8"/><stop offset="0.551" stop-color="#98c8e0"/><stop offset="0.5588" stop-color="#bddbea"/><stop offset="0.5627" stop-color="#dee9ef"/><stop offset="0.5667" stop-color="#f8f4f2"/><stop offset="0.5745" stop-color="#fce2d2"/><stop offset="0.5784" stop-color="#fbd4bf"/><stop offset="0.5863" stop-color="#f9c0a5"/><stop offset="0.5941" stop-color="#f6b394"/><stop offset="0.6059" stop-color="#f4a683"/><stop offset="0.6176" stop-color="#ef9979"/><stop offset="0.6412" stop-color="#e7886c"/><stop offset="0.6882" stop-color="#df745c"/><stop offset="0.7314" stop-color="#db6b55"/><stop offset="0.7941" stop-color="#d86551"/><stop offset="0.8725" stop-color="#da6853"/><stop offset="0.951" stop-color="#e17860"/><stop offset="0.9627" stop-color="#e48066"/><stop offset="0.9824" stop-color="#e6866a"/><stop offset="0.9941" stop-color="#eb9172"/><stop offset="0.998" stop-color="#eb9172"/></linearGradient><linearGradient id="a33"><stop offset="0.001961" stop-color="#e98b6e"/><stop offset="0.02157" stop-color="#ee9677"/><stop offset="0.02549" stop-color="#f09c7b"/><stop offset="0.02941" stop-color="#f09c7b"/><stop offset="0.03333" stop-color="#f3a481"/><stop offset="0.03725" stop-color="#f3a481"/><stop offset="0.04118" stop-color="#f5ac8b"/><stop offset="0.0451" stop-color="#f5ad8c"/><stop offset="0.04902" stop-color="#f7b596"/><stop offset="0.05294" stop-color="#f7b697"/><stop offset="0.05686" stop-color="#f9c2a7"/><stop offset="0.06078" stop-color="#f9c3a8"/><stop offset="0.06471" stop-color="#fcd3bc"/><stop offset="0.06863" stop-color="#fbd4bf"/><stop offset="0.07255" stop-color="#fae8de"/><stop offset="0.07647" stop-color="#f9e9df"/><stop offset="0.08039" stop-color="#f0f4f6"/><stop offset="0.08431" stop-color="#ebf1f5"/><stop offset="0.08824" stop-color="#b3d6e8"/><stop offset="0.09216" stop-color="#b1d5e7"/><stop offset="0.09608" stop-color="#96c7df"/><stop offset="0.1" stop-color="#94c6de"/><stop offset="0.1039" stop-color="#81bad8"/><stop offset="0.1078" stop-color="#7fb9d8"/><stop offset="0.1118" stop-color="#71b0d3"/><stop offset="0.1353" stop-color="#5ca3cb"/><stop offset="0.1667" stop-color="#529dc8"/><stop offset="0.1902" stop-color="#4f9bc7"/><stop offset="0.4725" stop-color="#4f9bc7"/><stop offset="0.5235" stop-color="#5aa2cb"/><stop offset="0.5431" stop-color="#68abd0"/><stop offset="0.551" stop-color="#71b0d3"/><stop offset="0.5588" stop-color="#81bad8"/><stop offset="0.5667" stop-color="#96c7df"/><stop offset="0.5745" stop-color="#b1d5e7"/><stop offset="0.5784" stop-color="#d5e6ef"/><stop offset="0.5824" stop-color="#eff3f5"/><stop offset="0.5902" stop-color="#fae8de"/><stop offset="0.5941" stop-color="#fbdbca"/><stop offset="0.602" stop-color="#fac8af"/><stop offset="0.6137" stop-color="#f7b596"/><stop offset="0.6333" stop-color="#f19f7d"/><stop offset="0.6647" stop-color="#e7886b"/><stop offset="0.7118" stop-color="#e0765e"/><stop offset="0.751" stop-color="#dc6e58"/><stop offset="0.8882" stop-color="#db6b55"/><stop offset="0.9588" stop-color="#e17860"/><stop offset="0.998" stop-color="#e8896c"/></linearGradient><linearGradient id="a34"><stop offset="0.001961" stop-color="#e6866a"/><stop offset="0.01373" stop-color="#e8896c"/><stop offset="0.0451" stop-color="#f19f7d"/><stop offset="0.04902" stop-color="#f4a683"/><stop offset="0.06078" stop-color="#f5ad8c"/><stop offset="0.06471" stop-color="#f7b596"/><stop offset="0.06863" stop-color="#f7b697"/><stop offset="0.07255" stop-color="#f8bfa4"/><stop offset="0.07647" stop-color="#f9c1a6"/><stop offset="0.08039" stop-color="#fbd0b9"/><stop offset="0.08431" stop-color="#fbd2bc"/><stop offset="0.08824" stop-color="#fbe5d8"/><stop offset="0.09216" stop-color="#fbe6db"/><stop offset="0.09608" stop-color="#f7f5f4"/><stop offset="0.1" stop-color="#f2f3f3"/><stop offset="0.1039" stop-color="#c2ddec"/><stop offset="0.1078" stop-color="#bedbeb"/><stop offset="0.1118" stop-color="#9dcbe1"/><stop offset="0.1157" stop-color="#9bc9e0"/><stop offset="0.1196" stop-color="#8ac0db"/><stop offset="0.1235" stop-color="#88bfdb"/><stop offset="0.1275" stop-color="#7bb6d6"/><stop offset="0.1314" stop-color="#79b5d5"/><stop offset="0.1353" stop-color="#6eaed2"/><stop offset="0.1392" stop-color="#6eaed2"/><stop offset="0.151" stop-color="#62a7ce"/><stop offset="0.1824" stop-color="#569fc9"/><stop offset="0.198" stop-color="#569fc9"/><stop offset="0.2059" stop-color="#529dc8"/><stop offset="0.4882" stop-color="#529dc8"/><stop offset="0.5392" stop-color="#5da4cc"/><stop offset="0.5588" stop-color="#6bacd1"/><stop offset="0.5745" stop-color="#81bad8"/><stop offset="0.5824" stop-color="#93c6de"/><stop offset="0.5902" stop-color="#acd2e5"/><stop offset="0.5941" stop-color="#cce2ed"/><stop offset="0.598" stop-color="#e1edf3"/><stop offset="0.602" stop-color="#f0edeb"/><stop offset="0.6059" stop-color="#f9ede5"/><stop offset="0.6098" stop-color="#fbe3d4"/><stop offset="0.6137" stop-color="#fddcc9"/><stop offset="0.6176" stop-color="#fbceb7"/><stop offset="0.6255" stop-color="#f8bea2"/><stop offset="0.649" stop-color="#f3a381"/><stop offset="0.6882" stop-color="#e7886b"/><stop offset="0.7275" stop-color="#e17960"/><stop offset="0.798" stop-color="#dc6e58"/><stop offset="0.8961" stop-color="#dc6e57"/><stop offset="0.9667" stop-color="#e17860"/><stop offset="0.998" stop-color="#e58368"/></linearGradient><linearGradient id="a35"><stop offset="0.001961" stop-color="#e58368"/><stop offset="0.02941" stop-color="#e98b6e"/><stop offset="0.03333" stop-color="#eb9172"/><stop offset="0.0451" stop-color="#ec9475"/><stop offset="0.06078" stop-color="#f19f7d"/><stop offset="0.06471" stop-color="#f4a683"/><stop offset="0.07647" stop-color="#f5ad8c"/><stop offset="0.08039" stop-color="#f7b596"/><stop offset="0.08431" stop-color="#f7b697"/><stop offset="0.08824" stop-color="#f8bfa4"/><stop offset="0.09216" stop-color="#f9c1a6"/><stop offset="0.09608" stop-color="#fbceb7"/><stop offset="0.1" stop-color="#fbd0ba"/><stop offset="0.1039" stop-color="#fbe3d4"/><stop offset="0.1078" stop-color="#fbe4d7"/><stop offset="0.1118" stop-color="#f8f2ef"/><stop offset="0.1157" stop-color="#f4f1ef"/><stop offset="0.1196" stop-color="#d4e6f1"/><stop offset="0.1235" stop-color="#cee3ef"/><stop offset="0.1275" stop-color="#a5cee3"/><stop offset="0.1314" stop-color="#a2cde3"/><stop offset="0.1353" stop-color="#90c4dd"/><stop offset="0.1392" stop-color="#8ec2dd"/><stop offset="0.1431" stop-color="#7eb8d7"/><stop offset="0.1667" stop-color="#65a9cf"/><stop offset="0.1902" stop-color="#5ca3cb"/><stop offset="0.2294" stop-color="#569fc9"/><stop offset="0.5039" stop-color="#569fc9"/><stop offset="0.5431" stop-color="#5ca3cb"/><stop offset="0.5667" stop-color="#65a9cf"/><stop offset="0.5824" stop-color="#75b2d4"/><stop offset="0.598" stop-color="#90c4dd"/><stop offset="0.6059" stop-color="#a7d0e4"/><stop offset="0.6098" stop-color="#c4deec"/><stop offset="0.6137" stop-color="#d7e8f1"/><stop offset="0.6176" stop-color="#ecedee"/><stop offset="0.6216" stop-color="#f8f1ed"/><stop offset="0.6255" stop-color="#fae7dc"/><stop offset="0.6294" stop-color="#fce2d2"/><stop offset="0.6333" stop-color="#fbd4bf"/><stop offset="0.6412" stop-color="#f9c3a8"/><stop offset="0.649" stop-color="#f7b89a"/><stop offset="0.6725" stop-color="#f2a17f"/><stop offset="0.7118" stop-color="#e7876b"/><stop offset="0.7627" stop-color="#e17860"/><stop offset="0.8176" stop-color="#dd7059"/><stop offset="0.9196" stop-color="#dd7059"/><stop offset="0.998" stop-color="#e48066"/></linearGradient><linearGradient id="a36"><stop offset="0.001961" stop-color="#e48066"/><stop offset="0.02157" stop-color="#e58368"/><stop offset="0.03333" stop-color="#e98b6e"/><stop offset="0.05294" stop-color="#eb9173"/><stop offset="0.07647" stop-color="#f2a27f"/><stop offset="0.08824" stop-color="#f6af8e"/><stop offset="0.09216" stop-color="#f6af8f"/><stop offset="0.1" stop-color="#f7b698"/><stop offset="0.1039" stop-color="#f8bfa4"/><stop offset="0.1078" stop-color="#f9c1a6"/><stop offset="0.1118" stop-color="#fbccb4"/><stop offset="0.1157" stop-color="#fbcfb7"/><stop offset="0.1196" stop-color="#fce0d0"/><stop offset="0.1235" stop-color="#fbe2d4"/><stop offset="0.1275" stop-color="#f9f0eb"/><stop offset="0.1314" stop-color="#f5efec"/><stop offset="0.1353" stop-color="#deebf2"/><stop offset="0.1392" stop-color="#d7e8f1"/><stop offset="0.1431" stop-color="#acd2e5"/><stop offset="0.1471" stop-color="#a9d0e4"/><stop offset="0.151" stop-color="#96c7df"/><stop offset="0.1549" stop-color="#93c5de"/><stop offset="0.1588" stop-color="#84bcd9"/><stop offset="0.1627" stop-color="#82bbd9"/><stop offset="0.1667" stop-color="#78b4d5"/><stop offset="0.1745" stop-color="#71b0d3"/><stop offset="0.1902" stop-color="#65a9cf"/><stop offset="0.2059" stop-color="#5fa5cd"/><stop offset="0.2451" stop-color="#59a1ca"/><stop offset="0.5275" stop-color="#59a1ca"/><stop offset="0.551" stop-color="#5ca3cb"/><stop offset="0.5824" stop-color="#68abd0"/><stop offset="0.598" stop-color="#75b2d4"/><stop offset="0.6137" stop-color="#90c4dd"/><stop offset="0.6216" stop-color="#a5cee3"/><stop offset="0.6255" stop-color="#bfdceb"/><stop offset="0.6294" stop-color="#cfe4ef"/><stop offset="0.6333" stop-color="#e9edf0"/><stop offset="0.6373" stop-color="#f8f3f0"/><stop offset="0.6412" stop-color="#faeae1"/><stop offset="0.6451" stop-color="#fbe5d8"/><stop offset="0.649" stop-color="#fbd9c6"/><stop offset="0.6529" stop-color="#fcd3bc"/><stop offset="0.6569" stop-color="#fac7ae"/><stop offset="0.6725" stop-color="#f6b192"/><stop offset="0.6961" stop-color="#f19d7c"/><stop offset="0.7353" stop-color="#e7876b"/><stop offset="0.7549" stop-color="#e48066"/><stop offset="0.8294" stop-color="#de735c"/><stop offset="0.9353" stop-color="#de735c"/><stop offset="0.998" stop-color="#e37e64"/></linearGradient><linearGradient id="a37"><stop offset="0.001961" stop-color="#e37e64"/><stop offset="0.02941" stop-color="#e58368"/><stop offset="0.05294" stop-color="#e98c6e"/><stop offset="0.05686" stop-color="#eb9172"/><stop offset="0.06863" stop-color="#ed9475"/><stop offset="0.08824" stop-color="#f3a481"/><stop offset="0.1" stop-color="#f5a987"/><stop offset="0.1039" stop-color="#f6af8e"/><stop offset="0.1078" stop-color="#f6af8f"/><stop offset="0.1118" stop-color="#f7b799"/><stop offset="0.1157" stop-color="#f7b89a"/><stop offset="0.1196" stop-color="#f8bfa4"/><stop offset="0.1235" stop-color="#f9c1a6"/><stop offset="0.1275" stop-color="#fbccb4"/><stop offset="0.1314" stop-color="#fbcfb8"/><stop offset="0.1353" stop-color="#fce0d0"/><stop offset="0.1392" stop-color="#fbe2d4"/><stop offset="0.1431" stop-color="#f9eee7"/><stop offset="0.1471" stop-color="#f6eee9"/><stop offset="0.151" stop-color="#e6eff4"/><stop offset="0.1549" stop-color="#deebf2"/><stop offset="0.1588" stop-color="#b3d6e8"/><stop offset="0.1627" stop-color="#afd4e6"/><stop offset="0.1667" stop-color="#9bc9e0"/><stop offset="0.1706" stop-color="#98c8e0"/><stop offset="0.1745" stop-color="#8ac0db"/><stop offset="0.1784" stop-color="#88bfdb"/><stop offset="0.1824" stop-color="#7eb8d7"/><stop offset="0.2059" stop-color="#68abd0"/><stop offset="0.2216" stop-color="#62a7ce"/><stop offset="0.2608" stop-color="#5ca3cb"/><stop offset="0.5431" stop-color="#5ca3cb"/><stop offset="0.5667" stop-color="#5fa5cd"/><stop offset="0.598" stop-color="#6bacd1"/><stop offset="0.6216" stop-color="#81bad8"/><stop offset="0.6294" stop-color="#90c4dd"/><stop offset="0.6373" stop-color="#a5cee3"/><stop offset="0.6412" stop-color="#bbdaea"/><stop offset="0.6451" stop-color="#c7e0ed"/><stop offset="0.649" stop-color="#e6eef2"/><stop offset="0.6529" stop-color="#f7f5f4"/><stop offset="0.6569" stop-color="#f9ede5"/><stop offset="0.6608" stop-color="#fae8de"/><stop offset="0.6647" stop-color="#fcdecd"/><stop offset="0.6686" stop-color="#fdd9c4"/><stop offset="0.6725" stop-color="#fbccb4"/><stop offset="0.6804" stop-color="#f8bfa3"/><stop offset="0.6961" stop-color="#f5ad8c"/><stop offset="0.7196" stop-color="#ef9a7a"/><stop offset="0.7902" stop-color="#e37e64"/><stop offset="0.8451" stop-color="#e0765e"/><stop offset="0.951" stop-color="#df765e"/><stop offset="0.998" stop-color="#e37e64"/></linearGradient><linearGradient id="a38"><stop offset="0.001961" stop-color="#e37e64"/><stop offset="0.03725" stop-color="#e58368"/><stop offset="0.06078" stop-color="#e98b6e"/><stop offset="0.09216" stop-color="#ef9979"/><stop offset="0.1039" stop-color="#f3a481"/><stop offset="0.1078" stop-color="#f4a482"/><stop offset="0.1196" stop-color="#f6b191"/><stop offset="0.1314" stop-color="#f7b89b"/><stop offset="0.1353" stop-color="#f9c2a7"/><stop offset="0.1392" stop-color="#f9c3a9"/><stop offset="0.1431" stop-color="#fbceb7"/><stop offset="0.1471" stop-color="#fbd1ba"/><stop offset="0.151" stop-color="#fcdfcf"/><stop offset="0.1549" stop-color="#fce1d2"/><stop offset="0.1588" stop-color="#f9ede5"/><stop offset="0.1627" stop-color="#f7ede8"/><stop offset="0.1667" stop-color="#ecf2f5"/><stop offset="0.1706" stop-color="#e3eef3"/><stop offset="0.1745" stop-color="#bbdaea"/><stop offset="0.1784" stop-color="#b6d7e8"/><stop offset="0.1824" stop-color="#a0cce2"/><stop offset="0.1863" stop-color="#9ccae1"/><stop offset="0.1902" stop-color="#8dc2dc"/><stop offset="0.1941" stop-color="#8bc1dc"/><stop offset="0.198" stop-color="#81bad8"/><stop offset="0.2137" stop-color="#71b0d3"/><stop offset="0.2373" stop-color="#65a9cf"/><stop offset="0.2765" stop-color="#5fa5cd"/><stop offset="0.5588" stop-color="#5fa5cd"/><stop offset="0.6059" stop-color="#68abd0"/><stop offset="0.6216" stop-color="#71b0d3"/><stop offset="0.6373" stop-color="#84bcd9"/><stop offset="0.6529" stop-color="#a5cee3"/><stop offset="0.6569" stop-color="#bad9e9"/><stop offset="0.6608" stop-color="#c5dfec"/><stop offset="0.6647" stop-color="#e6eff3"/><stop offset="0.6686" stop-color="#f6f7f7"/><stop offset="0.6725" stop-color="#f9eee7"/><stop offset="0.6765" stop-color="#fae9df"/><stop offset="0.6804" stop-color="#fce0d0"/><stop offset="0.6843" stop-color="#fddcc9"/><stop offset="0.6882" stop-color="#fbd0b9"/><stop offset="0.6961" stop-color="#f9c1a6"/><stop offset="0.7039" stop-color="#f7b79a"/><stop offset="0.7275" stop-color="#f4a582"/><stop offset="0.7549" stop-color="#ec9374"/><stop offset="0.8098" stop-color="#e48066"/><stop offset="0.8647" stop-color="#e17860"/><stop offset="0.9667" stop-color="#e17860"/><stop offset="0.998" stop-color="#e37e64"/></linearGradient><linearGradient id="a39"><stop offset="0.001961" stop-color="#e37e64"/><stop offset="0.05294" stop-color="#e7866a"/><stop offset="0.08431" stop-color="#eb9173"/><stop offset="0.08824" stop-color="#ee9677"/><stop offset="0.1157" stop-color="#f3a280"/><stop offset="0.1196" stop-color="#f5a886"/><stop offset="0.1314" stop-color="#f5ad8d"/><stop offset="0.1353" stop-color="#f6b394"/><stop offset="0.1471" stop-color="#f8bb9e"/><stop offset="0.151" stop-color="#f9c4a9"/><stop offset="0.1549" stop-color="#f9c6ac"/><stop offset="0.1588" stop-color="#fbd0b9"/><stop offset="0.1627" stop-color="#fbd3bd"/><stop offset="0.1667" stop-color="#fce0d0"/><stop offset="0.1706" stop-color="#fbe3d4"/><stop offset="0.1745" stop-color="#f9ede5"/><stop offset="0.1784" stop-color="#f7eee8"/><stop offset="0.1824" stop-color="#eff3f5"/><stop offset="0.1863" stop-color="#e6eff4"/><stop offset="0.1902" stop-color="#c2ddec"/><stop offset="0.1941" stop-color="#bcdbea"/><stop offset="0.198" stop-color="#a5cee3"/><stop offset="0.202" stop-color="#a2cde2"/><stop offset="0.2059" stop-color="#96c7df"/><stop offset="0.2098" stop-color="#93c5de"/><stop offset="0.2137" stop-color="#87beda"/><stop offset="0.2373" stop-color="#71b0d3"/><stop offset="0.2608" stop-color="#68abd0"/><stop offset="0.2922" stop-color="#62a7ce"/><stop offset="0.5667" stop-color="#62a7ce"/><stop offset="0.6059" stop-color="#68abd0"/><stop offset="0.6294" stop-color="#71b0d3"/><stop offset="0.6451" stop-color="#7eb8d7"/><stop offset="0.6608" stop-color="#96c7df"/><stop offset="0.6686" stop-color="#a7d0e4"/><stop offset="0.6725" stop-color="#bddbea"/><stop offset="0.6765" stop-color="#c7e0ed"/><stop offset="0.6804" stop-color="#e6eff4"/><stop offset="0.6843" stop-color="#f5f6f7"/><stop offset="0.6882" stop-color="#f8efe9"/><stop offset="0.6922" stop-color="#f9ebe3"/><stop offset="0.6961" stop-color="#fbe2d4"/><stop offset="0.7" stop-color="#fcdecd"/><stop offset="0.7039" stop-color="#fbd2bb"/><stop offset="0.7118" stop-color="#f9c5aa"/><stop offset="0.7353" stop-color="#f5ac8b"/><stop offset="0.7588" stop-color="#f09d7c"/><stop offset="0.8137" stop-color="#e7866a"/><stop offset="0.8529" stop-color="#e37e64"/><stop offset="0.9039" stop-color="#e27b62"/><stop offset="0.998" stop-color="#e37e64"/></linearGradient><linearGradient id="a40"><stop offset="0.001961" stop-color="#e48066"/><stop offset="0.03725" stop-color="#e58368"/><stop offset="0.07647" stop-color="#e98c6e"/><stop offset="0.1157" stop-color="#f09c7b"/><stop offset="0.1275" stop-color="#f4a683"/><stop offset="0.1471" stop-color="#f6af8f"/><stop offset="0.1706" stop-color="#fac8af"/><stop offset="0.1745" stop-color="#fcd3bc"/><stop offset="0.1784" stop-color="#fcd5c0"/><stop offset="0.1824" stop-color="#fce2d2"/><stop offset="0.1863" stop-color="#fbe4d6"/><stop offset="0.1902" stop-color="#f9eee7"/><stop offset="0.1941" stop-color="#f7efea"/><stop offset="0.198" stop-color="#f0f4f6"/><stop offset="0.202" stop-color="#e8f0f4"/><stop offset="0.2059" stop-color="#cae1ee"/><stop offset="0.2098" stop-color="#c3deec"/><stop offset="0.2137" stop-color="#acd2e5"/><stop offset="0.2176" stop-color="#a8d0e4"/><stop offset="0.2216" stop-color="#9bc9e0"/><stop offset="0.2255" stop-color="#98c8e0"/><stop offset="0.2294" stop-color="#8dc2dc"/><stop offset="0.2373" stop-color="#84bcd9"/><stop offset="0.2686" stop-color="#6eaed2"/><stop offset="0.3157" stop-color="#65a9cf"/><stop offset="0.5824" stop-color="#65a9cf"/><stop offset="0.6294" stop-color="#6eaed2"/><stop offset="0.6608" stop-color="#84bcd9"/><stop offset="0.6765" stop-color="#9bc9e0"/><stop offset="0.6843" stop-color="#acd2e5"/><stop offset="0.6882" stop-color="#c4deec"/><stop offset="0.6922" stop-color="#cfe4ef"/><stop offset="0.6961" stop-color="#e8f0f4"/><stop offset="0.7" stop-color="#f3f5f6"/><stop offset="0.7039" stop-color="#f7efea"/><stop offset="0.7078" stop-color="#f9ede5"/><stop offset="0.7118" stop-color="#fbe4d6"/><stop offset="0.7157" stop-color="#fce0d0"/><stop offset="0.7196" stop-color="#fbd5c0"/><stop offset="0.7353" stop-color="#f8bda1"/><stop offset="0.7588" stop-color="#f5aa88"/><stop offset="0.7745" stop-color="#f29f7e"/><stop offset="0.8294" stop-color="#e8896d"/><stop offset="0.8725" stop-color="#e48066"/><stop offset="0.998" stop-color="#e37e64"/></linearGradient><linearGradient id="a41"><stop offset="0.001961" stop-color="#e48066"/><stop offset="0.03725" stop-color="#e58368"/><stop offset="0.06863" stop-color="#e8896c"/><stop offset="0.08824" stop-color="#eb9172"/><stop offset="0.1" stop-color="#eb9173"/><stop offset="0.1118" stop-color="#ef9979"/><stop offset="0.1314" stop-color="#f19f7d"/><stop offset="0.1353" stop-color="#f3a481"/><stop offset="0.1549" stop-color="#f5ad8c"/><stop offset="0.1706" stop-color="#f7b89b"/><stop offset="0.1745" stop-color="#f8bfa4"/><stop offset="0.1784" stop-color="#f9c1a6"/><stop offset="0.1824" stop-color="#fac8af"/><stop offset="0.1863" stop-color="#facbb2"/><stop offset="0.1902" stop-color="#fcd7c2"/><stop offset="0.1941" stop-color="#fcd9c6"/><stop offset="0.198" stop-color="#fbe4d6"/><stop offset="0.202" stop-color="#fbe6da"/><stop offset="0.2059" stop-color="#f9eee7"/><stop offset="0.2098" stop-color="#f7efea"/><stop offset="0.2137" stop-color="#f0f4f6"/><stop offset="0.2176" stop-color="#e9f1f5"/><stop offset="0.2216" stop-color="#d1e5f0"/><stop offset="0.2255" stop-color="#cae1ee"/><stop offset="0.2294" stop-color="#b1d5e7"/><stop offset="0.2333" stop-color="#add3e6"/><stop offset="0.2373" stop-color="#a0cce2"/><stop offset="0.2412" stop-color="#9dcae1"/><stop offset="0.2451" stop-color="#93c6de"/><stop offset="0.2765" stop-color="#78b4d5"/><stop offset="0.3" stop-color="#6eaed2"/><stop offset="0.3392" stop-color="#68abd0"/><stop offset="0.5902" stop-color="#68abd0"/><stop offset="0.6373" stop-color="#71b0d3"/><stop offset="0.6529" stop-color="#78b4d5"/><stop offset="0.6765" stop-color="#8ac0db"/><stop offset="0.6922" stop-color="#a2cde3"/><stop offset="0.6961" stop-color="#aed3e6"/><stop offset="0.7" stop-color="#b3d6e8"/><stop offset="0.7039" stop-color="#cae2ee"/><stop offset="0.7078" stop-color="#d4e6f1"/><stop offset="0.7118" stop-color="#ebf1f5"/><stop offset="0.7157" stop-color="#f5f6f7"/><stop offset="0.7196" stop-color="#f8efea"/><stop offset="0.7235" stop-color="#f9ede5"/><stop offset="0.7275" stop-color="#fbe5d7"/><stop offset="0.7314" stop-color="#fce2d2"/><stop offset="0.7353" stop-color="#fcd7c2"/><stop offset="0.7392" stop-color="#fcd3bc"/><stop offset="0.7431" stop-color="#fac9b0"/><stop offset="0.7588" stop-color="#f7b99b"/><stop offset="0.7824" stop-color="#f4a785"/><stop offset="0.7941" stop-color="#f3a481"/><stop offset="0.8059" stop-color="#ef9a79"/><stop offset="0.8373" stop-color="#ea8e71"/><stop offset="0.8843" stop-color="#e58368"/><stop offset="0.998" stop-color="#e48066"/></linearGradient><linearGradient id="a42"><stop offset="0.001961" stop-color="#e58368"/><stop offset="0.02941" stop-color="#e58368"/><stop offset="0.08039" stop-color="#e98b6e"/><stop offset="0.1549" stop-color="#f4a784"/><stop offset="0.1706" stop-color="#f6b090"/><stop offset="0.1941" stop-color="#f9c4a9"/><stop offset="0.198" stop-color="#fbccb4"/><stop offset="0.202" stop-color="#fbcfb8"/><stop offset="0.2059" stop-color="#fddbc7"/><stop offset="0.2098" stop-color="#fdddcb"/><stop offset="0.2137" stop-color="#fbe5d8"/><stop offset="0.2176" stop-color="#fae7dc"/><stop offset="0.2216" stop-color="#f9efe9"/><stop offset="0.2255" stop-color="#f7f0ec"/><stop offset="0.2294" stop-color="#f0f4f6"/><stop offset="0.2333" stop-color="#eaf1f5"/><stop offset="0.2373" stop-color="#d4e6f1"/><stop offset="0.2412" stop-color="#cde3ef"/><stop offset="0.2451" stop-color="#b6d7e8"/><stop offset="0.249" stop-color="#b2d5e7"/><stop offset="0.2529" stop-color="#a5cee3"/><stop offset="0.2608" stop-color="#98c8e0"/><stop offset="0.2843" stop-color="#81bad8"/><stop offset="0.3235" stop-color="#71b0d3"/><stop offset="0.3627" stop-color="#6bacd1"/><stop offset="0.4961" stop-color="#68abd0"/><stop offset="0.5039" stop-color="#6bacd1"/><stop offset="0.598" stop-color="#6bacd1"/><stop offset="0.6373" stop-color="#71b0d3"/><stop offset="0.6686" stop-color="#7eb8d7"/><stop offset="0.6843" stop-color="#8ac0db"/><stop offset="0.7078" stop-color="#a7d0e4"/><stop offset="0.7118" stop-color="#b5d7e8"/><stop offset="0.7157" stop-color="#bbdaea"/><stop offset="0.7196" stop-color="#d1e5ef"/><stop offset="0.7235" stop-color="#dae9f2"/><stop offset="0.7275" stop-color="#eff3f5"/><stop offset="0.7314" stop-color="#f6f7f7"/><stop offset="0.7353" stop-color="#f8efea"/><stop offset="0.7471" stop-color="#fbe3d4"/><stop offset="0.751" stop-color="#fcdac6"/><stop offset="0.7549" stop-color="#fcd7c2"/><stop offset="0.7588" stop-color="#faccb3"/><stop offset="0.7667" stop-color="#f9c1a6"/><stop offset="0.798" stop-color="#f5a987"/><stop offset="0.8098" stop-color="#f4a683"/><stop offset="0.8294" stop-color="#ef9a79"/><stop offset="0.8608" stop-color="#ea8e71"/><stop offset="0.9" stop-color="#e7866a"/><stop offset="0.9745" stop-color="#e48066"/><stop offset="0.998" stop-color="#e58368"/></linearGradient><linearGradient id="a43"><stop offset="0.001961" stop-color="#e58368"/><stop offset="0.1" stop-color="#ea8e71"/><stop offset="0.1471" stop-color="#f19f7d"/><stop offset="0.1784" stop-color="#f5ae8d"/><stop offset="0.1824" stop-color="#f6b394"/><stop offset="0.1941" stop-color="#f7b89b"/><stop offset="0.202" stop-color="#f8bfa3"/><stop offset="0.2059" stop-color="#f9c6ac"/><stop offset="0.2098" stop-color="#fac8ae"/><stop offset="0.2176" stop-color="#fbd2bb"/><stop offset="0.2216" stop-color="#fdddcb"/><stop offset="0.2255" stop-color="#fcdfcf"/><stop offset="0.2294" stop-color="#fae7dc"/><stop offset="0.2333" stop-color="#fae9e0"/><stop offset="0.2373" stop-color="#f8f1ed"/><stop offset="0.2451" stop-color="#eff3f5"/><stop offset="0.249" stop-color="#e8f0f4"/><stop offset="0.2529" stop-color="#d5e7f1"/><stop offset="0.2569" stop-color="#cee3ef"/><stop offset="0.2608" stop-color="#b8d8e9"/><stop offset="0.2647" stop-color="#b4d6e8"/><stop offset="0.2686" stop-color="#a9d1e5"/><stop offset="0.2725" stop-color="#a6cfe4"/><stop offset="0.2765" stop-color="#9dcbe1"/><stop offset="0.2922" stop-color="#8dc2dc"/><stop offset="0.3157" stop-color="#7eb8d7"/><stop offset="0.3863" stop-color="#6eaed2"/><stop offset="0.5196" stop-color="#6bacd1"/><stop offset="0.5275" stop-color="#6eaed2"/><stop offset="0.6294" stop-color="#71b0d3"/><stop offset="0.6843" stop-color="#84bcd9"/><stop offset="0.7078" stop-color="#98c8e0"/><stop offset="0.7235" stop-color="#aed3e6"/><stop offset="0.7275" stop-color="#bddbea"/><stop offset="0.7314" stop-color="#c2ddec"/><stop offset="0.7353" stop-color="#d8e8f1"/><stop offset="0.7392" stop-color="#e0ecf3"/><stop offset="0.7431" stop-color="#f1f4f5"/><stop offset="0.7471" stop-color="#f7f6f6"/><stop offset="0.751" stop-color="#f9efe9"/><stop offset="0.7549" stop-color="#f9ede5"/><stop offset="0.7588" stop-color="#fbe5d8"/><stop offset="0.7627" stop-color="#fbe3d4"/><stop offset="0.7667" stop-color="#fcdbc8"/><stop offset="0.7706" stop-color="#fdd9c4"/><stop offset="0.7745" stop-color="#fbcdb6"/><stop offset="0.7824" stop-color="#f9c3a9"/><stop offset="0.8137" stop-color="#f5ab8a"/><stop offset="0.8412" stop-color="#f2a17f"/><stop offset="0.8451" stop-color="#f09c7b"/><stop offset="0.9039" stop-color="#e98b6e"/><stop offset="0.998" stop-color="#e58368"/></linearGradient><linearGradient id="a44"><stop offset="0.001961" stop-color="#e6866a"/><stop offset="0.1" stop-color="#ea8e71"/><stop offset="0.1549" stop-color="#f19f7d"/><stop offset="0.1784" stop-color="#f5a987"/><stop offset="0.202" stop-color="#f7b698"/><stop offset="0.2176" stop-color="#f9c3a9"/><stop offset="0.2255" stop-color="#fbccb4"/><stop offset="0.2294" stop-color="#fcd5bf"/><stop offset="0.2333" stop-color="#fcd7c3"/><stop offset="0.2373" stop-color="#fce0d0"/><stop offset="0.249" stop-color="#f9ebe3"/><stop offset="0.2529" stop-color="#f8f2ef"/><stop offset="0.2608" stop-color="#edf2f5"/><stop offset="0.2647" stop-color="#e7f0f4"/><stop offset="0.2686" stop-color="#d7e8f1"/><stop offset="0.2725" stop-color="#d0e4ef"/><stop offset="0.2765" stop-color="#bddbea"/><stop offset="0.2804" stop-color="#b9d9e9"/><stop offset="0.2843" stop-color="#aed3e6"/><stop offset="0.2882" stop-color="#abd2e5"/><stop offset="0.2922" stop-color="#a2cde3"/><stop offset="0.3235" stop-color="#87beda"/><stop offset="0.3627" stop-color="#78b4d5"/><stop offset="0.402" stop-color="#75b2d4"/><stop offset="0.4098" stop-color="#71b0d3"/><stop offset="0.4725" stop-color="#71b0d3"/><stop offset="0.4804" stop-color="#6eaed2"/><stop offset="0.6059" stop-color="#71b0d3"/><stop offset="0.6137" stop-color="#75b2d4"/><stop offset="0.6373" stop-color="#75b2d4"/><stop offset="0.6765" stop-color="#7eb8d7"/><stop offset="0.7078" stop-color="#90c4dd"/><stop offset="0.7314" stop-color="#a9d1e5"/><stop offset="0.7353" stop-color="#b3d6e7"/><stop offset="0.7392" stop-color="#b6d7e8"/><stop offset="0.7431" stop-color="#c8e1ed"/><stop offset="0.7471" stop-color="#cfe4ef"/><stop offset="0.751" stop-color="#e0ecf3"/><stop offset="0.7549" stop-color="#e6eff4"/><stop offset="0.7588" stop-color="#f3f4f4"/><stop offset="0.7627" stop-color="#f7f5f4"/><stop offset="0.7667" stop-color="#f9efe9"/><stop offset="0.7706" stop-color="#f9ede5"/><stop offset="0.7745" stop-color="#fbe5d8"/><stop offset="0.7784" stop-color="#fbe3d4"/><stop offset="0.7824" stop-color="#fcdbc8"/><stop offset="0.7863" stop-color="#fdd9c4"/><stop offset="0.7902" stop-color="#fbcfb7"/><stop offset="0.8059" stop-color="#f8bda1"/><stop offset="0.8294" stop-color="#f5ad8c"/><stop offset="0.8569" stop-color="#f3a481"/><stop offset="0.8608" stop-color="#f19f7d"/><stop offset="0.9157" stop-color="#ea8e71"/><stop offset="0.998" stop-color="#e6866a"/></linearGradient><linearGradient id="a45"><stop offset="0.001961" stop-color="#e98b6e"/><stop offset="0.03725" stop-color="#e8896c"/><stop offset="0.1" stop-color="#ea8e71"/><stop offset="0.1353" stop-color="#ef9979"/><stop offset="0.1471" stop-color="#ef9979"/><stop offset="0.1863" stop-color="#f5a987"/><stop offset="0.202" stop-color="#f6af8f"/><stop offset="0.2255" stop-color="#f8bfa4"/><stop offset="0.2294" stop-color="#f9c6ac"/><stop offset="0.2412" stop-color="#fbd0b9"/><stop offset="0.2451" stop-color="#fddbc7"/><stop offset="0.249" stop-color="#fdddca"/><stop offset="0.2529" stop-color="#fbe3d4"/><stop offset="0.2569" stop-color="#fbe5d8"/><stop offset="0.2608" stop-color="#f9ebe3"/><stop offset="0.2647" stop-color="#f9eee7"/><stop offset="0.2686" stop-color="#f8f4f2"/><stop offset="0.2765" stop-color="#ecf2f5"/><stop offset="0.2804" stop-color="#e6eff4"/><stop offset="0.2843" stop-color="#d8e9f1"/><stop offset="0.2882" stop-color="#d1e5f0"/><stop offset="0.2922" stop-color="#c0dceb"/><stop offset="0.3" stop-color="#b1d5e7"/><stop offset="0.3235" stop-color="#98c8e0"/><stop offset="0.3392" stop-color="#8dc2dc"/><stop offset="0.402" stop-color="#78b4d5"/><stop offset="0.4882" stop-color="#75b2d4"/><stop offset="0.4961" stop-color="#71b0d3"/><stop offset="0.551" stop-color="#71b0d3"/><stop offset="0.5588" stop-color="#75b2d4"/><stop offset="0.6451" stop-color="#78b4d5"/><stop offset="0.6922" stop-color="#84bcd9"/><stop offset="0.7235" stop-color="#98c8e0"/><stop offset="0.7471" stop-color="#b1d5e7"/><stop offset="0.751" stop-color="#bcdaea"/><stop offset="0.7549" stop-color="#c0dceb"/><stop offset="0.7588" stop-color="#d1e5f0"/><stop offset="0.7627" stop-color="#d7e8f1"/><stop offset="0.7667" stop-color="#e6eff4"/><stop offset="0.7706" stop-color="#eaf1f5"/><stop offset="0.7745" stop-color="#f5f4f3"/><stop offset="0.7784" stop-color="#f8f4f2"/><stop offset="0.7824" stop-color="#f9ede7"/><stop offset="0.7863" stop-color="#f9ebe3"/><stop offset="0.7902" stop-color="#fbe5d7"/><stop offset="0.7941" stop-color="#fbe3d4"/><stop offset="0.798" stop-color="#fcdbc8"/><stop offset="0.802" stop-color="#fdd9c4"/><stop offset="0.8059" stop-color="#fbcfb7"/><stop offset="0.8098" stop-color="#fbccb4"/><stop offset="0.8137" stop-color="#f9c5ab"/><stop offset="0.8255" stop-color="#f8bda1"/><stop offset="0.8294" stop-color="#f7b89a"/><stop offset="0.8529" stop-color="#f5ab8a"/><stop offset="0.8765" stop-color="#f2a17f"/><stop offset="0.9078" stop-color="#ee9677"/><stop offset="0.9706" stop-color="#e98b6e"/><stop offset="0.998" stop-color="#e98b6e"/></linearGradient><linearGradient id="a46"><stop offset="0.001961" stop-color="#ea8e70"/><stop offset="0.009804" stop-color="#e98b6e"/><stop offset="0.06078" stop-color="#e98b6e"/><stop offset="0.06471" stop-color="#ea8e70"/><stop offset="0.1157" stop-color="#eb9173"/><stop offset="0.1706" stop-color="#f19f7d"/><stop offset="0.202" stop-color="#f5ab8a"/><stop offset="0.2333" stop-color="#f8bda0"/><stop offset="0.2373" stop-color="#f9c2a7"/><stop offset="0.249" stop-color="#facab1"/><stop offset="0.2569" stop-color="#fcd4be"/><stop offset="0.2608" stop-color="#fdddcb"/><stop offset="0.2647" stop-color="#fce0cf"/><stop offset="0.2686" stop-color="#fbe6da"/><stop offset="0.2725" stop-color="#fae8dd"/><stop offset="0.2843" stop-color="#f7f5f4"/><stop offset="0.2961" stop-color="#e4eef3"/><stop offset="0.3" stop-color="#d8e9f1"/><stop offset="0.3039" stop-color="#d2e5f0"/><stop offset="0.3078" stop-color="#c2ddec"/><stop offset="0.3196" stop-color="#b2d5e7"/><stop offset="0.3235" stop-color="#a9d1e5"/><stop offset="0.3627" stop-color="#8dc2dc"/><stop offset="0.3941" stop-color="#81bad8"/><stop offset="0.449" stop-color="#78b4d5"/><stop offset="0.5745" stop-color="#75b2d4"/><stop offset="0.6529" stop-color="#7bb6d6"/><stop offset="0.7078" stop-color="#8ac0db"/><stop offset="0.7118" stop-color="#8fc3dd"/><stop offset="0.7392" stop-color="#9dcbe1"/><stop offset="0.7627" stop-color="#b8d8e9"/><stop offset="0.7667" stop-color="#c7e0ed"/><stop offset="0.7706" stop-color="#cce2ef"/><stop offset="0.7745" stop-color="#dae9f2"/><stop offset="0.7784" stop-color="#deebf2"/><stop offset="0.7824" stop-color="#ebf1f5"/><stop offset="0.7941" stop-color="#f8f2ef"/><stop offset="0.798" stop-color="#f9ece4"/><stop offset="0.8098" stop-color="#fbe3d4"/><stop offset="0.8137" stop-color="#fcdbc7"/><stop offset="0.8176" stop-color="#fdd9c4"/><stop offset="0.8216" stop-color="#fbceb7"/><stop offset="0.8294" stop-color="#fac7ad"/><stop offset="0.8333" stop-color="#f9c6ac"/><stop offset="0.8451" stop-color="#f8ba9d"/><stop offset="0.8686" stop-color="#f5ad8c"/><stop offset="0.8922" stop-color="#f3a481"/><stop offset="0.9314" stop-color="#ee9677"/><stop offset="0.998" stop-color="#ea8e70"/></linearGradient><linearGradient id="a47"><stop offset="0.001961" stop-color="#eb9172"/><stop offset="0.08431" stop-color="#ea8e71"/><stop offset="0.08824" stop-color="#eb9172"/><stop offset="0.1275" stop-color="#ec9374"/><stop offset="0.1863" stop-color="#f4a481"/><stop offset="0.2098" stop-color="#f5ab8a"/><stop offset="0.2255" stop-color="#f6b292"/><stop offset="0.2569" stop-color="#fac7ae"/><stop offset="0.2647" stop-color="#fbcfb8"/><stop offset="0.2765" stop-color="#fce0d0"/><stop offset="0.3" stop-color="#f6f7f7"/><stop offset="0.3118" stop-color="#e3edf3"/><stop offset="0.3196" stop-color="#d2e5f0"/><stop offset="0.3235" stop-color="#c5dfec"/><stop offset="0.3314" stop-color="#b8d8e9"/><stop offset="0.3549" stop-color="#a0cce2"/><stop offset="0.3706" stop-color="#96c7df"/><stop offset="0.3863" stop-color="#8dc2dc"/><stop offset="0.4255" stop-color="#81bad8"/><stop offset="0.5039" stop-color="#78b4d5"/><stop offset="0.6373" stop-color="#7bb6d6"/><stop offset="0.6922" stop-color="#84bcd9"/><stop offset="0.7235" stop-color="#90c4dd"/><stop offset="0.7627" stop-color="#acd2e5"/><stop offset="0.7784" stop-color="#c2ddec"/><stop offset="0.7824" stop-color="#d1e5f0"/><stop offset="0.7863" stop-color="#d5e7f1"/><stop offset="0.7902" stop-color="#e1edf3"/><stop offset="0.7941" stop-color="#e4eef4"/><stop offset="0.798" stop-color="#f0f4f6"/><stop offset="0.802" stop-color="#f3f5f6"/><stop offset="0.8098" stop-color="#f8f1ed"/><stop offset="0.8137" stop-color="#faebe2"/><stop offset="0.8176" stop-color="#fae9df"/><stop offset="0.8216" stop-color="#fbe3d5"/><stop offset="0.8255" stop-color="#fce2d2"/><stop offset="0.8294" stop-color="#fcdac7"/><stop offset="0.8333" stop-color="#fdd9c4"/><stop offset="0.8373" stop-color="#fbd0b9"/><stop offset="0.8412" stop-color="#fbceb7"/><stop offset="0.8451" stop-color="#fac7ae"/><stop offset="0.8529" stop-color="#f9c0a5"/><stop offset="0.8686" stop-color="#f7b597"/><stop offset="0.8882" stop-color="#f6af8e"/><stop offset="0.8922" stop-color="#f5ab89"/><stop offset="0.9157" stop-color="#f3a481"/><stop offset="0.9549" stop-color="#ee9677"/><stop offset="0.998" stop-color="#eb9172"/></linearGradient><linearGradient id="a48"><stop offset="0.001961" stop-color="#ec9374"/><stop offset="0.1196" stop-color="#ec9374"/><stop offset="0.1706" stop-color="#f09c7b"/><stop offset="0.2176" stop-color="#f5ab89"/><stop offset="0.2647" stop-color="#f9c3a9"/><stop offset="0.2804" stop-color="#fcd4be"/><stop offset="0.2843" stop-color="#fddcc9"/><stop offset="0.3039" stop-color="#f9ede5"/><stop offset="0.3078" stop-color="#f8f2ef"/><stop offset="0.3157" stop-color="#f3f5f6"/><stop offset="0.3196" stop-color="#eff3f6"/><stop offset="0.3353" stop-color="#d3e6f0"/><stop offset="0.3392" stop-color="#c7e0ed"/><stop offset="0.3471" stop-color="#bbdaea"/><stop offset="0.3627" stop-color="#a9d1e5"/><stop offset="0.3784" stop-color="#9dcbe1"/><stop offset="0.4333" stop-color="#87beda"/><stop offset="0.5118" stop-color="#7bb6d6"/><stop offset="0.6529" stop-color="#7eb8d7"/><stop offset="0.7" stop-color="#87beda"/><stop offset="0.7314" stop-color="#93c6de"/><stop offset="0.7627" stop-color="#a5cee3"/><stop offset="0.7784" stop-color="#b3d6e8"/><stop offset="0.7824" stop-color="#bbdaea"/><stop offset="0.7863" stop-color="#bddbea"/><stop offset="0.7902" stop-color="#cbe2ee"/><stop offset="0.7941" stop-color="#cfe4ef"/><stop offset="0.798" stop-color="#dae9f2"/><stop offset="0.802" stop-color="#ddebf2"/><stop offset="0.8059" stop-color="#e8f0f4"/><stop offset="0.8098" stop-color="#eaf1f5"/><stop offset="0.8137" stop-color="#f5f5f6"/><stop offset="0.8176" stop-color="#f7f6f6"/><stop offset="0.8216" stop-color="#f8f1ed"/><stop offset="0.8255" stop-color="#f9f0eb"/><stop offset="0.8294" stop-color="#fae9e0"/><stop offset="0.8333" stop-color="#fae8de"/><stop offset="0.8373" stop-color="#fce2d3"/><stop offset="0.8412" stop-color="#fce0d0"/><stop offset="0.8451" stop-color="#fddac6"/><stop offset="0.849" stop-color="#fdd9c4"/><stop offset="0.8529" stop-color="#fbd0b9"/><stop offset="0.8569" stop-color="#fbceb7"/><stop offset="0.8608" stop-color="#fac7ad"/><stop offset="0.8765" stop-color="#f8bc9f"/><stop offset="0.9" stop-color="#f6af8f"/><stop offset="0.9314" stop-color="#f3a481"/><stop offset="0.9706" stop-color="#ef9979"/><stop offset="0.998" stop-color="#ee9677"/></linearGradient><linearGradient id="a49"><stop offset="0.001961" stop-color="#ef9979"/><stop offset="0.03333" stop-color="#ec9374"/><stop offset="0.1118" stop-color="#ec9374"/><stop offset="0.1627" stop-color="#ef9979"/><stop offset="0.2255" stop-color="#f5ab89"/><stop offset="0.2569" stop-color="#f7b89a"/><stop offset="0.2686" stop-color="#f9c2a7"/><stop offset="0.2804" stop-color="#fac8ae"/><stop offset="0.2882" stop-color="#fbcfb8"/><stop offset="0.2922" stop-color="#fcd7c2"/><stop offset="0.2961" stop-color="#fcd9c5"/><stop offset="0.3" stop-color="#fcdfcf"/><stop offset="0.3039" stop-color="#fce1d2"/><stop offset="0.3157" stop-color="#f9eee7"/><stop offset="0.3235" stop-color="#f8f4f2"/><stop offset="0.3314" stop-color="#f0f4f6"/><stop offset="0.3706" stop-color="#b3d6e8"/><stop offset="0.402" stop-color="#9dcbe1"/><stop offset="0.449" stop-color="#8ac0db"/><stop offset="0.5275" stop-color="#7eb8d7"/><stop offset="0.6608" stop-color="#81bad8"/><stop offset="0.7078" stop-color="#8ac0db"/><stop offset="0.7471" stop-color="#98c8e0"/><stop offset="0.7784" stop-color="#acd2e5"/><stop offset="0.7941" stop-color="#bbdaea"/><stop offset="0.798" stop-color="#c5dfec"/><stop offset="0.802" stop-color="#c7e0ed"/><stop offset="0.8059" stop-color="#d4e6f0"/><stop offset="0.8098" stop-color="#d7e8f1"/><stop offset="0.8137" stop-color="#e1ecf3"/><stop offset="0.8176" stop-color="#e3edf3"/><stop offset="0.8216" stop-color="#edf2f5"/><stop offset="0.8255" stop-color="#eff3f5"/><stop offset="0.8333" stop-color="#f8f4f2"/><stop offset="0.8373" stop-color="#f9efe9"/><stop offset="0.8412" stop-color="#f9eee7"/><stop offset="0.8451" stop-color="#fae8dd"/><stop offset="0.849" stop-color="#fae7dc"/><stop offset="0.8529" stop-color="#fce1d2"/><stop offset="0.8569" stop-color="#fce0d0"/><stop offset="0.8608" stop-color="#fcd8c4"/><stop offset="0.8647" stop-color="#fcd7c2"/><stop offset="0.8686" stop-color="#fbceb6"/><stop offset="0.8922" stop-color="#f8bc9f"/><stop offset="0.9078" stop-color="#f6b394"/><stop offset="0.9392" stop-color="#f5a886"/><stop offset="0.998" stop-color="#ef9979"/></linearGradient><linearGradient id="a50"><stop offset="0.001961" stop-color="#f09c7b"/><stop offset="0.04118" stop-color="#ee9677"/><stop offset="0.1392" stop-color="#ee9677"/><stop offset="0.2098" stop-color="#f4a481"/><stop offset="0.2333" stop-color="#f5ab89"/><stop offset="0.2569" stop-color="#f6b495"/><stop offset="0.2882" stop-color="#f9c6ac"/><stop offset="0.3039" stop-color="#fcd5c0"/><stop offset="0.3078" stop-color="#fddcc9"/><stop offset="0.3118" stop-color="#fcdecc"/><stop offset="0.3392" stop-color="#f7f6f6"/><stop offset="0.351" stop-color="#eaf1f5"/><stop offset="0.3863" stop-color="#b6d7e8"/><stop offset="0.402" stop-color="#a9d1e5"/><stop offset="0.4569" stop-color="#90c4dd"/><stop offset="0.5353" stop-color="#81bad8"/><stop offset="0.6451" stop-color="#81bad8"/><stop offset="0.6922" stop-color="#87beda"/><stop offset="0.7471" stop-color="#98c8e0"/><stop offset="0.7706" stop-color="#a2cde3"/><stop offset="0.7941" stop-color="#b3d6e8"/><stop offset="0.8098" stop-color="#c5dfec"/><stop offset="0.8137" stop-color="#d1e5f0"/><stop offset="0.8176" stop-color="#d4e6f1"/><stop offset="0.8216" stop-color="#ddeaf2"/><stop offset="0.8255" stop-color="#deebf2"/><stop offset="0.8373" stop-color="#f2f4f6"/><stop offset="0.8412" stop-color="#f3f5f6"/><stop offset="0.849" stop-color="#f8f3f0"/><stop offset="0.8529" stop-color="#f9eee7"/><stop offset="0.8569" stop-color="#f9ede5"/><stop offset="0.8608" stop-color="#fae7db"/><stop offset="0.8647" stop-color="#fbe6da"/><stop offset="0.8686" stop-color="#fce0d0"/><stop offset="0.8725" stop-color="#fcdfcf"/><stop offset="0.8765" stop-color="#fcd8c3"/><stop offset="0.8804" stop-color="#fcd7c2"/><stop offset="0.8843" stop-color="#fbcdb6"/><stop offset="0.8922" stop-color="#fac7ad"/><stop offset="0.9039" stop-color="#f9c2a7"/><stop offset="0.9078" stop-color="#f8bc9f"/><stop offset="0.9627" stop-color="#f4a683"/><stop offset="0.998" stop-color="#f19e7d"/></linearGradient><linearGradient id="a51"><stop offset="0.001961" stop-color="#f2a17f"/><stop offset="0.04902" stop-color="#ef9979"/><stop offset="0.1078" stop-color="#ee9677"/><stop offset="0.1118" stop-color="#ef9979"/><stop offset="0.1549" stop-color="#ef9979"/><stop offset="0.2255" stop-color="#f4a784"/><stop offset="0.2882" stop-color="#f8bfa3"/><stop offset="0.3039" stop-color="#facab1"/><stop offset="0.3118" stop-color="#fbd2bb"/><stop offset="0.3157" stop-color="#fdd9c4"/><stop offset="0.3392" stop-color="#f9ede5"/><stop offset="0.3549" stop-color="#f5f6f7"/><stop offset="0.3824" stop-color="#d4e6f0"/><stop offset="0.3941" stop-color="#c0dceb"/><stop offset="0.4255" stop-color="#a7d0e4"/><stop offset="0.4647" stop-color="#96c7df"/><stop offset="0.4961" stop-color="#8dc2dc"/><stop offset="0.551" stop-color="#84bcd9"/><stop offset="0.598" stop-color="#81bad8"/><stop offset="0.6843" stop-color="#87beda"/><stop offset="0.7157" stop-color="#8dc2dc"/><stop offset="0.7706" stop-color="#a0cce2"/><stop offset="0.802" stop-color="#b3d6e8"/><stop offset="0.8137" stop-color="#c1ddeb"/><stop offset="0.8176" stop-color="#c2ddec"/><stop offset="0.8216" stop-color="#cee4ef"/><stop offset="0.8333" stop-color="#dae9f2"/><stop offset="0.8373" stop-color="#e3edf3"/><stop offset="0.8412" stop-color="#e4eef4"/><stop offset="0.8451" stop-color="#ecf2f5"/><stop offset="0.849" stop-color="#edf2f5"/><stop offset="0.8529" stop-color="#f6f6f6"/><stop offset="0.8569" stop-color="#f7f6f6"/><stop offset="0.8608" stop-color="#f8f2ee"/><stop offset="0.8647" stop-color="#f8f1ed"/><stop offset="0.8686" stop-color="#faebe3"/><stop offset="0.8725" stop-color="#faeae1"/><stop offset="0.8765" stop-color="#fbe5d7"/><stop offset="0.8882" stop-color="#fcdecd"/><stop offset="0.8922" stop-color="#fcd6c0"/><stop offset="0.8961" stop-color="#fcd5bf"/><stop offset="0.9" stop-color="#fbcdb5"/><stop offset="0.9039" stop-color="#fbccb4"/><stop offset="0.9078" stop-color="#fac6ad"/><stop offset="0.9392" stop-color="#f7b597"/><stop offset="0.951" stop-color="#f6b394"/><stop offset="0.9549" stop-color="#f6af8e"/><stop offset="0.998" stop-color="#f3a481"/></linearGradient><linearGradient id="a52"><stop offset="0.001961" stop-color="#f4a683"/><stop offset="0.04118" stop-color="#f19e7d"/><stop offset="0.09608" stop-color="#ef9979"/><stop offset="0.1706" stop-color="#f09c7b"/><stop offset="0.2176" stop-color="#f4a481"/><stop offset="0.2725" stop-color="#f6b495"/><stop offset="0.3039" stop-color="#f9c3a8"/><stop offset="0.3118" stop-color="#fac8ae"/><stop offset="0.3314" stop-color="#fdddcb"/><stop offset="0.3627" stop-color="#f7f5f4"/><stop offset="0.3706" stop-color="#f2f5f6"/><stop offset="0.398" stop-color="#d4e6f0"/><stop offset="0.4098" stop-color="#c2ddec"/><stop offset="0.4255" stop-color="#b3d6e8"/><stop offset="0.4569" stop-color="#a2cde3"/><stop offset="0.5118" stop-color="#90c4dd"/><stop offset="0.5588" stop-color="#87beda"/><stop offset="0.6373" stop-color="#84bcd9"/><stop offset="0.7235" stop-color="#90c4dd"/><stop offset="0.7941" stop-color="#a9d1e5"/><stop offset="0.8255" stop-color="#c2ddec"/><stop offset="0.8294" stop-color="#cce3ef"/><stop offset="0.8373" stop-color="#d6e7f1"/><stop offset="0.8412" stop-color="#d7e8f1"/><stop offset="0.8451" stop-color="#dfebf2"/><stop offset="0.849" stop-color="#e0ecf3"/><stop offset="0.8529" stop-color="#e8f0f4"/><stop offset="0.8647" stop-color="#f2f5f6"/><stop offset="0.8725" stop-color="#f8f4f2"/><stop offset="0.8765" stop-color="#f9efea"/><stop offset="0.8804" stop-color="#f9efe9"/><stop offset="0.8843" stop-color="#fae9df"/><stop offset="0.8882" stop-color="#fae8de"/><stop offset="0.8922" stop-color="#fbe3d5"/><stop offset="0.9039" stop-color="#fdddcb"/><stop offset="0.9078" stop-color="#fcd4be"/><stop offset="0.9196" stop-color="#fbccb4"/><stop offset="0.9235" stop-color="#fac6ad"/><stop offset="0.9549" stop-color="#f7b597"/><stop offset="0.998" stop-color="#f5a886"/></linearGradient><linearGradient id="a53"><stop offset="0.001961" stop-color="#f5ac8b"/><stop offset="0.04902" stop-color="#f2a17f"/><stop offset="0.1039" stop-color="#f09c7b"/><stop offset="0.1824" stop-color="#f19e7d"/><stop offset="0.2294" stop-color="#f4a683"/><stop offset="0.2961" stop-color="#f8ba9d"/><stop offset="0.3275" stop-color="#fbccb4"/><stop offset="0.3431" stop-color="#fdddca"/><stop offset="0.3784" stop-color="#f6f7f7"/><stop offset="0.4176" stop-color="#cfe4ef"/><stop offset="0.4255" stop-color="#c2ddec"/><stop offset="0.4333" stop-color="#bbdaea"/><stop offset="0.4647" stop-color="#a7d0e4"/><stop offset="0.4882" stop-color="#9dcbe1"/><stop offset="0.551" stop-color="#8dc2dc"/><stop offset="0.6059" stop-color="#87beda"/><stop offset="0.6608" stop-color="#87beda"/><stop offset="0.7235" stop-color="#90c4dd"/><stop offset="0.7941" stop-color="#a7d0e4"/><stop offset="0.8333" stop-color="#c2ddec"/><stop offset="0.8451" stop-color="#d4e6f0"/><stop offset="0.849" stop-color="#d5e7f1"/><stop offset="0.8529" stop-color="#dceaf2"/><stop offset="0.8569" stop-color="#ddebf2"/><stop offset="0.8608" stop-color="#e5eef4"/><stop offset="0.8804" stop-color="#f5f6f7"/><stop offset="0.8843" stop-color="#f8f3ef"/><stop offset="0.8882" stop-color="#f8f2ef"/><stop offset="0.8922" stop-color="#f9ede6"/><stop offset="0.9039" stop-color="#fae7dc"/><stop offset="0.9078" stop-color="#fbe2d3"/><stop offset="0.9196" stop-color="#fddcc9"/><stop offset="0.9235" stop-color="#fcd3bd"/><stop offset="0.9353" stop-color="#fbccb4"/><stop offset="0.9392" stop-color="#fac6ac"/><stop offset="0.951" stop-color="#f9c2a7"/><stop offset="0.9627" stop-color="#f7b99c"/><stop offset="0.998" stop-color="#f6af8e"/></linearGradient><linearGradient id="a54"><stop offset="0.001961" stop-color="#f6b191"/><stop offset="0.03333" stop-color="#f5a886"/><stop offset="0.1039" stop-color="#f19e7d"/><stop offset="0.202" stop-color="#f2a17f"/><stop offset="0.2569" stop-color="#f5ab89"/><stop offset="0.3039" stop-color="#f8ba9d"/><stop offset="0.3353" stop-color="#facbb3"/><stop offset="0.3431" stop-color="#fbd2bb"/><stop offset="0.3471" stop-color="#fdd9c4"/><stop offset="0.3745" stop-color="#faebe3"/><stop offset="0.3863" stop-color="#f8f4f2"/><stop offset="0.3941" stop-color="#f3f5f6"/><stop offset="0.4216" stop-color="#dae9f2"/><stop offset="0.4412" stop-color="#c2ddec"/><stop offset="0.4647" stop-color="#b1d5e7"/><stop offset="0.4961" stop-color="#a2cde3"/><stop offset="0.5824" stop-color="#8dc2dc"/><stop offset="0.6765" stop-color="#8ac0db"/><stop offset="0.7471" stop-color="#96c7df"/><stop offset="0.8098" stop-color="#acd2e5"/><stop offset="0.8333" stop-color="#bbdaea"/><stop offset="0.849" stop-color="#cae1ee"/><stop offset="0.8529" stop-color="#d2e6f0"/><stop offset="0.8647" stop-color="#dbeaf2"/><stop offset="0.8686" stop-color="#e2edf3"/><stop offset="0.8882" stop-color="#f2f5f6"/><stop offset="0.8961" stop-color="#f7f5f4"/><stop offset="0.9" stop-color="#f8f0ec"/><stop offset="0.9039" stop-color="#f9f0eb"/><stop offset="0.9078" stop-color="#faebe2"/><stop offset="0.9196" stop-color="#fbe5d8"/><stop offset="0.9235" stop-color="#fce0cf"/><stop offset="0.9275" stop-color="#fcdfcf"/><stop offset="0.9314" stop-color="#fddbc8"/><stop offset="0.9353" stop-color="#fddbc7"/><stop offset="0.9392" stop-color="#fbd1ba"/><stop offset="0.9431" stop-color="#fbd0b9"/><stop offset="0.9471" stop-color="#facab2"/><stop offset="0.9667" stop-color="#f9c2a7"/><stop offset="0.9784" stop-color="#f7b99c"/><stop offset="0.998" stop-color="#f7b596"/></linearGradient><linearGradient id="a55"><stop offset="0.001961" stop-color="#f7b799"/><stop offset="0.02549" stop-color="#f6af8e"/><stop offset="0.03725" stop-color="#f6ae8e"/><stop offset="0.05686" stop-color="#f5a886"/><stop offset="0.1118" stop-color="#f2a17f"/><stop offset="0.1941" stop-color="#f2a17f"/><stop offset="0.2451" stop-color="#f5a886"/><stop offset="0.3118" stop-color="#f8ba9d"/><stop offset="0.3353" stop-color="#f9c5ab"/><stop offset="0.3588" stop-color="#fcd8c3"/><stop offset="0.3627" stop-color="#fdddcb"/><stop offset="0.398" stop-color="#f8f4f2"/><stop offset="0.402" stop-color="#f7f6f6"/><stop offset="0.4098" stop-color="#f0f4f6"/><stop offset="0.4294" stop-color="#e0ecf3"/><stop offset="0.4569" stop-color="#c2ddec"/><stop offset="0.4961" stop-color="#a9d1e5"/><stop offset="0.5588" stop-color="#96c7df"/><stop offset="0.6137" stop-color="#8dc2dc"/><stop offset="0.6922" stop-color="#8dc2dc"/><stop offset="0.7941" stop-color="#a2cde3"/><stop offset="0.8176" stop-color="#acd2e5"/><stop offset="0.849" stop-color="#c0dceb"/><stop offset="0.8569" stop-color="#c7e0ed"/><stop offset="0.8608" stop-color="#d1e5f0"/><stop offset="0.8725" stop-color="#d8e9f1"/><stop offset="0.8765" stop-color="#dfecf3"/><stop offset="0.9039" stop-color="#f5f6f7"/><stop offset="0.9118" stop-color="#f8f3f0"/><stop offset="0.9157" stop-color="#f9eee8"/><stop offset="0.9275" stop-color="#fae9df"/><stop offset="0.9314" stop-color="#fbe4d7"/><stop offset="0.9353" stop-color="#fbe4d6"/><stop offset="0.9392" stop-color="#fcdfcd"/><stop offset="0.9431" stop-color="#fcdecd"/><stop offset="0.9471" stop-color="#fdd9c5"/><stop offset="0.951" stop-color="#fdd9c4"/><stop offset="0.9549" stop-color="#fbcfb7"/><stop offset="0.998" stop-color="#f7b99c"/></linearGradient><linearGradient id="a56"><stop offset="0.001961" stop-color="#f8bda1"/><stop offset="0.05686" stop-color="#f5ac8b"/><stop offset="0.09608" stop-color="#f4a683"/><stop offset="0.2098" stop-color="#f4a481"/><stop offset="0.2451" stop-color="#f5a886"/><stop offset="0.2961" stop-color="#f6b394"/><stop offset="0.3431" stop-color="#f9c5ab"/><stop offset="0.3588" stop-color="#fbceb7"/><stop offset="0.3706" stop-color="#fddcc9"/><stop offset="0.4098" stop-color="#f8f4f2"/><stop offset="0.4216" stop-color="#f1f4f6"/><stop offset="0.4843" stop-color="#b8d8e9"/><stop offset="0.5196" stop-color="#a7d0e4"/><stop offset="0.5588" stop-color="#9bc9e0"/><stop offset="0.6216" stop-color="#90c4dd"/><stop offset="0.7078" stop-color="#90c4dd"/><stop offset="0.7627" stop-color="#98c8e0"/><stop offset="0.8255" stop-color="#acd2e5"/><stop offset="0.8647" stop-color="#c5dfec"/><stop offset="0.8686" stop-color="#cfe4f0"/><stop offset="0.8882" stop-color="#ddebf2"/><stop offset="0.8922" stop-color="#e4eef3"/><stop offset="0.9039" stop-color="#eaf1f5"/><stop offset="0.9078" stop-color="#f1f4f6"/><stop offset="0.9196" stop-color="#f7f6f6"/><stop offset="0.9235" stop-color="#f8f1ed"/><stop offset="0.9275" stop-color="#f8f1ed"/><stop offset="0.9314" stop-color="#f9ece4"/><stop offset="0.9353" stop-color="#f9ebe3"/><stop offset="0.9392" stop-color="#fae7dc"/><stop offset="0.9431" stop-color="#fae7dc"/><stop offset="0.9471" stop-color="#fce2d3"/><stop offset="0.951" stop-color="#fce2d2"/><stop offset="0.9549" stop-color="#fcddcb"/><stop offset="0.9588" stop-color="#fdddcb"/><stop offset="0.9627" stop-color="#fcd7c2"/><stop offset="0.9667" stop-color="#fcd7c2"/><stop offset="0.9706" stop-color="#fbcfb7"/><stop offset="0.998" stop-color="#f9c2a7"/></linearGradient><linearGradient id="a57"><stop offset="0.001961" stop-color="#f9c4a9"/><stop offset="0.02157" stop-color="#f8bda1"/><stop offset="0.02549" stop-color="#f7b99c"/><stop offset="0.06471" stop-color="#f6af8e"/><stop offset="0.1275" stop-color="#f4a683"/><stop offset="0.2216" stop-color="#f4a683"/><stop offset="0.2686" stop-color="#f5ac8b"/><stop offset="0.3118" stop-color="#f7b697"/><stop offset="0.351" stop-color="#f9c5ab"/><stop offset="0.3667" stop-color="#fbcfb7"/><stop offset="0.3824" stop-color="#fdddca"/><stop offset="0.4216" stop-color="#f8f4f2"/><stop offset="0.4255" stop-color="#f7f6f6"/><stop offset="0.4333" stop-color="#f0f4f6"/><stop offset="0.4725" stop-color="#d1e5f0"/><stop offset="0.4922" stop-color="#bddbea"/><stop offset="0.5471" stop-color="#a3cee3"/><stop offset="0.6294" stop-color="#93c6de"/><stop offset="0.7235" stop-color="#93c6de"/><stop offset="0.7863" stop-color="#9dcbe1"/><stop offset="0.8255" stop-color="#a9d1e5"/><stop offset="0.8294" stop-color="#aed3e6"/><stop offset="0.8412" stop-color="#b1d5e7"/><stop offset="0.8725" stop-color="#c5dfec"/><stop offset="0.8765" stop-color="#cde3ef"/><stop offset="0.8843" stop-color="#d5e7f1"/><stop offset="0.8882" stop-color="#d5e7f1"/><stop offset="0.8922" stop-color="#dbeaf2"/><stop offset="0.9039" stop-color="#e1edf3"/><stop offset="0.9078" stop-color="#e8f0f4"/><stop offset="0.9275" stop-color="#f5f6f7"/><stop offset="0.9392" stop-color="#f9efe9"/><stop offset="0.9431" stop-color="#f9efe9"/><stop offset="0.9471" stop-color="#faebe2"/><stop offset="0.951" stop-color="#faeae1"/><stop offset="0.9549" stop-color="#fbe5d8"/><stop offset="0.9588" stop-color="#fbe5d8"/><stop offset="0.9706" stop-color="#fddcc9"/><stop offset="0.9745" stop-color="#fddcc9"/><stop offset="0.9784" stop-color="#fcd5bf"/><stop offset="0.9824" stop-color="#fcd5bf"/><stop offset="0.9863" stop-color="#fbceb7"/><stop offset="0.9902" stop-color="#fbceb7"/><stop offset="0.9941" stop-color="#fac8af"/><stop offset="0.998" stop-color="#fac8af"/></linearGradient><linearGradient id="a58"><stop offset="0.001961" stop-color="#facab1"/><stop offset="0.05686" stop-color="#f7b596"/><stop offset="0.1118" stop-color="#f5aa89"/><stop offset="0.1706" stop-color="#f4a886"/><stop offset="0.1745" stop-color="#f4a683"/><stop offset="0.2373" stop-color="#f5a886"/><stop offset="0.2882" stop-color="#f6af8f"/><stop offset="0.3353" stop-color="#f8bc9f"/><stop offset="0.3588" stop-color="#f9c5ab"/><stop offset="0.3784" stop-color="#fbd0b9"/><stop offset="0.3863" stop-color="#fdd9c4"/><stop offset="0.4255" stop-color="#f9f0eb"/><stop offset="0.4333" stop-color="#f7f5f4"/><stop offset="0.4451" stop-color="#f1f4f6"/><stop offset="0.4882" stop-color="#cfe4ef"/><stop offset="0.5" stop-color="#c2ddec"/><stop offset="0.5353" stop-color="#aed3e6"/><stop offset="0.5902" stop-color="#9dcbe1"/><stop offset="0.6373" stop-color="#96c7df"/><stop offset="0.7" stop-color="#93c6de"/><stop offset="0.7627" stop-color="#98c8e0"/><stop offset="0.8255" stop-color="#a7d0e4"/><stop offset="0.8725" stop-color="#bddbea"/><stop offset="0.8765" stop-color="#c4deec"/><stop offset="0.8882" stop-color="#cce2ef"/><stop offset="0.8922" stop-color="#d3e6f0"/><stop offset="0.9353" stop-color="#f2f5f6"/><stop offset="0.9392" stop-color="#f7f5f4"/><stop offset="0.951" stop-color="#f8f1ed"/><stop offset="0.9549" stop-color="#f9ede5"/><stop offset="0.9588" stop-color="#f9ede5"/><stop offset="0.9627" stop-color="#fae8de"/><stop offset="0.9667" stop-color="#fae8de"/><stop offset="0.9706" stop-color="#fbe4d6"/><stop offset="0.9824" stop-color="#fcdfcf"/><stop offset="0.9863" stop-color="#fddbc7"/><stop offset="0.9902" stop-color="#fddbc7"/><stop offset="0.9941" stop-color="#fcd3bc"/><stop offset="0.998" stop-color="#fcd3bc"/></linearGradient><linearGradient id="a59"><stop offset="0.001961" stop-color="#fcd5bf"/><stop offset="0.005882" stop-color="#fcd5bf"/><stop offset="0.009804" stop-color="#fbceb7"/><stop offset="0.01373" stop-color="#fbceb7"/><stop offset="0.01765" stop-color="#facab1"/><stop offset="0.03725" stop-color="#f9c4a9"/><stop offset="0.04118" stop-color="#f8bfa4"/><stop offset="0.09608" stop-color="#f6b191"/><stop offset="0.1745" stop-color="#f5a886"/><stop offset="0.2216" stop-color="#f5a886"/><stop offset="0.2843" stop-color="#f6af8e"/><stop offset="0.3431" stop-color="#f8bc9f"/><stop offset="0.3863" stop-color="#fbd0b9"/><stop offset="0.3941" stop-color="#fdd9c4"/><stop offset="0.449" stop-color="#f6f7f7"/><stop offset="0.4961" stop-color="#d4e6f1"/><stop offset="0.5157" stop-color="#c2ddec"/><stop offset="0.551" stop-color="#aed3e6"/><stop offset="0.598" stop-color="#a0cce2"/><stop offset="0.6451" stop-color="#98c8e0"/><stop offset="0.7235" stop-color="#96c7df"/><stop offset="0.802" stop-color="#a0cce2"/><stop offset="0.8569" stop-color="#b1d5e7"/><stop offset="0.8686" stop-color="#bad9e9"/><stop offset="0.8804" stop-color="#bddbea"/><stop offset="0.8843" stop-color="#c4deec"/><stop offset="0.9" stop-color="#d2e5f0"/><stop offset="0.9039" stop-color="#d2e6f0"/><stop offset="0.9078" stop-color="#d8e8f1"/><stop offset="0.9118" stop-color="#d8e9f1"/><stop offset="0.9157" stop-color="#deebf2"/><stop offset="0.9196" stop-color="#deebf2"/><stop offset="0.9235" stop-color="#e4eef3"/><stop offset="0.9275" stop-color="#e4eef4"/><stop offset="0.9314" stop-color="#eaf1f5"/><stop offset="0.951" stop-color="#f6f7f7"/><stop offset="0.9627" stop-color="#f9efe9"/><stop offset="0.9667" stop-color="#f9efe9"/><stop offset="0.9706" stop-color="#faebe2"/><stop offset="0.9745" stop-color="#faeae1"/><stop offset="0.9784" stop-color="#fbe6da"/><stop offset="0.9824" stop-color="#fbe6da"/><stop offset="0.9863" stop-color="#fce2d2"/><stop offset="0.998" stop-color="#fdddcb"/></linearGradient><linearGradient id="b0"><stop offset="0.001961" stop-color="#f19e7d"/><stop offset="0.005882" stop-color="#f19e7d"/><stop offset="0.009804" stop-color="#ec9374"/><stop offset="0.01373" stop-color="#ec9374"/><stop offset="0.01765" stop-color="#e98b6e"/><stop offset="0.02941" stop-color="#e6866a"/><stop offset="0.03333" stop-color="#e37e64"/><stop offset="0.03725" stop-color="#e37e64"/><stop offset="0.04118" stop-color="#e17860"/><stop offset="0.05294" stop-color="#df755d"/><stop offset="0.07255" stop-color="#da6853"/><stop offset="0.1039" stop-color="#d55d4c"/><stop offset="0.1824" stop-color="#ce4f45"/><stop offset="0.2843" stop-color="#cf5246"/><stop offset="0.3196" stop-color="#d25849"/><stop offset="0.3667" stop-color="#d96652"/><stop offset="0.402" stop-color="#e17860"/><stop offset="0.4333" stop-color="#ec9374"/><stop offset="0.4451" stop-color="#f3a482"/><stop offset="0.4569" stop-color="#f7b799"/><stop offset="0.4647" stop-color="#facab1"/><stop offset="0.4725" stop-color="#fae9df"/><stop offset="0.4804" stop-color="#e9f0f4"/><stop offset="0.4882" stop-color="#c2ddec"/><stop offset="0.4961" stop-color="#a9d1e5"/><stop offset="0.5039" stop-color="#98c8e0"/><stop offset="0.5275" stop-color="#75b2d4"/><stop offset="0.551" stop-color="#5fa5cd"/><stop offset="0.5863" stop-color="#4a98c6"/><stop offset="0.6216" stop-color="#408fc1"/><stop offset="0.6843" stop-color="#3b88be"/><stop offset="0.7706" stop-color="#3b88be"/><stop offset="0.849" stop-color="#4393c3"/><stop offset="0.8804" stop-color="#4f9bc7"/><stop offset="0.8843" stop-color="#559ec9"/><stop offset="0.8961" stop-color="#59a1ca"/><stop offset="0.9157" stop-color="#6bacd1"/><stop offset="0.9196" stop-color="#6bacd1"/><stop offset="0.9235" stop-color="#74b2d4"/><stop offset="0.9353" stop-color="#7eb8d7"/><stop offset="0.9392" stop-color="#89c0db"/><stop offset="0.9431" stop-color="#8ac0db"/><stop offset="0.9471" stop-color="#95c7df"/><stop offset="0.951" stop-color="#96c7df"/><stop offset="0.9549" stop-color="#a4cee3"/><stop offset="0.9588" stop-color="#a5cee3"/><stop offset="0.9627" stop-color="#bcdaea"/><stop offset="0.9667" stop-color="#bddbea"/><stop offset="0.9706" stop-color="#e2edf3"/><stop offset="0.9745" stop-color="#e3edf3"/><stop offset="0.9784" stop-color="#f8eee7"/><stop offset="0.9824" stop-color="#f9eee7"/><stop offset="0.9863" stop-color="#fbd1ba"/><stop offset="0.9902" stop-color="#fbd0b9"/><stop offset="0.9941" stop-color="#f7b99c"/><stop offset="0.998" stop-color="#f7b99c"/></linearGradient><linearGradient id="b1"><stop offset="0.001961" stop-color="#fae9df"/><stop offset="0.005882" stop-color="#fae9df"/><stop offset="0.009804" stop-color="#fbceb7"/><stop offset="0.01373" stop-color="#fbceb6"/><stop offset="0.01765" stop-color="#f7b99c"/><stop offset="0.02157" stop-color="#f7b99b"/><stop offset="0.02549" stop-color="#f5ac8b"/><stop offset="0.02941" stop-color="#f5ac8b"/><stop offset="0.03333" stop-color="#f3a481"/><stop offset="0.03725" stop-color="#f3a381"/><stop offset="0.04118" stop-color="#ef9979"/><stop offset="0.0451" stop-color="#ef9878"/><stop offset="0.05686" stop-color="#e8896c"/><stop offset="0.09608" stop-color="#dd7059"/><stop offset="0.151" stop-color="#d55d4c"/><stop offset="0.198" stop-color="#d05548"/><stop offset="0.2686" stop-color="#cf5246"/><stop offset="0.3588" stop-color="#d55e4c"/><stop offset="0.4098" stop-color="#dd7059"/><stop offset="0.449" stop-color="#e8896c"/><stop offset="0.4725" stop-color="#f3a481"/><stop offset="0.4882" stop-color="#f8bb9e"/><stop offset="0.4961" stop-color="#fbd0b9"/><stop offset="0.5039" stop-color="#f9ebe3"/><stop offset="0.5118" stop-color="#e9f0f4"/><stop offset="0.5196" stop-color="#c5dfec"/><stop offset="0.5275" stop-color="#acd2e5"/><stop offset="0.5314" stop-color="#a4cee3"/><stop offset="0.5549" stop-color="#7fb9d7"/><stop offset="0.5667" stop-color="#71b0d3"/><stop offset="0.5863" stop-color="#61a6cd"/><stop offset="0.6137" stop-color="#529dc8"/><stop offset="0.6569" stop-color="#4292c2"/><stop offset="0.7471" stop-color="#3c8abe"/><stop offset="0.8098" stop-color="#3e8cbf"/><stop offset="0.8647" stop-color="#4393c3"/><stop offset="0.9196" stop-color="#59a1ca"/><stop offset="0.9314" stop-color="#65a8ce"/><stop offset="0.951" stop-color="#71b0d3"/><stop offset="0.9549" stop-color="#7ab6d6"/><stop offset="0.9588" stop-color="#7bb6d6"/><stop offset="0.9627" stop-color="#84bcd9"/><stop offset="0.9667" stop-color="#84bcd9"/><stop offset="0.9706" stop-color="#8dc2dc"/><stop offset="0.9745" stop-color="#8dc2dc"/><stop offset="0.9784" stop-color="#9ac9e0"/><stop offset="0.9824" stop-color="#9bc9e0"/><stop offset="0.9863" stop-color="#acd2e5"/><stop offset="0.9902" stop-color="#acd2e5"/><stop offset="0.9941" stop-color="#c2ddec"/><stop offset="0.998" stop-color="#c2ddec"/></linearGradient><linearGradient id="b2"><stop offset="0.001961" stop-color="#a2cde3"/><stop offset="0.005882" stop-color="#a2cde3"/><stop offset="0.009804" stop-color="#b3d6e8"/><stop offset="0.01373" stop-color="#b4d6e8"/><stop offset="0.01765" stop-color="#d2e6f0"/><stop offset="0.02157" stop-color="#d3e6f0"/><stop offset="0.02549" stop-color="#eff3f5"/><stop offset="0.02941" stop-color="#eff3f5"/><stop offset="0.03333" stop-color="#fae8de"/><stop offset="0.03725" stop-color="#fae7dc"/><stop offset="0.04118" stop-color="#fbceb7"/><stop offset="0.0451" stop-color="#fbcdb6"/><stop offset="0.04902" stop-color="#f8bb9e"/><stop offset="0.05294" stop-color="#f8bb9e"/><stop offset="0.05686" stop-color="#f6af8e"/><stop offset="0.06078" stop-color="#f6ae8e"/><stop offset="0.06471" stop-color="#f4a683"/><stop offset="0.06863" stop-color="#f4a583"/><stop offset="0.07255" stop-color="#f09c7b"/><stop offset="0.07647" stop-color="#f09b7a"/><stop offset="0.08039" stop-color="#ec9374"/><stop offset="0.09216" stop-color="#ea8d70"/><stop offset="0.09608" stop-color="#e6866a"/><stop offset="0.1039" stop-color="#e48066"/><stop offset="0.1667" stop-color="#d86551"/><stop offset="0.2216" stop-color="#d35a4a"/><stop offset="0.2529" stop-color="#d25849"/><stop offset="0.3196" stop-color="#d25849"/><stop offset="0.3627" stop-color="#d55d4c"/><stop offset="0.4373" stop-color="#df745c"/><stop offset="0.4804" stop-color="#ea8e70"/><stop offset="0.5" stop-color="#f3a381"/><stop offset="0.5118" stop-color="#f6b394"/><stop offset="0.5196" stop-color="#f9c2a7"/><stop offset="0.5275" stop-color="#fdd9c4"/><stop offset="0.5353" stop-color="#f9efe9"/><stop offset="0.5431" stop-color="#e7f0f4"/><stop offset="0.551" stop-color="#c7e0ed"/><stop offset="0.5588" stop-color="#aed3e6"/><stop offset="0.5784" stop-color="#8cc1dc"/><stop offset="0.5863" stop-color="#82bbd8"/><stop offset="0.6059" stop-color="#6eaed2"/><stop offset="0.6412" stop-color="#58a0ca"/><stop offset="0.6725" stop-color="#4a98c5"/><stop offset="0.7" stop-color="#4393c3"/><stop offset="0.7588" stop-color="#3f8ec1"/><stop offset="0.849" stop-color="#408fc1"/><stop offset="0.8804" stop-color="#4393c3"/><stop offset="0.9275" stop-color="#529dc8"/><stop offset="0.951" stop-color="#5fa5cd"/><stop offset="0.9549" stop-color="#65a8cf"/><stop offset="0.9745" stop-color="#71b0d3"/><stop offset="0.9784" stop-color="#78b4d5"/><stop offset="0.9824" stop-color="#78b4d5"/><stop offset="0.9863" stop-color="#81bad8"/><stop offset="0.9902" stop-color="#81bad8"/><stop offset="0.9941" stop-color="#8ac0db"/><stop offset="0.998" stop-color="#8ac0db"/></linearGradient><linearGradient id="b3"><stop offset="0.001961" stop-color="#7eb8d7"/><stop offset="0.005882" stop-color="#7eb8d7"/><stop offset="0.009804" stop-color="#87beda"/><stop offset="0.01373" stop-color="#87beda"/><stop offset="0.01765" stop-color="#90c4dd"/><stop offset="0.02157" stop-color="#91c4de"/><stop offset="0.02549" stop-color="#9dcbe1"/><stop offset="0.02941" stop-color="#9ecbe1"/><stop offset="0.03333" stop-color="#a9d1e5"/><stop offset="0.03725" stop-color="#aad1e5"/><stop offset="0.04118" stop-color="#bbdaea"/><stop offset="0.0451" stop-color="#bcdaea"/><stop offset="0.04902" stop-color="#dae9f2"/><stop offset="0.05294" stop-color="#dbeaf2"/><stop offset="0.05686" stop-color="#f3f5f6"/><stop offset="0.06078" stop-color="#f4f4f5"/><stop offset="0.06471" stop-color="#fbe6da"/><stop offset="0.06863" stop-color="#fbe4d7"/><stop offset="0.07255" stop-color="#fbceb7"/><stop offset="0.07647" stop-color="#fbcdb5"/><stop offset="0.08039" stop-color="#f8bda1"/><stop offset="0.08431" stop-color="#f8bca0"/><stop offset="0.08824" stop-color="#f6b191"/><stop offset="0.09216" stop-color="#f6b090"/><stop offset="0.09608" stop-color="#f5a886"/><stop offset="0.1" stop-color="#f4a785"/><stop offset="0.1039" stop-color="#f19e7d"/><stop offset="0.1078" stop-color="#f19d7c"/><stop offset="0.1118" stop-color="#ee9677"/><stop offset="0.1588" stop-color="#e17860"/><stop offset="0.2059" stop-color="#da6853"/><stop offset="0.2686" stop-color="#d55d4c"/><stop offset="0.3549" stop-color="#d55d4c"/><stop offset="0.4098" stop-color="#d86551"/><stop offset="0.4529" stop-color="#de715a"/><stop offset="0.4843" stop-color="#e48066"/><stop offset="0.5118" stop-color="#ec9374"/><stop offset="0.5275" stop-color="#f3a481"/><stop offset="0.5353" stop-color="#f5ac8b"/><stop offset="0.5431" stop-color="#f7b99c"/><stop offset="0.551" stop-color="#fac8af"/><stop offset="0.5588" stop-color="#fcdfcf"/><stop offset="0.5667" stop-color="#f8f2ef"/><stop offset="0.5745" stop-color="#e4eef4"/><stop offset="0.5824" stop-color="#c5dfec"/><stop offset="0.5941" stop-color="#a8d0e4"/><stop offset="0.6255" stop-color="#7eb8d7"/><stop offset="0.6569" stop-color="#64a8ce"/><stop offset="0.7196" stop-color="#4a97c5"/><stop offset="0.7745" stop-color="#4292c2"/><stop offset="0.8804" stop-color="#4393c3"/><stop offset="0.9431" stop-color="#529dc8"/><stop offset="0.9667" stop-color="#5ca3cb"/><stop offset="0.9706" stop-color="#62a6ce"/><stop offset="0.9824" stop-color="#65a9cf"/><stop offset="0.9863" stop-color="#6bacd1"/><stop offset="0.998" stop-color="#71b0d3"/></linearGradient><linearGradient id="b4"><stop offset="0.001961" stop-color="#6bacd1"/><stop offset="0.005882" stop-color="#6badd1"/><stop offset="0.01765" stop-color="#78b4d5"/><stop offset="0.03725" stop-color="#84bcd9"/><stop offset="0.04118" stop-color="#8dc2dc"/><stop offset="0.0451" stop-color="#8ec2dd"/><stop offset="0.04902" stop-color="#98c8e0"/><stop offset="0.05294" stop-color="#99c8e0"/><stop offset="0.05686" stop-color="#a2cde3"/><stop offset="0.06078" stop-color="#a3cee3"/><stop offset="0.06471" stop-color="#b1d5e7"/><stop offset="0.06863" stop-color="#b2d5e7"/><stop offset="0.07255" stop-color="#c5dfec"/><stop offset="0.07647" stop-color="#c7e0ed"/><stop offset="0.08039" stop-color="#e1edf3"/><stop offset="0.08431" stop-color="#e3eef3"/><stop offset="0.08824" stop-color="#f7f5f4"/><stop offset="0.09216" stop-color="#f8f4f1"/><stop offset="0.09608" stop-color="#fbe4d6"/><stop offset="0.1" stop-color="#fbe2d3"/><stop offset="0.1039" stop-color="#fbceb7"/><stop offset="0.1078" stop-color="#fbccb4"/><stop offset="0.1118" stop-color="#f8bda1"/><stop offset="0.1157" stop-color="#f8bca0"/><stop offset="0.1196" stop-color="#f6b394"/><stop offset="0.1235" stop-color="#f6b292"/><stop offset="0.1275" stop-color="#f5aa89"/><stop offset="0.1314" stop-color="#f5a987"/><stop offset="0.1353" stop-color="#f2a17f"/><stop offset="0.151" stop-color="#ec9374"/><stop offset="0.1549" stop-color="#ec9374"/><stop offset="0.1745" stop-color="#e58368"/><stop offset="0.1941" stop-color="#e27d63"/><stop offset="0.198" stop-color="#e17860"/><stop offset="0.2529" stop-color="#da6853"/><stop offset="0.3549" stop-color="#d6604d"/><stop offset="0.4176" stop-color="#d86551"/><stop offset="0.4647" stop-color="#dd7059"/><stop offset="0.5118" stop-color="#e58368"/><stop offset="0.5353" stop-color="#ec9374"/><stop offset="0.551" stop-color="#f2a17f"/><stop offset="0.5745" stop-color="#f8bda1"/><stop offset="0.5824" stop-color="#fbceb7"/><stop offset="0.5902" stop-color="#fbe5d8"/><stop offset="0.5941" stop-color="#f9efea"/><stop offset="0.598" stop-color="#f7f6f6"/><stop offset="0.6176" stop-color="#b8d9e9"/><stop offset="0.6255" stop-color="#a8d0e4"/><stop offset="0.6412" stop-color="#91c4de"/><stop offset="0.6804" stop-color="#6daed1"/><stop offset="0.7353" stop-color="#539dc9"/><stop offset="0.802" stop-color="#4695c4"/><stop offset="0.8647" stop-color="#4393c3"/><stop offset="0.9353" stop-color="#4c99c6"/><stop offset="0.998" stop-color="#62a7ce"/></linearGradient><linearGradient id="b5"><stop offset="0.001961" stop-color="#62a7ce"/><stop offset="0.02157" stop-color="#68abd0"/><stop offset="0.02549" stop-color="#6eaed2"/><stop offset="0.03725" stop-color="#72b1d3"/><stop offset="0.04118" stop-color="#78b4d5"/><stop offset="0.0451" stop-color="#78b5d5"/><stop offset="0.04902" stop-color="#7eb8d7"/><stop offset="0.06078" stop-color="#85bdd9"/><stop offset="0.07255" stop-color="#96c7df"/><stop offset="0.07647" stop-color="#96c7df"/><stop offset="0.08039" stop-color="#a0cce2"/><stop offset="0.08431" stop-color="#a0cce2"/><stop offset="0.08824" stop-color="#a9d1e5"/><stop offset="0.09216" stop-color="#abd2e5"/><stop offset="0.09608" stop-color="#b8d8e9"/><stop offset="0.1" stop-color="#bbdaea"/><stop offset="0.1039" stop-color="#d2e6f0"/><stop offset="0.1078" stop-color="#d5e7f1"/><stop offset="0.1118" stop-color="#e9f0f4"/><stop offset="0.1157" stop-color="#ebf0f3"/><stop offset="0.1196" stop-color="#f8f1ed"/><stop offset="0.1235" stop-color="#f9efe9"/><stop offset="0.1275" stop-color="#fce2d2"/><stop offset="0.1314" stop-color="#fbdfce"/><stop offset="0.1353" stop-color="#fbccb4"/><stop offset="0.1392" stop-color="#facab1"/><stop offset="0.1431" stop-color="#f8bda1"/><stop offset="0.1471" stop-color="#f8bc9f"/><stop offset="0.151" stop-color="#f6b394"/><stop offset="0.1549" stop-color="#f6b192"/><stop offset="0.1588" stop-color="#f5aa89"/><stop offset="0.1745" stop-color="#f09c7b"/><stop offset="0.2137" stop-color="#e58368"/><stop offset="0.2686" stop-color="#dd7059"/><stop offset="0.3392" stop-color="#d86551"/><stop offset="0.402" stop-color="#d86551"/><stop offset="0.4647" stop-color="#dc6e57"/><stop offset="0.5157" stop-color="#e27c63"/><stop offset="0.551" stop-color="#ea8e70"/><stop offset="0.5824" stop-color="#f5a886"/><stop offset="0.598" stop-color="#f7b99c"/><stop offset="0.6059" stop-color="#f9c6ac"/><stop offset="0.6137" stop-color="#fddbc7"/><stop offset="0.6176" stop-color="#fbe4d7"/><stop offset="0.6294" stop-color="#f2f5f6"/><stop offset="0.6373" stop-color="#ddebf2"/><stop offset="0.6412" stop-color="#cce2ee"/><stop offset="0.649" stop-color="#b7d8e9"/><stop offset="0.6647" stop-color="#9ecbe1"/><stop offset="0.7039" stop-color="#76b4d5"/><stop offset="0.7275" stop-color="#69abd0"/><stop offset="0.7824" stop-color="#539dc9"/><stop offset="0.849" stop-color="#4997c5"/><stop offset="0.9118" stop-color="#4997c5"/><stop offset="0.9667" stop-color="#529dc8"/><stop offset="0.998" stop-color="#5ca3cb"/></linearGradient><linearGradient id="b6"><stop offset="0.001961" stop-color="#5ca3cb"/><stop offset="0.05294" stop-color="#6fafd2"/><stop offset="0.05686" stop-color="#75b2d4"/><stop offset="0.07647" stop-color="#7eb9d7"/><stop offset="0.08431" stop-color="#85bdda"/><stop offset="0.08824" stop-color="#8dc2dc"/><stop offset="0.1" stop-color="#94c6df"/><stop offset="0.1039" stop-color="#9dcbe1"/><stop offset="0.1078" stop-color="#9ecbe1"/><stop offset="0.1118" stop-color="#a7d0e4"/><stop offset="0.1157" stop-color="#a8d0e4"/><stop offset="0.1196" stop-color="#b3d6e8"/><stop offset="0.1235" stop-color="#b6d7e8"/><stop offset="0.1275" stop-color="#c5dfec"/><stop offset="0.1314" stop-color="#c8e0ed"/><stop offset="0.1353" stop-color="#ddebf2"/><stop offset="0.1392" stop-color="#e0ecf3"/><stop offset="0.1431" stop-color="#f0f4f6"/><stop offset="0.1471" stop-color="#f2f3f4"/><stop offset="0.151" stop-color="#f9eee7"/><stop offset="0.1549" stop-color="#faebe3"/><stop offset="0.1588" stop-color="#fcdecd"/><stop offset="0.1627" stop-color="#fcdbc8"/><stop offset="0.1667" stop-color="#facab1"/><stop offset="0.1706" stop-color="#fac8af"/><stop offset="0.1745" stop-color="#f8bda1"/><stop offset="0.1784" stop-color="#f8bc9f"/><stop offset="0.1902" stop-color="#f5ac8b"/><stop offset="0.2059" stop-color="#f19e7d"/><stop offset="0.2294" stop-color="#ea8e70"/><stop offset="0.2608" stop-color="#e48066"/><stop offset="0.3157" stop-color="#dd7059"/><stop offset="0.3549" stop-color="#db6b55"/><stop offset="0.4412" stop-color="#db6b55"/><stop offset="0.4961" stop-color="#de735c"/><stop offset="0.5431" stop-color="#e48066"/><stop offset="0.5667" stop-color="#e98b6e"/><stop offset="0.598" stop-color="#f2a17f"/><stop offset="0.6137" stop-color="#f6af8e"/><stop offset="0.6294" stop-color="#f8bfa4"/><stop offset="0.6373" stop-color="#fbceb7"/><stop offset="0.6412" stop-color="#fbdbc8"/><stop offset="0.6451" stop-color="#fce2d2"/><stop offset="0.649" stop-color="#faebe2"/><stop offset="0.6529" stop-color="#f9f0eb"/><stop offset="0.6608" stop-color="#ecf2f5"/><stop offset="0.6647" stop-color="#dfecf3"/><stop offset="0.6686" stop-color="#d8e9f1"/><stop offset="0.6725" stop-color="#c8e0ed"/><stop offset="0.6882" stop-color="#a8d0e4"/><stop offset="0.7196" stop-color="#86bdda"/><stop offset="0.7353" stop-color="#79b5d6"/><stop offset="0.7588" stop-color="#6cadd1"/><stop offset="0.798" stop-color="#5ca3cc"/><stop offset="0.8647" stop-color="#4f9bc7"/><stop offset="0.951" stop-color="#4f9bc7"/><stop offset="0.998" stop-color="#59a1ca"/></linearGradient><linearGradient id="b7"><stop offset="0.001961" stop-color="#5ca3cb"/><stop offset="0.02941" stop-color="#5fa5cd"/><stop offset="0.07647" stop-color="#72b1d3"/><stop offset="0.08039" stop-color="#78b4d5"/><stop offset="0.09216" stop-color="#7bb7d6"/><stop offset="0.09608" stop-color="#81bad8"/><stop offset="0.1235" stop-color="#94c6df"/><stop offset="0.1471" stop-color="#b1d5e7"/><stop offset="0.151" stop-color="#bddbea"/><stop offset="0.1549" stop-color="#c1ddeb"/><stop offset="0.1588" stop-color="#d2e6f0"/><stop offset="0.1627" stop-color="#d6e7f1"/><stop offset="0.1667" stop-color="#e6eff4"/><stop offset="0.1706" stop-color="#e9f0f4"/><stop offset="0.1745" stop-color="#f7f6f6"/><stop offset="0.1784" stop-color="#f8f4f2"/><stop offset="0.1824" stop-color="#fae9df"/><stop offset="0.1863" stop-color="#fae7db"/><stop offset="0.1902" stop-color="#fddcc9"/><stop offset="0.1941" stop-color="#fcd9c4"/><stop offset="0.198" stop-color="#facab1"/><stop offset="0.202" stop-color="#fac7ae"/><stop offset="0.2059" stop-color="#f8bda1"/><stop offset="0.2098" stop-color="#f8bc9f"/><stop offset="0.2216" stop-color="#f5ac8b"/><stop offset="0.2608" stop-color="#eb9172"/><stop offset="0.3" stop-color="#e48066"/><stop offset="0.3314" stop-color="#e17860"/><stop offset="0.4098" stop-color="#dc6e57"/><stop offset="0.5039" stop-color="#de735c"/><stop offset="0.5431" stop-color="#e27b62"/><stop offset="0.598" stop-color="#eb9172"/><stop offset="0.6294" stop-color="#f4a683"/><stop offset="0.6373" stop-color="#f5ac8b"/><stop offset="0.6608" stop-color="#fac8af"/><stop offset="0.6647" stop-color="#fcd5bf"/><stop offset="0.6686" stop-color="#fddbc7"/><stop offset="0.6804" stop-color="#f8f1ed"/><stop offset="0.6843" stop-color="#f7f5f4"/><stop offset="0.6882" stop-color="#ecf1f4"/><stop offset="0.6922" stop-color="#e7f0f4"/><stop offset="0.6961" stop-color="#dae9f2"/><stop offset="0.7" stop-color="#d4e6f1"/><stop offset="0.7039" stop-color="#c4deec"/><stop offset="0.7196" stop-color="#a8d0e4"/><stop offset="0.7588" stop-color="#82bbd9"/><stop offset="0.798" stop-color="#6cadd1"/><stop offset="0.8451" stop-color="#5ca3cc"/><stop offset="0.9118" stop-color="#569fc9"/><stop offset="0.9196" stop-color="#529dc8"/><stop offset="0.951" stop-color="#529dc8"/><stop offset="0.9588" stop-color="#569fc9"/><stop offset="0.998" stop-color="#59a1ca"/></linearGradient><linearGradient id="b8"><stop offset="0.001961" stop-color="#5ca3cb"/><stop offset="0.06078" stop-color="#65a9cf"/><stop offset="0.1078" stop-color="#78b5d5"/><stop offset="0.1118" stop-color="#7eb8d7"/><stop offset="0.1235" stop-color="#82bbd8"/><stop offset="0.1471" stop-color="#94c6df"/><stop offset="0.151" stop-color="#9bc9e0"/><stop offset="0.1549" stop-color="#9ccae1"/><stop offset="0.1706" stop-color="#aed3e6"/><stop offset="0.1745" stop-color="#b8d8e9"/><stop offset="0.1784" stop-color="#bbdaea"/><stop offset="0.1824" stop-color="#cae1ee"/><stop offset="0.1863" stop-color="#cde3ef"/><stop offset="0.1902" stop-color="#ddebf2"/><stop offset="0.1941" stop-color="#e0ecf3"/><stop offset="0.198" stop-color="#edf2f5"/><stop offset="0.2059" stop-color="#f8f1ed"/><stop offset="0.2098" stop-color="#f9eee8"/><stop offset="0.2137" stop-color="#fbe5d8"/><stop offset="0.2176" stop-color="#fbe2d3"/><stop offset="0.2216" stop-color="#fcd7c2"/><stop offset="0.2255" stop-color="#fcd3bd"/><stop offset="0.2294" stop-color="#fac8af"/><stop offset="0.2333" stop-color="#f9c5ab"/><stop offset="0.2373" stop-color="#f8bda1"/><stop offset="0.2451" stop-color="#f7b596"/><stop offset="0.2686" stop-color="#f3a481"/><stop offset="0.2922" stop-color="#ec9374"/><stop offset="0.3471" stop-color="#e48066"/><stop offset="0.3784" stop-color="#e17860"/><stop offset="0.4255" stop-color="#de735c"/><stop offset="0.4882" stop-color="#de735c"/><stop offset="0.5353" stop-color="#e17860"/><stop offset="0.5745" stop-color="#e48066"/><stop offset="0.6059" stop-color="#e98b6e"/><stop offset="0.6451" stop-color="#f2a17f"/><stop offset="0.6608" stop-color="#f5ac8b"/><stop offset="0.6765" stop-color="#f8bb9e"/><stop offset="0.6922" stop-color="#fcd3bc"/><stop offset="0.6961" stop-color="#fbdecd"/><stop offset="0.7" stop-color="#fbe3d4"/><stop offset="0.7039" stop-color="#faebe3"/><stop offset="0.7157" stop-color="#f2f5f6"/><stop offset="0.7196" stop-color="#e6eff4"/><stop offset="0.7235" stop-color="#e1edf3"/><stop offset="0.7275" stop-color="#d4e6f0"/><stop offset="0.7314" stop-color="#cfe4ef"/><stop offset="0.7353" stop-color="#c0dceb"/><stop offset="0.751" stop-color="#a7d0e4"/><stop offset="0.7667" stop-color="#97c8e0"/><stop offset="0.798" stop-color="#7fb9d8"/><stop offset="0.8373" stop-color="#6cadd1"/><stop offset="0.9" stop-color="#5ca3cc"/><stop offset="0.998" stop-color="#59a1ca"/></linearGradient><linearGradient id="b9"><stop offset="0.001961" stop-color="#5fa5cd"/><stop offset="0.06863" stop-color="#65a9cf"/><stop offset="0.1235" stop-color="#78b5d5"/><stop offset="0.1471" stop-color="#85bdda"/><stop offset="0.1667" stop-color="#96c7df"/><stop offset="0.1784" stop-color="#9ccae1"/><stop offset="0.1941" stop-color="#aed3e6"/><stop offset="0.198" stop-color="#b6d7e8"/><stop offset="0.202" stop-color="#b8d8e9"/><stop offset="0.2098" stop-color="#c7e0ed"/><stop offset="0.2137" stop-color="#d7e8f1"/><stop offset="0.2176" stop-color="#dae9f2"/><stop offset="0.2216" stop-color="#e6eff4"/><stop offset="0.2255" stop-color="#eaf1f5"/><stop offset="0.2294" stop-color="#f6f7f7"/><stop offset="0.2333" stop-color="#f7f4f3"/><stop offset="0.2373" stop-color="#f9ede5"/><stop offset="0.2412" stop-color="#faeae1"/><stop offset="0.2451" stop-color="#fce2d2"/><stop offset="0.249" stop-color="#fcdecd"/><stop offset="0.2529" stop-color="#fcd3bc"/><stop offset="0.2569" stop-color="#fbcfb8"/><stop offset="0.2608" stop-color="#f9c6ac"/><stop offset="0.2765" stop-color="#f7b596"/><stop offset="0.3" stop-color="#f4a683"/><stop offset="0.3235" stop-color="#ee9677"/><stop offset="0.3784" stop-color="#e58368"/><stop offset="0.4412" stop-color="#e17860"/><stop offset="0.5275" stop-color="#e17860"/><stop offset="0.5824" stop-color="#e48066"/><stop offset="0.6216" stop-color="#e98b6e"/><stop offset="0.6608" stop-color="#f19e7d"/><stop offset="0.6843" stop-color="#f5ac8b"/><stop offset="0.7078" stop-color="#f9c4a9"/><stop offset="0.7118" stop-color="#facbb3"/><stop offset="0.7157" stop-color="#fbceb7"/><stop offset="0.7196" stop-color="#fcdac6"/><stop offset="0.7235" stop-color="#fcdecd"/><stop offset="0.7275" stop-color="#fbe6da"/><stop offset="0.7314" stop-color="#fae9df"/><stop offset="0.7353" stop-color="#f8f1ed"/><stop offset="0.7392" stop-color="#f8f4f2"/><stop offset="0.7431" stop-color="#eef2f4"/><stop offset="0.7471" stop-color="#eaf1f5"/><stop offset="0.751" stop-color="#dfecf3"/><stop offset="0.7549" stop-color="#dbeaf2"/><stop offset="0.7588" stop-color="#cee3ef"/><stop offset="0.7627" stop-color="#cae1ee"/><stop offset="0.7667" stop-color="#bcdbea"/><stop offset="0.7745" stop-color="#b1d5e7"/><stop offset="0.7902" stop-color="#9fcbe2"/><stop offset="0.8098" stop-color="#93c6de"/><stop offset="0.8294" stop-color="#82bbd9"/><stop offset="0.9078" stop-color="#65a9cf"/><stop offset="0.9471" stop-color="#5fa5cd"/><stop offset="0.998" stop-color="#5fa5cd"/></linearGradient><linearGradient id="b10"><stop offset="0.001961" stop-color="#62a7ce"/><stop offset="0.08431" stop-color="#68abd0"/><stop offset="0.1235" stop-color="#72b1d3"/><stop offset="0.1549" stop-color="#7fb9d7"/><stop offset="0.1588" stop-color="#84bcd9"/><stop offset="0.1863" stop-color="#91c5de"/><stop offset="0.2098" stop-color="#a4cee3"/><stop offset="0.2137" stop-color="#acd2e5"/><stop offset="0.2255" stop-color="#b6d7e8"/><stop offset="0.2294" stop-color="#c0dceb"/><stop offset="0.2333" stop-color="#c4deec"/><stop offset="0.2373" stop-color="#d2e6f0"/><stop offset="0.2412" stop-color="#d6e7f1"/><stop offset="0.2451" stop-color="#e1edf3"/><stop offset="0.249" stop-color="#e5eef4"/><stop offset="0.2529" stop-color="#eff3f5"/><stop offset="0.2569" stop-color="#f1f3f4"/><stop offset="0.2608" stop-color="#f8f2ef"/><stop offset="0.2725" stop-color="#fbe5d9"/><stop offset="0.2804" stop-color="#fcdac6"/><stop offset="0.2843" stop-color="#fbceb7"/><stop offset="0.2882" stop-color="#facbb3"/><stop offset="0.2922" stop-color="#f9c4a9"/><stop offset="0.3078" stop-color="#f7b596"/><stop offset="0.3314" stop-color="#f4a683"/><stop offset="0.3549" stop-color="#ef9979"/><stop offset="0.4059" stop-color="#e7876b"/><stop offset="0.4961" stop-color="#e27b62"/><stop offset="0.5824" stop-color="#e48066"/><stop offset="0.6137" stop-color="#e6866a"/><stop offset="0.6765" stop-color="#f09c7b"/><stop offset="0.7078" stop-color="#f6af8e"/><stop offset="0.7235" stop-color="#f8bb9e"/><stop offset="0.7392" stop-color="#fbccb4"/><stop offset="0.7431" stop-color="#fcd7c2"/><stop offset="0.7471" stop-color="#fddbc7"/><stop offset="0.751" stop-color="#fbe3d5"/><stop offset="0.7549" stop-color="#fbe6da"/><stop offset="0.7588" stop-color="#f9ede7"/><stop offset="0.7667" stop-color="#f5f4f4"/><stop offset="0.7706" stop-color="#f3f5f6"/><stop offset="0.7745" stop-color="#e8f0f4"/><stop offset="0.7784" stop-color="#e4eef4"/><stop offset="0.7824" stop-color="#dae9f2"/><stop offset="0.7863" stop-color="#d7e8f1"/><stop offset="0.7902" stop-color="#c9e1ed"/><stop offset="0.8059" stop-color="#b0d4e7"/><stop offset="0.8098" stop-color="#aed3e6"/><stop offset="0.8137" stop-color="#a6cfe4"/><stop offset="0.8255" stop-color="#a0cce2"/><stop offset="0.8294" stop-color="#99c9e0"/><stop offset="0.8451" stop-color="#8ec3dd"/><stop offset="0.8686" stop-color="#81bad8"/><stop offset="0.9157" stop-color="#6fafd2"/><stop offset="0.9627" stop-color="#65a9cf"/><stop offset="0.998" stop-color="#62a7ce"/></linearGradient><linearGradient id="b11"><stop offset="0.001961" stop-color="#68abd0"/><stop offset="0.07647" stop-color="#68abd0"/><stop offset="0.1275" stop-color="#71b0d3"/><stop offset="0.1706" stop-color="#7eb9d7"/><stop offset="0.2176" stop-color="#99c9e0"/><stop offset="0.249" stop-color="#b6d7e8"/><stop offset="0.2569" stop-color="#c2ddec"/><stop offset="0.2608" stop-color="#cfe4ef"/><stop offset="0.2647" stop-color="#d2e6f0"/><stop offset="0.2686" stop-color="#ddebf2"/><stop offset="0.2843" stop-color="#f7f6f6"/><stop offset="0.2882" stop-color="#f8f4f2"/><stop offset="0.2922" stop-color="#f9eee7"/><stop offset="0.2961" stop-color="#faebe2"/><stop offset="0.3" stop-color="#fbe4d6"/><stop offset="0.3039" stop-color="#fce0d1"/><stop offset="0.3078" stop-color="#fdd9c4"/><stop offset="0.3235" stop-color="#f9c2a7"/><stop offset="0.3392" stop-color="#f7b596"/><stop offset="0.3784" stop-color="#f19e7d"/><stop offset="0.4333" stop-color="#e98b6e"/><stop offset="0.4725" stop-color="#e58368"/><stop offset="0.5824" stop-color="#e48066"/><stop offset="0.6451" stop-color="#e98b6e"/><stop offset="0.7157" stop-color="#f4a683"/><stop offset="0.7314" stop-color="#f6af8e"/><stop offset="0.7627" stop-color="#facab1"/><stop offset="0.7667" stop-color="#fcd4be"/><stop offset="0.7706" stop-color="#fcd7c2"/><stop offset="0.7745" stop-color="#fce0d0"/><stop offset="0.7784" stop-color="#fbe3d4"/><stop offset="0.7824" stop-color="#faeae1"/><stop offset="0.7863" stop-color="#f9ede5"/><stop offset="0.7902" stop-color="#f8f4f1"/><stop offset="0.7941" stop-color="#f7f5f4"/><stop offset="0.798" stop-color="#eef2f5"/><stop offset="0.802" stop-color="#ecf2f5"/><stop offset="0.8059" stop-color="#e1edf3"/><stop offset="0.8098" stop-color="#deebf2"/><stop offset="0.8137" stop-color="#d4e6f0"/><stop offset="0.8176" stop-color="#d1e5f0"/><stop offset="0.8216" stop-color="#c3deec"/><stop offset="0.8333" stop-color="#b6d7e8"/><stop offset="0.8373" stop-color="#aed3e6"/><stop offset="0.8529" stop-color="#a0cce2"/><stop offset="0.8922" stop-color="#87beda"/><stop offset="0.9471" stop-color="#72b1d3"/><stop offset="0.9784" stop-color="#6badd1"/><stop offset="0.998" stop-color="#6bacd1"/></linearGradient><linearGradient id="b12"><stop offset="0.001961" stop-color="#71b0d3"/><stop offset="0.03333" stop-color="#6bacd1"/><stop offset="0.08824" stop-color="#6bacd1"/><stop offset="0.1353" stop-color="#71b0d3"/><stop offset="0.1863" stop-color="#7eb9d7"/><stop offset="0.2098" stop-color="#88bfdb"/><stop offset="0.2569" stop-color="#a6cfe4"/><stop offset="0.2804" stop-color="#c1ddec"/><stop offset="0.2843" stop-color="#cce2ef"/><stop offset="0.3078" stop-color="#f3f5f6"/><stop offset="0.3196" stop-color="#f9eee8"/><stop offset="0.3314" stop-color="#fcdfcf"/><stop offset="0.3392" stop-color="#fcd3bc"/><stop offset="0.3471" stop-color="#fac8af"/><stop offset="0.3627" stop-color="#f7b99c"/><stop offset="0.402" stop-color="#f3a481"/><stop offset="0.4412" stop-color="#ec9374"/><stop offset="0.4725" stop-color="#e98b6e"/><stop offset="0.5353" stop-color="#e58368"/><stop offset="0.598" stop-color="#e58368"/><stop offset="0.6686" stop-color="#ea8e70"/><stop offset="0.7392" stop-color="#f5a886"/><stop offset="0.7627" stop-color="#f7b596"/><stop offset="0.7863" stop-color="#facab1"/><stop offset="0.7902" stop-color="#fcd2bc"/><stop offset="0.7941" stop-color="#fcd5bf"/><stop offset="0.798" stop-color="#fcdecd"/><stop offset="0.802" stop-color="#fce0d0"/><stop offset="0.8059" stop-color="#fae8dd"/><stop offset="0.8098" stop-color="#fae9df"/><stop offset="0.8137" stop-color="#f8f0ec"/><stop offset="0.8176" stop-color="#f8f2ef"/><stop offset="0.8216" stop-color="#f2f4f4"/><stop offset="0.8255" stop-color="#f0f4f6"/><stop offset="0.8294" stop-color="#e6eff4"/><stop offset="0.8333" stop-color="#e4eef4"/><stop offset="0.8373" stop-color="#dae9f2"/><stop offset="0.8412" stop-color="#d8e9f1"/><stop offset="0.8451" stop-color="#cce2ee"/><stop offset="0.849" stop-color="#cae1ee"/><stop offset="0.8529" stop-color="#bfdceb"/><stop offset="0.8686" stop-color="#add3e6"/><stop offset="0.8725" stop-color="#acd2e5"/><stop offset="0.8765" stop-color="#a5cfe4"/><stop offset="0.9078" stop-color="#91c4de"/><stop offset="0.9275" stop-color="#8ac0db"/><stop offset="0.9314" stop-color="#84bcd9"/><stop offset="0.998" stop-color="#71b0d3"/></linearGradient><linearGradient id="b13"><stop offset="0.001961" stop-color="#7bb6d6"/><stop offset="0.04118" stop-color="#71b0d3"/><stop offset="0.1039" stop-color="#6eaed2"/><stop offset="0.1627" stop-color="#75b3d4"/><stop offset="0.1902" stop-color="#7eb8d7"/><stop offset="0.202" stop-color="#7eb9d7"/><stop offset="0.2647" stop-color="#9ccae1"/><stop offset="0.2804" stop-color="#a7cfe4"/><stop offset="0.3039" stop-color="#c1ddeb"/><stop offset="0.3157" stop-color="#d8e9f1"/><stop offset="0.3314" stop-color="#eff3f5"/><stop offset="0.3392" stop-color="#f8f4f2"/><stop offset="0.3431" stop-color="#f8f2ee"/><stop offset="0.3627" stop-color="#fddbc7"/><stop offset="0.3784" stop-color="#f9c6ac"/><stop offset="0.3941" stop-color="#f7b99c"/><stop offset="0.4255" stop-color="#f5a886"/><stop offset="0.4412" stop-color="#f2a17f"/><stop offset="0.4804" stop-color="#ec9374"/><stop offset="0.5196" stop-color="#e98b6e"/><stop offset="0.6059" stop-color="#e6866a"/><stop offset="0.6922" stop-color="#eb9172"/><stop offset="0.7549" stop-color="#f4a683"/><stop offset="0.7667" stop-color="#f5ae8d"/><stop offset="0.7784" stop-color="#f6b191"/><stop offset="0.802" stop-color="#f9c2a7"/><stop offset="0.8059" stop-color="#fac8af"/><stop offset="0.8098" stop-color="#facab1"/><stop offset="0.8137" stop-color="#fcd3bc"/><stop offset="0.8176" stop-color="#fcd5bf"/><stop offset="0.8216" stop-color="#fcddcc"/><stop offset="0.8255" stop-color="#fcdfcf"/><stop offset="0.8294" stop-color="#fae7db"/><stop offset="0.8333" stop-color="#fae8de"/><stop offset="0.8373" stop-color="#f9efe9"/><stop offset="0.8412" stop-color="#f9f0eb"/><stop offset="0.8451" stop-color="#f5f5f5"/><stop offset="0.849" stop-color="#f5f6f7"/><stop offset="0.8529" stop-color="#ecf2f5"/><stop offset="0.8569" stop-color="#eaf1f5"/><stop offset="0.8608" stop-color="#e0ecf3"/><stop offset="0.8647" stop-color="#deebf2"/><stop offset="0.8686" stop-color="#d4e6f1"/><stop offset="0.8725" stop-color="#d2e6f0"/><stop offset="0.8765" stop-color="#c4dfec"/><stop offset="0.8804" stop-color="#c2ddec"/><stop offset="0.8843" stop-color="#b9d9e9"/><stop offset="0.8961" stop-color="#b1d5e7"/><stop offset="0.9" stop-color="#aad1e5"/><stop offset="0.9549" stop-color="#8ac0db"/><stop offset="0.9863" stop-color="#7eb8d7"/><stop offset="0.998" stop-color="#7eb8d7"/></linearGradient><linearGradient id="b14"><stop offset="0.001961" stop-color="#84bcd9"/><stop offset="0.07255" stop-color="#75b2d4"/><stop offset="0.1627" stop-color="#75b3d4"/><stop offset="0.2333" stop-color="#85bdd9"/><stop offset="0.2804" stop-color="#9ac9e0"/><stop offset="0.3157" stop-color="#b3d6e8"/><stop offset="0.3275" stop-color="#c1ddec"/><stop offset="0.3392" stop-color="#d7e8f1"/><stop offset="0.3627" stop-color="#f7f6f6"/><stop offset="0.3863" stop-color="#fcdfcf"/><stop offset="0.402" stop-color="#facab1"/><stop offset="0.4176" stop-color="#f8bda1"/><stop offset="0.4333" stop-color="#f6b394"/><stop offset="0.4647" stop-color="#f4a683"/><stop offset="0.5196" stop-color="#ec9374"/><stop offset="0.551" stop-color="#ea8e70"/><stop offset="0.6608" stop-color="#e98b6e"/><stop offset="0.7157" stop-color="#ec9374"/><stop offset="0.7706" stop-color="#f4a683"/><stop offset="0.7941" stop-color="#f6af8e"/><stop offset="0.8098" stop-color="#f7b799"/><stop offset="0.8137" stop-color="#f8bca0"/><stop offset="0.8333" stop-color="#facab1"/><stop offset="0.8373" stop-color="#fbd1ba"/><stop offset="0.8412" stop-color="#fcd3bc"/><stop offset="0.8451" stop-color="#fcdcca"/><stop offset="0.849" stop-color="#fcdecd"/><stop offset="0.8529" stop-color="#fbe6d9"/><stop offset="0.8569" stop-color="#fae7dc"/><stop offset="0.8608" stop-color="#f9eee7"/><stop offset="0.8647" stop-color="#f9efe9"/><stop offset="0.8686" stop-color="#f7f5f4"/><stop offset="0.8725" stop-color="#f7f6f6"/><stop offset="0.8765" stop-color="#eff3f5"/><stop offset="0.8804" stop-color="#edf2f5"/><stop offset="0.8843" stop-color="#e4eef4"/><stop offset="0.8882" stop-color="#e3edf3"/><stop offset="0.8922" stop-color="#dae9f2"/><stop offset="0.8961" stop-color="#d8e9f1"/><stop offset="0.9" stop-color="#cde3ef"/><stop offset="0.9039" stop-color="#cce2ef"/><stop offset="0.9078" stop-color="#c1ddeb"/><stop offset="0.9118" stop-color="#c0dceb"/><stop offset="0.9157" stop-color="#b7d8e8"/><stop offset="0.9196" stop-color="#b6d7e8"/><stop offset="0.9235" stop-color="#afd4e6"/><stop offset="0.9353" stop-color="#a9d1e5"/><stop offset="0.9471" stop-color="#9dcbe1"/><stop offset="0.998" stop-color="#8ac0db"/></linearGradient><linearGradient id="b15"><stop offset="0.001961" stop-color="#93c6de"/><stop offset="0.04902" stop-color="#81bad8"/><stop offset="0.1118" stop-color="#78b4d5"/><stop offset="0.1784" stop-color="#78b5d5"/><stop offset="0.2294" stop-color="#81bad8"/><stop offset="0.2725" stop-color="#8ec3dd"/><stop offset="0.2843" stop-color="#96c7df"/><stop offset="0.3039" stop-color="#9ccae1"/><stop offset="0.3275" stop-color="#abd2e5"/><stop offset="0.3431" stop-color="#b8d8e9"/><stop offset="0.3588" stop-color="#cee4ef"/><stop offset="0.3627" stop-color="#d7e8f1"/><stop offset="0.3863" stop-color="#f5f6f7"/><stop offset="0.4137" stop-color="#fce0cf"/><stop offset="0.4255" stop-color="#fbceb7"/><stop offset="0.449" stop-color="#f8bb9e"/><stop offset="0.4961" stop-color="#f4a683"/><stop offset="0.5667" stop-color="#ec9374"/><stop offset="0.6137" stop-color="#ea8e70"/><stop offset="0.6765" stop-color="#ea8e70"/><stop offset="0.7471" stop-color="#ef9979"/><stop offset="0.7863" stop-color="#f4a683"/><stop offset="0.8176" stop-color="#f6b191"/><stop offset="0.8412" stop-color="#f8bda1"/><stop offset="0.8451" stop-color="#f9c3a8"/><stop offset="0.8569" stop-color="#facab1"/><stop offset="0.8608" stop-color="#fcd3bd"/><stop offset="0.8647" stop-color="#fcd5bf"/><stop offset="0.8686" stop-color="#fcddcb"/><stop offset="0.8725" stop-color="#fcdecd"/><stop offset="0.8765" stop-color="#fbe5d8"/><stop offset="0.8804" stop-color="#fbe6da"/><stop offset="0.8843" stop-color="#f9ede5"/><stop offset="0.8882" stop-color="#f9eee7"/><stop offset="0.8922" stop-color="#f8f4f1"/><stop offset="0.8961" stop-color="#f8f4f2"/><stop offset="0.9" stop-color="#f1f4f5"/><stop offset="0.9039" stop-color="#f0f4f6"/><stop offset="0.9078" stop-color="#e7eff4"/><stop offset="0.9118" stop-color="#e6eff4"/><stop offset="0.9157" stop-color="#deebf2"/><stop offset="0.9196" stop-color="#ddebf2"/><stop offset="0.9235" stop-color="#d3e6f0"/><stop offset="0.9275" stop-color="#d2e6f0"/><stop offset="0.9314" stop-color="#c6dfed"/><stop offset="0.9353" stop-color="#c5dfec"/><stop offset="0.9392" stop-color="#bbdaea"/><stop offset="0.9431" stop-color="#bbdaea"/><stop offset="0.9549" stop-color="#acd2e6"/><stop offset="0.9784" stop-color="#9dcbe1"/><stop offset="0.998" stop-color="#96c7df"/></linearGradient><linearGradient id="b16"><stop offset="0.001961" stop-color="#a0cce2"/><stop offset="0.05686" stop-color="#8ac0db"/><stop offset="0.06863" stop-color="#8ac0db"/><stop offset="0.08039" stop-color="#84bcd9"/><stop offset="0.1118" stop-color="#7eb8d7"/><stop offset="0.1863" stop-color="#7bb7d6"/><stop offset="0.2529" stop-color="#84bcd9"/><stop offset="0.3196" stop-color="#9bcae1"/><stop offset="0.351" stop-color="#aed3e6"/><stop offset="0.3745" stop-color="#c4dfec"/><stop offset="0.3863" stop-color="#d7e8f1"/><stop offset="0.4098" stop-color="#f3f5f6"/><stop offset="0.4216" stop-color="#f9f0eb"/><stop offset="0.4569" stop-color="#fbccb4"/><stop offset="0.4804" stop-color="#f8bb9e"/><stop offset="0.5118" stop-color="#f5ac8b"/><stop offset="0.5667" stop-color="#f09c7b"/><stop offset="0.6137" stop-color="#ec9374"/><stop offset="0.6922" stop-color="#eb9172"/><stop offset="0.7706" stop-color="#f09c7b"/><stop offset="0.8255" stop-color="#f5ac8b"/><stop offset="0.8294" stop-color="#f6b090"/><stop offset="0.8569" stop-color="#f8bb9e"/><stop offset="0.8725" stop-color="#f9c6ac"/><stop offset="0.8765" stop-color="#facbb3"/><stop offset="0.8804" stop-color="#fbccb4"/><stop offset="0.8843" stop-color="#fcd6c0"/><stop offset="0.8882" stop-color="#fcd7c2"/><stop offset="0.8922" stop-color="#fcdecd"/><stop offset="0.8961" stop-color="#fcdfcf"/><stop offset="0.9" stop-color="#fbe5d9"/><stop offset="0.9039" stop-color="#fbe6da"/><stop offset="0.9078" stop-color="#f9ece4"/><stop offset="0.9118" stop-color="#f9ede5"/><stop offset="0.9157" stop-color="#f8f3ef"/><stop offset="0.9196" stop-color="#f8f3f0"/><stop offset="0.9235" stop-color="#f4f5f6"/><stop offset="0.9275" stop-color="#f3f5f6"/><stop offset="0.9314" stop-color="#eaf1f5"/><stop offset="0.9353" stop-color="#e9f0f4"/><stop offset="0.9392" stop-color="#e0ecf3"/><stop offset="0.9431" stop-color="#e0ecf3"/><stop offset="0.9471" stop-color="#d7e8f1"/><stop offset="0.951" stop-color="#d7e8f1"/><stop offset="0.9549" stop-color="#cde3ef"/><stop offset="0.9588" stop-color="#cce2ef"/><stop offset="0.9627" stop-color="#c0dceb"/><stop offset="0.9667" stop-color="#c0dceb"/><stop offset="0.9784" stop-color="#b1d5e7"/><stop offset="0.998" stop-color="#a7d0e4"/></linearGradient><linearGradient id="b17"><stop offset="0.001961" stop-color="#b3d6e8"/><stop offset="0.03333" stop-color="#a0cce2"/><stop offset="0.09608" stop-color="#8ac0db"/><stop offset="0.1431" stop-color="#81bad8"/><stop offset="0.2373" stop-color="#81bad8"/><stop offset="0.2882" stop-color="#8bc1dc"/><stop offset="0.351" stop-color="#a1cde2"/><stop offset="0.3824" stop-color="#b6d7e8"/><stop offset="0.4333" stop-color="#f2f5f6"/><stop offset="0.4451" stop-color="#f8f1ed"/><stop offset="0.4725" stop-color="#fddbc7"/><stop offset="0.4882" stop-color="#fac8af"/><stop offset="0.5078" stop-color="#f8bb9e"/><stop offset="0.5431" stop-color="#f5ac8b"/><stop offset="0.5824" stop-color="#f2a17f"/><stop offset="0.6451" stop-color="#ee9677"/><stop offset="0.7392" stop-color="#ee9677"/><stop offset="0.802" stop-color="#f2a17f"/><stop offset="0.8647" stop-color="#f7b596"/><stop offset="0.8882" stop-color="#f9c2a7"/><stop offset="0.8922" stop-color="#fac7ae"/><stop offset="0.9039" stop-color="#fbceb7"/><stop offset="0.9078" stop-color="#fcd8c3"/><stop offset="0.9118" stop-color="#fdd9c4"/><stop offset="0.9157" stop-color="#fcdfce"/><stop offset="0.9196" stop-color="#fcdfcf"/><stop offset="0.9235" stop-color="#fbe5d9"/><stop offset="0.9275" stop-color="#fbe6da"/><stop offset="0.9314" stop-color="#f9ece4"/><stop offset="0.9353" stop-color="#f9ede5"/><stop offset="0.9392" stop-color="#f8f3f0"/><stop offset="0.951" stop-color="#f5f6f7"/><stop offset="0.9549" stop-color="#ecf2f5"/><stop offset="0.9588" stop-color="#ecf2f5"/><stop offset="0.9627" stop-color="#e3eef3"/><stop offset="0.9667" stop-color="#e3edf3"/><stop offset="0.9706" stop-color="#dae9f2"/><stop offset="0.9745" stop-color="#dae9f2"/><stop offset="0.9784" stop-color="#d1e5f0"/><stop offset="0.9824" stop-color="#d1e5f0"/><stop offset="0.9863" stop-color="#c5dfed"/><stop offset="0.9902" stop-color="#c5dfec"/><stop offset="0.9941" stop-color="#bddbea"/><stop offset="0.998" stop-color="#bddbea"/></linearGradient><linearGradient id="b18"><stop offset="0.001961" stop-color="#d1e5f0"/><stop offset="0.005882" stop-color="#d1e5f0"/><stop offset="0.009804" stop-color="#c5dfec"/><stop offset="0.01373" stop-color="#c5dfec"/><stop offset="0.01765" stop-color="#bddbea"/><stop offset="0.02157" stop-color="#bddbea"/><stop offset="0.02549" stop-color="#b6d7e8"/><stop offset="0.04902" stop-color="#a7d0e4"/><stop offset="0.1118" stop-color="#90c4dd"/><stop offset="0.1745" stop-color="#84bcd9"/><stop offset="0.2529" stop-color="#84bcd9"/><stop offset="0.3196" stop-color="#91c5de"/><stop offset="0.3824" stop-color="#a9d1e5"/><stop offset="0.4137" stop-color="#c0ddeb"/><stop offset="0.4255" stop-color="#d1e5f0"/><stop offset="0.4569" stop-color="#f2f5f6"/><stop offset="0.4686" stop-color="#f8f2ee"/><stop offset="0.4961" stop-color="#fdddcb"/><stop offset="0.5196" stop-color="#f9c6ac"/><stop offset="0.551" stop-color="#f7b596"/><stop offset="0.5863" stop-color="#f5a987"/><stop offset="0.6216" stop-color="#f2a17f"/><stop offset="0.6765" stop-color="#ef9979"/><stop offset="0.7549" stop-color="#ef9979"/><stop offset="0.8333" stop-color="#f4a683"/><stop offset="0.8882" stop-color="#f7b799"/><stop offset="0.9078" stop-color="#f9c3a9"/><stop offset="0.9118" stop-color="#f9c4a9"/><stop offset="0.9157" stop-color="#facab1"/><stop offset="0.9196" stop-color="#facab1"/><stop offset="0.9235" stop-color="#fbd0b9"/><stop offset="0.9275" stop-color="#fbd0b9"/><stop offset="0.9314" stop-color="#fddac6"/><stop offset="0.9353" stop-color="#fddbc7"/><stop offset="0.9392" stop-color="#fce0d0"/><stop offset="0.9431" stop-color="#fce0d0"/><stop offset="0.9471" stop-color="#fae7db"/><stop offset="0.951" stop-color="#fae7dc"/><stop offset="0.9549" stop-color="#f9ece5"/><stop offset="0.9588" stop-color="#f9ede5"/><stop offset="0.9627" stop-color="#f8f2ee"/><stop offset="0.9667" stop-color="#f8f2ef"/><stop offset="0.9706" stop-color="#f5f6f6"/><stop offset="0.9745" stop-color="#f5f6f7"/><stop offset="0.9784" stop-color="#edf2f5"/><stop offset="0.9824" stop-color="#edf2f5"/><stop offset="0.9863" stop-color="#e5eef4"/><stop offset="0.9902" stop-color="#e4eef4"/><stop offset="0.9941" stop-color="#ddebf2"/><stop offset="0.998" stop-color="#ddebf2"/></linearGradient><linearGradient id="b19"><stop offset="0.001961" stop-color="#ecf2f5"/><stop offset="0.005882" stop-color="#ecf2f5"/><stop offset="0.009804" stop-color="#e3edf3"/><stop offset="0.01373" stop-color="#e3edf3"/><stop offset="0.01765" stop-color="#dbeaf2"/><stop offset="0.02157" stop-color="#dbeaf2"/><stop offset="0.02549" stop-color="#d4e6f1"/><stop offset="0.02941" stop-color="#d4e6f0"/><stop offset="0.03333" stop-color="#cae1ee"/><stop offset="0.03725" stop-color="#c9e1ee"/><stop offset="0.04118" stop-color="#c0dceb"/><stop offset="0.05294" stop-color="#badaea"/><stop offset="0.05686" stop-color="#b3d6e8"/><stop offset="0.09608" stop-color="#a0cce2"/><stop offset="0.1824" stop-color="#8ac0db"/><stop offset="0.2608" stop-color="#87beda"/><stop offset="0.3392" stop-color="#93c6de"/><stop offset="0.402" stop-color="#a9d1e5"/><stop offset="0.4294" stop-color="#bbdaea"/><stop offset="0.4529" stop-color="#d7e8f1"/><stop offset="0.4804" stop-color="#f2f5f6"/><stop offset="0.4882" stop-color="#f7f5f4"/><stop offset="0.5275" stop-color="#fdd9c4"/><stop offset="0.5353" stop-color="#fbceb7"/><stop offset="0.5549" stop-color="#f9c1a6"/><stop offset="0.5824" stop-color="#f7b596"/><stop offset="0.6373" stop-color="#f4a683"/><stop offset="0.6843" stop-color="#f19e7d"/><stop offset="0.7706" stop-color="#f09c7b"/><stop offset="0.8333" stop-color="#f3a481"/><stop offset="0.8725" stop-color="#f5ac8b"/><stop offset="0.9196" stop-color="#f8bda1"/><stop offset="0.9275" stop-color="#f9c2a7"/><stop offset="0.9314" stop-color="#fac7ae"/><stop offset="0.9431" stop-color="#fbccb4"/><stop offset="0.9471" stop-color="#fcd2bc"/><stop offset="0.951" stop-color="#fcd3bc"/><stop offset="0.9549" stop-color="#fddcc8"/><stop offset="0.9588" stop-color="#fddcc9"/><stop offset="0.9627" stop-color="#fce1d2"/><stop offset="0.9667" stop-color="#fce2d2"/><stop offset="0.9706" stop-color="#fae7db"/><stop offset="0.9745" stop-color="#fae7dc"/><stop offset="0.9784" stop-color="#f9ece5"/><stop offset="0.9824" stop-color="#f9ede5"/><stop offset="0.9863" stop-color="#f8f2ee"/><stop offset="0.9902" stop-color="#f8f2ef"/><stop offset="0.9941" stop-color="#f5f6f7"/><stop offset="0.998" stop-color="#f5f6f7"/></linearGradient><linearGradient id="b20"><stop offset="0.001961" stop-color="#f9f0eb"/><stop offset="0.01373" stop-color="#f8f4f2"/><stop offset="0.02157" stop-color="#f3f5f6"/><stop offset="0.02549" stop-color="#ecf2f5"/><stop offset="0.02941" stop-color="#ecf2f5"/><stop offset="0.03333" stop-color="#e4eef4"/><stop offset="0.03725" stop-color="#e4eef4"/><stop offset="0.04118" stop-color="#ddebf2"/><stop offset="0.0451" stop-color="#ddebf2"/><stop offset="0.05686" stop-color="#cfe4ef"/><stop offset="0.06078" stop-color="#cee3ef"/><stop offset="0.06471" stop-color="#c5dfec"/><stop offset="0.06863" stop-color="#c4deec"/><stop offset="0.07255" stop-color="#bddbea"/><stop offset="0.1039" stop-color="#a9d1e5"/><stop offset="0.1353" stop-color="#9dcbe1"/><stop offset="0.2137" stop-color="#8dc2dc"/><stop offset="0.2686" stop-color="#8ac0db"/><stop offset="0.3314" stop-color="#90c4dd"/><stop offset="0.402" stop-color="#a2cde3"/><stop offset="0.4373" stop-color="#b3d6e7"/><stop offset="0.4569" stop-color="#c2ddec"/><stop offset="0.4725" stop-color="#d5e7f1"/><stop offset="0.5039" stop-color="#f2f5f6"/><stop offset="0.5118" stop-color="#f7f5f4"/><stop offset="0.551" stop-color="#fddbc7"/><stop offset="0.5667" stop-color="#fbccb4"/><stop offset="0.6137" stop-color="#f7b596"/><stop offset="0.6765" stop-color="#f4a683"/><stop offset="0.7706" stop-color="#f19e7d"/><stop offset="0.8647" stop-color="#f5a886"/><stop offset="0.9275" stop-color="#f7b99c"/><stop offset="0.9471" stop-color="#f9c6ac"/><stop offset="0.9588" stop-color="#facab1"/><stop offset="0.9627" stop-color="#fbceb7"/><stop offset="0.9667" stop-color="#fbceb7"/><stop offset="0.9706" stop-color="#fcd6c1"/><stop offset="0.9745" stop-color="#fcd7c2"/><stop offset="0.9784" stop-color="#fcdecc"/><stop offset="0.9824" stop-color="#fcdecd"/><stop offset="0.9863" stop-color="#fbe4d6"/><stop offset="0.9902" stop-color="#fbe4d6"/><stop offset="0.9941" stop-color="#fae8de"/><stop offset="0.998" stop-color="#fae8de"/></linearGradient><linearGradient id="b21"><stop offset="0.001961" stop-color="#fce2d2"/><stop offset="0.005882" stop-color="#fce2d2"/><stop offset="0.009804" stop-color="#fae7dc"/><stop offset="0.02157" stop-color="#f9ece3"/><stop offset="0.02549" stop-color="#f9f0eb"/><stop offset="0.02941" stop-color="#f8f0eb"/><stop offset="0.03333" stop-color="#f7f5f4"/><stop offset="0.04118" stop-color="#f3f5f6"/><stop offset="0.0451" stop-color="#f3f5f6"/><stop offset="0.04902" stop-color="#ecf2f5"/><stop offset="0.06078" stop-color="#e5eff4"/><stop offset="0.06471" stop-color="#deebf2"/><stop offset="0.07647" stop-color="#d8e8f1"/><stop offset="0.08039" stop-color="#d1e5f0"/><stop offset="0.08431" stop-color="#d0e5f0"/><stop offset="0.08824" stop-color="#c7e0ed"/><stop offset="0.09608" stop-color="#c0dceb"/><stop offset="0.1196" stop-color="#b1d5e7"/><stop offset="0.1314" stop-color="#aed3e6"/><stop offset="0.1353" stop-color="#a9d1e5"/><stop offset="0.1902" stop-color="#98c8e0"/><stop offset="0.2216" stop-color="#93c6de"/><stop offset="0.3235" stop-color="#90c4dd"/><stop offset="0.3784" stop-color="#98c8e0"/><stop offset="0.4333" stop-color="#a9d1e5"/><stop offset="0.4765" stop-color="#c3deec"/><stop offset="0.4922" stop-color="#d5e7f1"/><stop offset="0.5275" stop-color="#f3f5f6"/><stop offset="0.5353" stop-color="#f7f5f4"/><stop offset="0.5745" stop-color="#fdddcb"/><stop offset="0.5902" stop-color="#fbceb7"/><stop offset="0.6176" stop-color="#f8bfa3"/><stop offset="0.6647" stop-color="#f6af8f"/><stop offset="0.7471" stop-color="#f3a481"/><stop offset="0.8255" stop-color="#f3a481"/><stop offset="0.8961" stop-color="#f5ac8b"/><stop offset="0.9588" stop-color="#f8bfa4"/><stop offset="0.9627" stop-color="#f9c4a9"/><stop offset="0.9824" stop-color="#fbccb4"/><stop offset="0.9863" stop-color="#fcd2bc"/><stop offset="0.9902" stop-color="#fcd3bc"/><stop offset="0.9941" stop-color="#fddbc7"/><stop offset="0.998" stop-color="#fddbc7"/></linearGradient><linearGradient id="b22"><stop offset="0.001961" stop-color="#fcd3bc"/><stop offset="0.005882" stop-color="#fcd3bc"/><stop offset="0.009804" stop-color="#fddbc7"/><stop offset="0.01373" stop-color="#fddbc7"/><stop offset="0.01765" stop-color="#fcdfcf"/><stop offset="0.02941" stop-color="#fbe4d6"/><stop offset="0.03333" stop-color="#fae8de"/><stop offset="0.03725" stop-color="#fae8de"/><stop offset="0.04118" stop-color="#f9ede5"/><stop offset="0.0451" stop-color="#f9ede5"/><stop offset="0.04902" stop-color="#f8f1ed"/><stop offset="0.06078" stop-color="#f7f5f4"/><stop offset="0.06471" stop-color="#f3f5f6"/><stop offset="0.06863" stop-color="#f3f5f6"/><stop offset="0.07255" stop-color="#ecf2f5"/><stop offset="0.1078" stop-color="#d3e6f0"/><stop offset="0.1118" stop-color="#cae1ee"/><stop offset="0.1157" stop-color="#c9e1ee"/><stop offset="0.1196" stop-color="#c2ddec"/><stop offset="0.1431" stop-color="#b3d6e8"/><stop offset="0.2059" stop-color="#9dcbe1"/><stop offset="0.2765" stop-color="#93c6de"/><stop offset="0.3392" stop-color="#93c6de"/><stop offset="0.4098" stop-color="#9dcbe1"/><stop offset="0.449" stop-color="#a9d1e5"/><stop offset="0.4882" stop-color="#bddbea"/><stop offset="0.5314" stop-color="#e5eef4"/><stop offset="0.551" stop-color="#f3f5f6"/><stop offset="0.5588" stop-color="#f8f4f2"/><stop offset="0.602" stop-color="#fddbc8"/><stop offset="0.6137" stop-color="#fbd0b9"/><stop offset="0.649" stop-color="#f8bea2"/><stop offset="0.7078" stop-color="#f6af8e"/><stop offset="0.7784" stop-color="#f4a683"/><stop offset="0.8412" stop-color="#f4a683"/><stop offset="0.9039" stop-color="#f5ac8b"/><stop offset="0.951" stop-color="#f7b799"/><stop offset="0.9549" stop-color="#f8bb9e"/><stop offset="0.9745" stop-color="#f8bfa4"/><stop offset="0.9863" stop-color="#fac8af"/><stop offset="0.998" stop-color="#fbccb4"/></linearGradient><linearGradient id="b23"><stop offset="0.001961" stop-color="#fac8af"/><stop offset="0.02157" stop-color="#fbd1ba"/><stop offset="0.02549" stop-color="#fdd9c4"/><stop offset="0.03725" stop-color="#fcddcb"/><stop offset="0.04902" stop-color="#fbe6da"/><stop offset="0.06078" stop-color="#faeae0"/><stop offset="0.07255" stop-color="#f8f2ef"/><stop offset="0.07647" stop-color="#f8f2ef"/><stop offset="0.08039" stop-color="#f7f6f6"/><stop offset="0.08431" stop-color="#f7f6f6"/><stop offset="0.1196" stop-color="#dae9f2"/><stop offset="0.1314" stop-color="#d5e7f1"/><stop offset="0.1392" stop-color="#cde3ef"/><stop offset="0.1431" stop-color="#c5dfec"/><stop offset="0.1824" stop-color="#aed3e6"/><stop offset="0.2451" stop-color="#9dcbe1"/><stop offset="0.3157" stop-color="#96c7df"/><stop offset="0.402" stop-color="#9bc9e0"/><stop offset="0.4882" stop-color="#b3d6e8"/><stop offset="0.5118" stop-color="#c2ddec"/><stop offset="0.5275" stop-color="#d2e6f0"/><stop offset="0.5745" stop-color="#f5f6f7"/><stop offset="0.5824" stop-color="#f8f4f2"/><stop offset="0.6216" stop-color="#fcdfcf"/><stop offset="0.6373" stop-color="#fcd3bc"/><stop offset="0.6569" stop-color="#fac7ae"/><stop offset="0.7196" stop-color="#f6b394"/><stop offset="0.7627" stop-color="#f5ac8b"/><stop offset="0.8176" stop-color="#f5a886"/><stop offset="0.9039" stop-color="#f5ac8b"/><stop offset="0.9353" stop-color="#f6b191"/><stop offset="0.9902" stop-color="#f8bfa4"/><stop offset="0.998" stop-color="#f9c4a9"/></linearGradient><linearGradient id="b24"><stop offset="0.001961" stop-color="#f9c2a7"/><stop offset="0.01373" stop-color="#f9c4a9"/><stop offset="0.01765" stop-color="#fac8af"/><stop offset="0.03725" stop-color="#fbcfb7"/><stop offset="0.04118" stop-color="#fcd5bf"/><stop offset="0.0451" stop-color="#fcd5bf"/><stop offset="0.04902" stop-color="#fddcc9"/><stop offset="0.05294" stop-color="#fddcc9"/><stop offset="0.05686" stop-color="#fcdfcf"/><stop offset="0.06078" stop-color="#fce0cf"/><stop offset="0.06471" stop-color="#fbe4d6"/><stop offset="0.07647" stop-color="#fae7dc"/><stop offset="0.08039" stop-color="#f9ebe3"/><stop offset="0.09216" stop-color="#f9efea"/><stop offset="0.1039" stop-color="#f6f7f7"/><stop offset="0.1471" stop-color="#dbeaf2"/><stop offset="0.1667" stop-color="#c7e0ed"/><stop offset="0.198" stop-color="#b3d6e8"/><stop offset="0.2529" stop-color="#a2cde3"/><stop offset="0.3314" stop-color="#98c8e0"/><stop offset="0.4176" stop-color="#9dcbe1"/><stop offset="0.449" stop-color="#a2cde3"/><stop offset="0.5039" stop-color="#b3d6e8"/><stop offset="0.5314" stop-color="#c2deec"/><stop offset="0.5431" stop-color="#cfe4ef"/><stop offset="0.598" stop-color="#f6f7f7"/><stop offset="0.6059" stop-color="#f8f3f0"/><stop offset="0.6529" stop-color="#fddcc9"/><stop offset="0.6647" stop-color="#fbd0b9"/><stop offset="0.6725" stop-color="#facbb3"/><stop offset="0.7196" stop-color="#f7ba9c"/><stop offset="0.7314" stop-color="#f7b99c"/><stop offset="0.751" stop-color="#f6b394"/><stop offset="0.802" stop-color="#f5ac8b"/><stop offset="0.8725" stop-color="#f5aa89"/><stop offset="0.9275" stop-color="#f6af8e"/><stop offset="0.9667" stop-color="#f7b596"/><stop offset="0.998" stop-color="#f8bda1"/></linearGradient><linearGradient id="b25"><stop offset="0.001961" stop-color="#f8bda1"/><stop offset="0.02941" stop-color="#f9c4a9"/><stop offset="0.03333" stop-color="#fac8af"/><stop offset="0.05294" stop-color="#fbcfb7"/><stop offset="0.07255" stop-color="#fdddcb"/><stop offset="0.07647" stop-color="#fcdecb"/><stop offset="0.08039" stop-color="#fce2d2"/><stop offset="0.1275" stop-color="#f6f7f7"/><stop offset="0.1745" stop-color="#d5e7f1"/><stop offset="0.1784" stop-color="#d5e7f1"/><stop offset="0.1863" stop-color="#cfe4ef"/><stop offset="0.1902" stop-color="#c7e0ed"/><stop offset="0.2137" stop-color="#b8d8e9"/><stop offset="0.2529" stop-color="#a9d1e5"/><stop offset="0.2647" stop-color="#a9d1e5"/><stop offset="0.2843" stop-color="#a2cde3"/><stop offset="0.3471" stop-color="#9bc9e0"/><stop offset="0.4255" stop-color="#9dcbe1"/><stop offset="0.4725" stop-color="#a5cee3"/><stop offset="0.5196" stop-color="#b3d6e8"/><stop offset="0.5549" stop-color="#c7e0ed"/><stop offset="0.6098" stop-color="#f0f4f6"/><stop offset="0.6255" stop-color="#f8f4f3"/><stop offset="0.6765" stop-color="#fddcc9"/><stop offset="0.7039" stop-color="#fac9b0"/><stop offset="0.751" stop-color="#f7ba9c"/><stop offset="0.7824" stop-color="#f6b394"/><stop offset="0.849" stop-color="#f5ac8b"/><stop offset="0.9039" stop-color="#f5ac8b"/><stop offset="0.9078" stop-color="#f6ae8e"/><stop offset="0.9353" stop-color="#f6af8e"/><stop offset="0.998" stop-color="#f7b99c"/></linearGradient><linearGradient id="b26"><stop offset="0.001961" stop-color="#f7b99c"/><stop offset="0.0451" stop-color="#f9c4a9"/><stop offset="0.06863" stop-color="#fbccb4"/><stop offset="0.07647" stop-color="#fbd1ba"/><stop offset="0.08039" stop-color="#fcd7c2"/><stop offset="0.08431" stop-color="#fcd7c2"/><stop offset="0.08824" stop-color="#fddcc9"/><stop offset="0.09216" stop-color="#fddcc9"/><stop offset="0.09608" stop-color="#fcdfcf"/><stop offset="0.1" stop-color="#fce0cf"/><stop offset="0.1039" stop-color="#fbe4d6"/><stop offset="0.1314" stop-color="#f9eee8"/><stop offset="0.1353" stop-color="#f8f2ef"/><stop offset="0.151" stop-color="#f5f6f7"/><stop offset="0.202" stop-color="#d5e7f1"/><stop offset="0.2216" stop-color="#c2ddec"/><stop offset="0.2451" stop-color="#b6d7e8"/><stop offset="0.2922" stop-color="#a7d0e4"/><stop offset="0.3627" stop-color="#9dcbe1"/><stop offset="0.4255" stop-color="#9dcbe1"/><stop offset="0.5039" stop-color="#a9d1e5"/><stop offset="0.5588" stop-color="#bddbea"/><stop offset="0.5745" stop-color="#c7e0ed"/><stop offset="0.5863" stop-color="#d4e6f0"/><stop offset="0.6373" stop-color="#f3f5f6"/><stop offset="0.6529" stop-color="#f8f2ef"/><stop offset="0.6843" stop-color="#fbe4d6"/><stop offset="0.7196" stop-color="#fbcdb6"/><stop offset="0.7824" stop-color="#f7ba9c"/><stop offset="0.8647" stop-color="#f6af8e"/><stop offset="0.9275" stop-color="#f6af8e"/><stop offset="0.998" stop-color="#f7b799"/></linearGradient><linearGradient id="b27"><stop offset="0.001961" stop-color="#f7b799"/><stop offset="0.02941" stop-color="#f8bb9e"/><stop offset="0.06863" stop-color="#fac6ac"/><stop offset="0.07255" stop-color="#facab1"/><stop offset="0.09216" stop-color="#fbd1ba"/><stop offset="0.1078" stop-color="#fddbc8"/><stop offset="0.1667" stop-color="#f7f6f6"/><stop offset="0.2098" stop-color="#dfebf3"/><stop offset="0.2608" stop-color="#bbdaea"/><stop offset="0.3235" stop-color="#a7d0e4"/><stop offset="0.3784" stop-color="#a0cce2"/><stop offset="0.449" stop-color="#a0cce2"/><stop offset="0.5196" stop-color="#a9d1e5"/><stop offset="0.5745" stop-color="#bddbea"/><stop offset="0.602" stop-color="#d2e5f0"/><stop offset="0.6608" stop-color="#f5f6f7"/><stop offset="0.7235" stop-color="#fddcc9"/><stop offset="0.7392" stop-color="#fbd0b9"/><stop offset="0.798" stop-color="#f8bc9f"/><stop offset="0.8765" stop-color="#f6b191"/><stop offset="0.951" stop-color="#f6b191"/><stop offset="0.998" stop-color="#f7b596"/></linearGradient><linearGradient id="b28"><stop offset="0.001961" stop-color="#f7b799"/><stop offset="0.05294" stop-color="#f8bda1"/><stop offset="0.08431" stop-color="#fac6ac"/><stop offset="0.08824" stop-color="#facab1"/><stop offset="0.1078" stop-color="#fbd1ba"/><stop offset="0.1157" stop-color="#fcd5c0"/><stop offset="0.1196" stop-color="#fddbc7"/><stop offset="0.1392" stop-color="#fce1d1"/><stop offset="0.1902" stop-color="#f6f7f7"/><stop offset="0.2922" stop-color="#b8d8e9"/><stop offset="0.3314" stop-color="#acd2e5"/><stop offset="0.402" stop-color="#a2cde3"/><stop offset="0.4725" stop-color="#a2cde3"/><stop offset="0.551" stop-color="#aed3e6"/><stop offset="0.6059" stop-color="#c5dfec"/><stop offset="0.6176" stop-color="#d0e4f0"/><stop offset="0.6843" stop-color="#f7f6f6"/><stop offset="0.7431" stop-color="#fdddca"/><stop offset="0.7745" stop-color="#facbb3"/><stop offset="0.8294" stop-color="#f8bc9f"/><stop offset="0.9" stop-color="#f6b394"/><stop offset="0.998" stop-color="#f7b596"/></linearGradient><linearGradient id="b29"><stop offset="0.001961" stop-color="#f7b799"/><stop offset="0.04902" stop-color="#f8bb9e"/><stop offset="0.1157" stop-color="#fbcdb5"/><stop offset="0.1392" stop-color="#fdd9c5"/><stop offset="0.1431" stop-color="#fdddcb"/><stop offset="0.1627" stop-color="#fbe3d5"/><stop offset="0.198" stop-color="#f8f3f0"/><stop offset="0.2137" stop-color="#f5f6f7"/><stop offset="0.2647" stop-color="#d9e9f1"/><stop offset="0.3" stop-color="#c0dceb"/><stop offset="0.3627" stop-color="#acd2e5"/><stop offset="0.4176" stop-color="#a5cee3"/><stop offset="0.4961" stop-color="#a5cee3"/><stop offset="0.5588" stop-color="#aed3e6"/><stop offset="0.6059" stop-color="#bddbea"/><stop offset="0.7" stop-color="#f5f6f7"/><stop offset="0.7784" stop-color="#fdd9c4"/><stop offset="0.7902" stop-color="#fbcfb8"/><stop offset="0.8373" stop-color="#f8c0a4"/><stop offset="0.9196" stop-color="#f7b596"/><stop offset="0.998" stop-color="#f7b596"/></linearGradient><linearGradient id="b30"><stop offset="0.001961" stop-color="#f7b799"/><stop offset="0.05686" stop-color="#f8bb9e"/><stop offset="0.1314" stop-color="#fbcdb5"/><stop offset="0.1549" stop-color="#fddac5"/><stop offset="0.1588" stop-color="#fdddcb"/><stop offset="0.1863" stop-color="#fbe6d9"/><stop offset="0.2294" stop-color="#f6f7f7"/><stop offset="0.2961" stop-color="#d4e6f1"/><stop offset="0.3314" stop-color="#bddbea"/><stop offset="0.3627" stop-color="#b3d6e8"/><stop offset="0.4333" stop-color="#a7d0e4"/><stop offset="0.5196" stop-color="#a7d0e4"/><stop offset="0.5824" stop-color="#b1d5e7"/><stop offset="0.6216" stop-color="#bddbea"/><stop offset="0.6569" stop-color="#d4e6f1"/><stop offset="0.7235" stop-color="#f6f7f7"/><stop offset="0.802" stop-color="#fdd9c4"/><stop offset="0.8137" stop-color="#fbcfb8"/><stop offset="0.8765" stop-color="#f8bea1"/><stop offset="0.9314" stop-color="#f7b799"/><stop offset="0.998" stop-color="#f7b799"/></linearGradient><linearGradient id="b31"><stop offset="0.001961" stop-color="#f7b799"/><stop offset="0.0451" stop-color="#f7b99c"/><stop offset="0.1235" stop-color="#fac6ac"/><stop offset="0.1471" stop-color="#fbcdb5"/><stop offset="0.1784" stop-color="#fdddca"/><stop offset="0.1824" stop-color="#fcdfcf"/><stop offset="0.1941" stop-color="#fbe2d3"/><stop offset="0.198" stop-color="#fbe5d8"/><stop offset="0.2529" stop-color="#f5f6f7"/><stop offset="0.3275" stop-color="#cfe4ef"/><stop offset="0.3392" stop-color="#c5dfec"/><stop offset="0.3706" stop-color="#b8d8e9"/><stop offset="0.4098" stop-color="#aed3e6"/><stop offset="0.5039" stop-color="#a7d0e4"/><stop offset="0.5824" stop-color="#aed3e6"/><stop offset="0.6216" stop-color="#b8d8e9"/><stop offset="0.6529" stop-color="#c5dfec"/><stop offset="0.6647" stop-color="#cfe4ef"/><stop offset="0.7392" stop-color="#f5f6f7"/><stop offset="0.8137" stop-color="#fdddca"/><stop offset="0.8451" stop-color="#fbcdb5"/><stop offset="0.8686" stop-color="#fac6ac"/><stop offset="0.9275" stop-color="#f8bb9e"/><stop offset="0.998" stop-color="#f7b799"/></linearGradient><linearGradient id="b32"><stop offset="0.001961" stop-color="#f7b99c"/><stop offset="0.08431" stop-color="#f8bea1"/><stop offset="0.1157" stop-color="#f9c2a7"/><stop offset="0.1549" stop-color="#fbcdb4"/><stop offset="0.1706" stop-color="#fbd1ba"/><stop offset="0.1941" stop-color="#fdddca"/><stop offset="0.198" stop-color="#fcdfcf"/><stop offset="0.2176" stop-color="#fbe5d7"/><stop offset="0.2216" stop-color="#fae7dc"/><stop offset="0.2686" stop-color="#f6f7f7"/><stop offset="0.3471" stop-color="#d1e5f0"/><stop offset="0.3627" stop-color="#c5dfec"/><stop offset="0.4176" stop-color="#b3d6e8"/><stop offset="0.4961" stop-color="#a9d1e5"/><stop offset="0.5353" stop-color="#a9d1e5"/><stop offset="0.6137" stop-color="#b3d6e8"/><stop offset="0.6608" stop-color="#c2ddec"/><stop offset="0.6843" stop-color="#d1e5f0"/><stop offset="0.7627" stop-color="#f6f7f7"/><stop offset="0.7902" stop-color="#f9ece4"/><stop offset="0.849" stop-color="#fdd9c4"/><stop offset="0.8529" stop-color="#fcd3bd"/><stop offset="0.8686" stop-color="#fbcdb5"/><stop offset="0.8922" stop-color="#fac6ac"/><stop offset="0.9275" stop-color="#f9c2a7"/><stop offset="0.9392" stop-color="#f8bda1"/><stop offset="0.998" stop-color="#f7b99c"/></linearGradient><linearGradient id="b33"><stop offset="0.001961" stop-color="#f8bb9e"/><stop offset="0.05686" stop-color="#f8bb9e"/><stop offset="0.1471" stop-color="#fac6ac"/><stop offset="0.1863" stop-color="#fbd1ba"/><stop offset="0.2059" stop-color="#fdddcb"/><stop offset="0.2412" stop-color="#fae7db"/><stop offset="0.2843" stop-color="#f7f6f6"/><stop offset="0.2922" stop-color="#f5f6f7"/><stop offset="0.3667" stop-color="#d3e6f0"/><stop offset="0.3863" stop-color="#c5dfec"/><stop offset="0.4255" stop-color="#b8d8e9"/><stop offset="0.4804" stop-color="#aed3e6"/><stop offset="0.5588" stop-color="#acd2e5"/><stop offset="0.6216" stop-color="#b3d6e8"/><stop offset="0.6765" stop-color="#c2ddec"/><stop offset="0.7196" stop-color="#dbeaf2"/><stop offset="0.7784" stop-color="#f5f6f7"/><stop offset="0.8333" stop-color="#fbe6da"/><stop offset="0.8373" stop-color="#fbe3d5"/><stop offset="0.8647" stop-color="#fddcc9"/><stop offset="0.8725" stop-color="#fdd9c4"/><stop offset="0.8765" stop-color="#fcd3bd"/><stop offset="0.9314" stop-color="#f9c4a9"/><stop offset="0.998" stop-color="#f8bda1"/></linearGradient><linearGradient id="b34"><stop offset="0.001961" stop-color="#f8bda1"/><stop offset="0.09216" stop-color="#f8bea1"/><stop offset="0.1706" stop-color="#fac8af"/><stop offset="0.1941" stop-color="#fbcfb7"/><stop offset="0.2255" stop-color="#fdddca"/><stop offset="0.3078" stop-color="#f6f7f7"/><stop offset="0.3902" stop-color="#d1e5f0"/><stop offset="0.4098" stop-color="#c5dfec"/><stop offset="0.4569" stop-color="#b6d7e8"/><stop offset="0.5118" stop-color="#aed3e6"/><stop offset="0.598" stop-color="#aed3e6"/><stop offset="0.6922" stop-color="#c2ddec"/><stop offset="0.7118" stop-color="#d0e4f0"/><stop offset="0.802" stop-color="#f7f6f6"/><stop offset="0.8333" stop-color="#f9ede5"/><stop offset="0.8373" stop-color="#faeae0"/><stop offset="0.8569" stop-color="#fbe5d8"/><stop offset="0.8608" stop-color="#fbe2d3"/><stop offset="0.8882" stop-color="#fddbc7"/><stop offset="0.9157" stop-color="#fbcdb5"/><stop offset="0.9549" stop-color="#f9c4a9"/><stop offset="0.998" stop-color="#f8bfa4"/></linearGradient><linearGradient id="b35"><stop offset="0.001961" stop-color="#f8bfa4"/><stop offset="0.1" stop-color="#f8bea1"/><stop offset="0.1588" stop-color="#f9c4a9"/><stop offset="0.2098" stop-color="#fbcfb8"/><stop offset="0.2373" stop-color="#fddcc9"/><stop offset="0.3235" stop-color="#f7f6f6"/><stop offset="0.4059" stop-color="#d3e6f0"/><stop offset="0.4255" stop-color="#c7e0ed"/><stop offset="0.4725" stop-color="#b8d8e9"/><stop offset="0.5431" stop-color="#aed3e6"/><stop offset="0.598" stop-color="#aed3e6"/><stop offset="0.6922" stop-color="#bddbea"/><stop offset="0.7157" stop-color="#c7e0ed"/><stop offset="0.7275" stop-color="#d0e4f0"/><stop offset="0.8176" stop-color="#f6f7f7"/><stop offset="0.9039" stop-color="#fddcc9"/><stop offset="0.9235" stop-color="#fbd1ba"/><stop offset="0.9549" stop-color="#fac8af"/><stop offset="0.998" stop-color="#f9c2a7"/></linearGradient><linearGradient id="b36"><stop offset="0.001961" stop-color="#f9c4a9"/><stop offset="0.03333" stop-color="#f8bfa4"/><stop offset="0.1314" stop-color="#f8c0a4"/><stop offset="0.1863" stop-color="#fac6ac"/><stop offset="0.2333" stop-color="#fcd4bd"/><stop offset="0.2373" stop-color="#fcd7c2"/><stop offset="0.2569" stop-color="#fdddca"/><stop offset="0.3392" stop-color="#f7f6f6"/><stop offset="0.3471" stop-color="#f5f6f7"/><stop offset="0.4725" stop-color="#bddbea"/><stop offset="0.5431" stop-color="#b1d5e7"/><stop offset="0.6373" stop-color="#b1d5e7"/><stop offset="0.6843" stop-color="#b8d8e9"/><stop offset="0.7314" stop-color="#c7e0ed"/><stop offset="0.7431" stop-color="#d0e4f0"/><stop offset="0.8333" stop-color="#f5f6f7"/><stop offset="0.9039" stop-color="#fbe3d4"/><stop offset="0.9235" stop-color="#fddbc7"/><stop offset="0.9353" stop-color="#fdd9c4"/><stop offset="0.9471" stop-color="#fbd1ba"/><stop offset="0.9706" stop-color="#facab1"/><stop offset="0.998" stop-color="#f9c6ac"/></linearGradient><linearGradient id="b37"><stop offset="0.001961" stop-color="#fac8af"/><stop offset="0.06471" stop-color="#f8bfa4"/><stop offset="0.1314" stop-color="#f8c0a4"/><stop offset="0.2098" stop-color="#fac8af"/><stop offset="0.2725" stop-color="#fdddca"/><stop offset="0.351" stop-color="#f8f4f2"/><stop offset="0.3627" stop-color="#f5f6f7"/><stop offset="0.4922" stop-color="#bedceb"/><stop offset="0.5745" stop-color="#b1d5e7"/><stop offset="0.6373" stop-color="#b1d5e7"/><stop offset="0.7078" stop-color="#bbdaea"/><stop offset="0.7471" stop-color="#c7e0ed"/><stop offset="0.7588" stop-color="#d0e4f0"/><stop offset="0.849" stop-color="#f5f6f7"/><stop offset="0.8569" stop-color="#f7f6f6"/><stop offset="0.8686" stop-color="#f8f1ed"/><stop offset="0.9196" stop-color="#fbe4d6"/><stop offset="0.9314" stop-color="#fcdecd"/><stop offset="0.951" stop-color="#fddbc7"/><stop offset="0.9627" stop-color="#fcd3bc"/><stop offset="0.998" stop-color="#facab1"/></linearGradient><linearGradient id="b38"><stop offset="0.001961" stop-color="#fbccb4"/><stop offset="0.07255" stop-color="#f9c2a7"/><stop offset="0.1706" stop-color="#f9c2a7"/><stop offset="0.2059" stop-color="#f9c6ac"/><stop offset="0.2569" stop-color="#fbd1ba"/><stop offset="0.2765" stop-color="#fddbc7"/><stop offset="0.3118" stop-color="#fbe3d5"/><stop offset="0.3667" stop-color="#f8f4f2"/><stop offset="0.3824" stop-color="#f5f6f7"/><stop offset="0.449" stop-color="#d8e9f1"/><stop offset="0.4686" stop-color="#d3e6f0"/><stop offset="0.5" stop-color="#c3deec"/><stop offset="0.5275" stop-color="#bbdaea"/><stop offset="0.5824" stop-color="#b3d6e8"/><stop offset="0.6686" stop-color="#b3d6e8"/><stop offset="0.7314" stop-color="#bddbea"/><stop offset="0.8725" stop-color="#f7f6f6"/><stop offset="0.9314" stop-color="#fbe4d6"/><stop offset="0.9667" stop-color="#fddcc9"/><stop offset="0.9784" stop-color="#fcd5bf"/><stop offset="0.998" stop-color="#fbceb7"/></linearGradient><linearGradient id="b39"><stop offset="0.001961" stop-color="#fbd0b9"/><stop offset="0.07255" stop-color="#f9c4a9"/><stop offset="0.1039" stop-color="#f9c2a7"/><stop offset="0.1706" stop-color="#f9c2a7"/><stop offset="0.2137" stop-color="#f9c6ac"/><stop offset="0.2529" stop-color="#fbceb7"/><stop offset="0.2647" stop-color="#fbcfb7"/><stop offset="0.2922" stop-color="#fddbc7"/><stop offset="0.3824" stop-color="#f8f3f1"/><stop offset="0.398" stop-color="#f5f6f7"/><stop offset="0.4922" stop-color="#d1e5f0"/><stop offset="0.5196" stop-color="#c2ddec"/><stop offset="0.5824" stop-color="#b6d7e8"/><stop offset="0.6686" stop-color="#b3d6e8"/><stop offset="0.7627" stop-color="#c2ddec"/><stop offset="0.7902" stop-color="#d2e5f0"/><stop offset="0.8882" stop-color="#f6f7f7"/><stop offset="0.9549" stop-color="#fbe3d4"/><stop offset="0.998" stop-color="#fcd7c2"/></linearGradient><linearGradient id="b40"><stop offset="0.001961" stop-color="#fdd9c4"/><stop offset="0.04902" stop-color="#facab1"/><stop offset="0.08039" stop-color="#f9c6ac"/><stop offset="0.198" stop-color="#f9c4a9"/><stop offset="0.2529" stop-color="#facab1"/><stop offset="0.2804" stop-color="#fbd1ba"/><stop offset="0.2961" stop-color="#fcd6c0"/><stop offset="0.3078" stop-color="#fddcc9"/><stop offset="0.351" stop-color="#fbe6d9"/><stop offset="0.402" stop-color="#f8f4f2"/><stop offset="0.4176" stop-color="#f5f6f7"/><stop offset="0.5118" stop-color="#d1e5f0"/><stop offset="0.5392" stop-color="#c3deec"/><stop offset="0.6137" stop-color="#b6d7e8"/><stop offset="0.7078" stop-color="#b6d7e8"/><stop offset="0.7549" stop-color="#bddbea"/><stop offset="0.9039" stop-color="#f6f7f7"/><stop offset="0.998" stop-color="#fdddcb"/></linearGradient><linearGradient id="b41"><stop offset="0.001961" stop-color="#fcdecd"/><stop offset="0.02157" stop-color="#fddbc7"/><stop offset="0.02549" stop-color="#fcd7c2"/><stop offset="0.03725" stop-color="#fcd4bf"/><stop offset="0.04118" stop-color="#fbd0b9"/><stop offset="0.06078" stop-color="#fbceb7"/><stop offset="0.07255" stop-color="#facab1"/><stop offset="0.1353" stop-color="#f9c4a9"/><stop offset="0.198" stop-color="#f9c4a9"/><stop offset="0.2608" stop-color="#facab1"/><stop offset="0.2961" stop-color="#fbd1ba"/><stop offset="0.3235" stop-color="#fddcc9"/><stop offset="0.4255" stop-color="#f7f6f6"/><stop offset="0.5784" stop-color="#bedbeb"/><stop offset="0.6451" stop-color="#b6d7e8"/><stop offset="0.7314" stop-color="#b8d8e9"/><stop offset="0.7863" stop-color="#c2ddec"/><stop offset="0.8137" stop-color="#d0e5f0"/><stop offset="0.9196" stop-color="#f6f7f7"/><stop offset="0.9863" stop-color="#fbe4d6"/><stop offset="0.998" stop-color="#fbe3d4"/></linearGradient><linearGradient id="b42"><stop offset="0.001961" stop-color="#fbe3d4"/><stop offset="0.0451" stop-color="#fdd9c4"/><stop offset="0.04902" stop-color="#fcd5bf"/><stop offset="0.08039" stop-color="#fbccb4"/><stop offset="0.1902" stop-color="#f9c4a9"/><stop offset="0.2373" stop-color="#f9c6ac"/><stop offset="0.2882" stop-color="#fbcdb5"/><stop offset="0.3431" stop-color="#fdddca"/><stop offset="0.4412" stop-color="#f7f6f6"/><stop offset="0.551" stop-color="#d1e5f0"/><stop offset="0.5784" stop-color="#c3deec"/><stop offset="0.6451" stop-color="#b8d8e9"/><stop offset="0.6843" stop-color="#b6d7e8"/><stop offset="0.7392" stop-color="#b8d8e9"/><stop offset="0.7863" stop-color="#c0dceb"/><stop offset="0.9353" stop-color="#f6f7f7"/><stop offset="0.9706" stop-color="#f9ede5"/><stop offset="0.998" stop-color="#fae7dc"/></linearGradient><linearGradient id="b43"><stop offset="0.001961" stop-color="#fae7dc"/><stop offset="0.05294" stop-color="#fddcc9"/><stop offset="0.05686" stop-color="#fdd9c4"/><stop offset="0.07647" stop-color="#fcd4be"/><stop offset="0.08039" stop-color="#fbd0b9"/><stop offset="0.1039" stop-color="#fbccb4"/><stop offset="0.1588" stop-color="#f9c6ac"/><stop offset="0.2373" stop-color="#f9c6ac"/><stop offset="0.3196" stop-color="#fbd1ba"/><stop offset="0.3471" stop-color="#fddcc9"/><stop offset="0.398" stop-color="#fae7db"/><stop offset="0.4569" stop-color="#f7f6f6"/><stop offset="0.602" stop-color="#c3deec"/><stop offset="0.6686" stop-color="#b8d8e9"/><stop offset="0.7392" stop-color="#b8d8e9"/><stop offset="0.8098" stop-color="#c2ddec"/><stop offset="0.8451" stop-color="#d2e5f0"/><stop offset="0.8804" stop-color="#dbeaf2"/><stop offset="0.951" stop-color="#f6f7f7"/><stop offset="0.998" stop-color="#f9ebe3"/></linearGradient><linearGradient id="b44"><stop offset="0.001961" stop-color="#f9ebe3"/><stop offset="0.08431" stop-color="#fdd9c4"/><stop offset="0.08824" stop-color="#fcd5bf"/><stop offset="0.1118" stop-color="#fbceb7"/><stop offset="0.1588" stop-color="#fac8af"/><stop offset="0.2294" stop-color="#f9c6ac"/><stop offset="0.2725" stop-color="#fac9af"/><stop offset="0.3275" stop-color="#fbd1ba"/><stop offset="0.3667" stop-color="#fdddca"/><stop offset="0.4725" stop-color="#f7f6f6"/><stop offset="0.6137" stop-color="#c5dfec"/><stop offset="0.6529" stop-color="#bddbea"/><stop offset="0.7078" stop-color="#b8d8e9"/><stop offset="0.7392" stop-color="#b8d8e9"/><stop offset="0.8176" stop-color="#c2ddec"/><stop offset="0.9667" stop-color="#f6f7f7"/><stop offset="0.998" stop-color="#f9f0eb"/></linearGradient><linearGradient id="b45"><stop offset="0.001961" stop-color="#f9efe9"/><stop offset="0.0451" stop-color="#fbe6da"/><stop offset="0.05686" stop-color="#fce2d2"/><stop offset="0.09216" stop-color="#fddcc8"/><stop offset="0.1353" stop-color="#fbceb7"/><stop offset="0.1902" stop-color="#fac8af"/><stop offset="0.2725" stop-color="#fac9af"/><stop offset="0.3392" stop-color="#fbd0b9"/><stop offset="0.3784" stop-color="#fdddcb"/><stop offset="0.4882" stop-color="#f7f6f6"/><stop offset="0.6412" stop-color="#c3deec"/><stop offset="0.7" stop-color="#bbdaea"/><stop offset="0.7706" stop-color="#bbdaea"/><stop offset="0.8176" stop-color="#c0dceb"/><stop offset="0.8412" stop-color="#c5dfec"/><stop offset="0.8686" stop-color="#d2e5f0"/><stop offset="0.9118" stop-color="#ddebf2"/><stop offset="0.9784" stop-color="#f6f7f7"/><stop offset="0.998" stop-color="#f8f3f0"/></linearGradient><linearGradient id="b46"><stop offset="0.001961" stop-color="#f8f3f0"/><stop offset="0.08039" stop-color="#fce0d0"/><stop offset="0.1157" stop-color="#fddbc6"/><stop offset="0.1431" stop-color="#fbd0b9"/><stop offset="0.1902" stop-color="#facab1"/><stop offset="0.2725" stop-color="#fac9af"/><stop offset="0.351" stop-color="#fbd1ba"/><stop offset="0.3784" stop-color="#fddbc7"/><stop offset="0.4098" stop-color="#fce0d0"/><stop offset="0.5039" stop-color="#f7f6f6"/><stop offset="0.6451" stop-color="#cae1ee"/><stop offset="0.649" stop-color="#c6e0ed"/><stop offset="0.7275" stop-color="#bbdaea"/><stop offset="0.802" stop-color="#bddbea"/><stop offset="0.849" stop-color="#c5dfec"/><stop offset="0.8765" stop-color="#d1e5f0"/><stop offset="0.9196" stop-color="#dbeaf2"/><stop offset="0.998" stop-color="#f6f7f7"/></linearGradient><linearGradient id="b47"><stop offset="0.001961" stop-color="#f7f6f6"/><stop offset="0.1196" stop-color="#fddcc9"/><stop offset="0.1667" stop-color="#fbd0b9"/><stop offset="0.2216" stop-color="#facab1"/><stop offset="0.2725" stop-color="#facab1"/><stop offset="0.3" stop-color="#facab1"/><stop offset="0.3588" stop-color="#fbd1ba"/><stop offset="0.402" stop-color="#fdddcb"/><stop offset="0.5196" stop-color="#f6f7f7"/><stop offset="0.6725" stop-color="#c5dfed"/><stop offset="0.7235" stop-color="#bddbea"/><stop offset="0.8098" stop-color="#bddbea"/><stop offset="0.8569" stop-color="#c5dfec"/><stop offset="0.998" stop-color="#f2f5f6"/></linearGradient><linearGradient id="b48"><stop offset="0.001961" stop-color="#f3f5f6"/><stop offset="0.02157" stop-color="#f7f6f6"/><stop offset="0.07255" stop-color="#fae9df"/><stop offset="0.1471" stop-color="#fddcc8"/><stop offset="0.1824" stop-color="#fbd0b9"/><stop offset="0.2529" stop-color="#facab1"/><stop offset="0.3" stop-color="#facab1"/><stop offset="0.3627" stop-color="#fbd0b9"/><stop offset="0.4137" stop-color="#fdddca"/><stop offset="0.5353" stop-color="#f6f7f7"/><stop offset="0.6961" stop-color="#c5dfed"/><stop offset="0.7549" stop-color="#bddbea"/><stop offset="0.802" stop-color="#bddbea"/><stop offset="0.8647" stop-color="#c5dfec"/><stop offset="0.998" stop-color="#edf2f5"/></linearGradient><linearGradient id="b49"><stop offset="0.001961" stop-color="#eff3f5"/><stop offset="0.02941" stop-color="#f6f7f7"/><stop offset="0.08824" stop-color="#fae9df"/><stop offset="0.151" stop-color="#fdddcb"/><stop offset="0.1706" stop-color="#fddbc7"/><stop offset="0.2059" stop-color="#fbd0b9"/><stop offset="0.2451" stop-color="#fbccb4"/><stop offset="0.3314" stop-color="#fbccb4"/><stop offset="0.3706" stop-color="#fbd0b9"/><stop offset="0.4255" stop-color="#fdddcb"/><stop offset="0.551" stop-color="#f6f7f7"/><stop offset="0.7118" stop-color="#c5dfed"/><stop offset="0.751" stop-color="#c0ddeb"/><stop offset="0.8569" stop-color="#c2ddec"/><stop offset="0.998" stop-color="#e9f0f4"/></linearGradient><linearGradient id="b50"><stop offset="0.001961" stop-color="#eaf1f5"/><stop offset="0.0451" stop-color="#f6f7f7"/><stop offset="0.1353" stop-color="#fbe3d4"/><stop offset="0.2137" stop-color="#fcd3bc"/><stop offset="0.2765" stop-color="#fbccb4"/><stop offset="0.3314" stop-color="#fbccb4"/><stop offset="0.3784" stop-color="#fbd0b9"/><stop offset="0.4333" stop-color="#fdddcb"/><stop offset="0.5667" stop-color="#f5f6f7"/><stop offset="0.7118" stop-color="#cae2ee"/><stop offset="0.7824" stop-color="#c0dceb"/><stop offset="0.8647" stop-color="#c2ddec"/><stop offset="0.998" stop-color="#e4eef4"/></linearGradient><linearGradient id="b51"><stop offset="0.001961" stop-color="#e7f0f4"/><stop offset="0.06078" stop-color="#f7f6f6"/><stop offset="0.151" stop-color="#fbe3d4"/><stop offset="0.2059" stop-color="#fdd9c4"/><stop offset="0.2176" stop-color="#fdd8c4"/><stop offset="0.2451" stop-color="#fbd0b9"/><stop offset="0.2686" stop-color="#fbceb7"/><stop offset="0.3627" stop-color="#fbceb7"/><stop offset="0.3941" stop-color="#fcd3bc"/><stop offset="0.4725" stop-color="#fce2d2"/><stop offset="0.5627" stop-color="#f8f4f3"/><stop offset="0.5824" stop-color="#f5f6f7"/><stop offset="0.751" stop-color="#c5dfed"/><stop offset="0.7784" stop-color="#c2ddec"/><stop offset="0.8882" stop-color="#c5dfec"/><stop offset="0.9235" stop-color="#d1e5f0"/><stop offset="0.998" stop-color="#e1edf3"/></linearGradient><linearGradient id="b52"><stop offset="0.001961" stop-color="#e3edf3"/><stop offset="0.07647" stop-color="#f7f6f6"/><stop offset="0.08039" stop-color="#f8f4f2"/><stop offset="0.1745" stop-color="#fce2d2"/><stop offset="0.2255" stop-color="#fddbc6"/><stop offset="0.2686" stop-color="#fbd0b9"/><stop offset="0.3" stop-color="#fbceb7"/><stop offset="0.3549" stop-color="#fbceb7"/><stop offset="0.402" stop-color="#fcd3bc"/><stop offset="0.4882" stop-color="#fbe3d4"/><stop offset="0.5902" stop-color="#f6f7f7"/><stop offset="0.751" stop-color="#cae2ee"/><stop offset="0.8098" stop-color="#c2ddec"/><stop offset="0.8647" stop-color="#c2ddec"/><stop offset="0.9039" stop-color="#c7e0ed"/><stop offset="0.9314" stop-color="#d1e5f0"/><stop offset="0.998" stop-color="#deebf2"/></linearGradient><linearGradient id="b53"><stop offset="0.001961" stop-color="#e1edf3"/><stop offset="0.08431" stop-color="#f6f7f7"/><stop offset="0.1902" stop-color="#fce2d2"/><stop offset="0.2922" stop-color="#fbd0b9"/><stop offset="0.3863" stop-color="#fbd0b9"/><stop offset="0.4176" stop-color="#fcd5bf"/><stop offset="0.5353" stop-color="#fae9df"/><stop offset="0.602" stop-color="#f7f7f7"/><stop offset="0.6882" stop-color="#deebf2"/><stop offset="0.798" stop-color="#c5dfed"/><stop offset="0.8961" stop-color="#c5dfec"/><stop offset="0.9392" stop-color="#d1e5f0"/><stop offset="0.998" stop-color="#dbeaf2"/></linearGradient><linearGradient id="b54"><stop offset="0.001961" stop-color="#deebf2"/><stop offset="0.1" stop-color="#f7f6f6"/><stop offset="0.198" stop-color="#fbe3d4"/><stop offset="0.3157" stop-color="#fbd0b9"/><stop offset="0.4098" stop-color="#fcd3bc"/><stop offset="0.4961" stop-color="#fce0d0"/><stop offset="0.6137" stop-color="#f6f7f7"/><stop offset="0.7039" stop-color="#ddebf2"/><stop offset="0.8216" stop-color="#c5dfed"/><stop offset="0.8961" stop-color="#c5dfec"/><stop offset="0.998" stop-color="#dae9f2"/></linearGradient><linearGradient id="b55"><stop offset="0.001961" stop-color="#dbeaf2"/><stop offset="0.1157" stop-color="#f7f6f6"/><stop offset="0.1196" stop-color="#f8f4f2"/><stop offset="0.198" stop-color="#fbe5d8"/><stop offset="0.3314" stop-color="#fbd0b9"/><stop offset="0.402" stop-color="#fbd0b9"/><stop offset="0.449" stop-color="#fcd7c2"/><stop offset="0.5588" stop-color="#fae9df"/><stop offset="0.6255" stop-color="#f7f7f7"/><stop offset="0.7431" stop-color="#d7e8f1"/><stop offset="0.8373" stop-color="#c5dfed"/><stop offset="0.9275" stop-color="#c7e0ed"/><stop offset="0.998" stop-color="#d7e8f1"/></linearGradient><linearGradient id="b56"><stop offset="0.001961" stop-color="#d8e9f1"/><stop offset="0.1235" stop-color="#f7f6f6"/><stop offset="0.2294" stop-color="#fce2d2"/><stop offset="0.3078" stop-color="#fcd5bf"/><stop offset="0.3471" stop-color="#fbd0b9"/><stop offset="0.398" stop-color="#fbd0b9"/><stop offset="0.4333" stop-color="#fcd3bc"/><stop offset="0.5196" stop-color="#fce0d0"/><stop offset="0.6451" stop-color="#f5f6f7"/><stop offset="0.7431" stop-color="#dae9f2"/><stop offset="0.8451" stop-color="#c5dfed"/><stop offset="0.9196" stop-color="#c5dfec"/><stop offset="0.998" stop-color="#d4e6f1"/></linearGradient><linearGradient id="b57"><stop offset="0.001961" stop-color="#d5e7f1"/><stop offset="0.1392" stop-color="#f7f6f6"/><stop offset="0.1431" stop-color="#f8f4f2"/><stop offset="0.2216" stop-color="#fbe5d8"/><stop offset="0.3549" stop-color="#fbd0b9"/><stop offset="0.4255" stop-color="#fbd0b9"/><stop offset="0.4725" stop-color="#fcd7c2"/><stop offset="0.5824" stop-color="#fae9df"/><stop offset="0.649" stop-color="#f7f7f7"/><stop offset="0.7667" stop-color="#d7e8f1"/><stop offset="0.8608" stop-color="#c5dfed"/><stop offset="0.951" stop-color="#c7e0ed"/><stop offset="0.998" stop-color="#d2e6f0"/></linearGradient><linearGradient id="b58"><stop offset="0.001961" stop-color="#d4e6f1"/><stop offset="0.06863" stop-color="#e1edf3"/><stop offset="0.1471" stop-color="#f7f6f6"/><stop offset="0.2529" stop-color="#fce2d2"/><stop offset="0.3706" stop-color="#fbd0b9"/><stop offset="0.4333" stop-color="#fbd0b9"/><stop offset="0.4725" stop-color="#fcd5bf"/><stop offset="0.551" stop-color="#fce2d2"/><stop offset="0.6686" stop-color="#f5f6f7"/><stop offset="0.7667" stop-color="#dae9f2"/><stop offset="0.8686" stop-color="#c5dfed"/><stop offset="0.9431" stop-color="#c5dfec"/><stop offset="0.998" stop-color="#cfe4ef"/></linearGradient><linearGradient id="b59"><stop offset="0.001961" stop-color="#d1e5f0"/><stop offset="0.03725" stop-color="#d7e8f1"/><stop offset="0.1549" stop-color="#f6f7f7"/><stop offset="0.2451" stop-color="#fbe5d8"/><stop offset="0.3784" stop-color="#fbd0b9"/><stop offset="0.449" stop-color="#fbd0b9"/><stop offset="0.4961" stop-color="#fcd7c2"/><stop offset="0.6059" stop-color="#fae9df"/><stop offset="0.6725" stop-color="#f7f7f7"/><stop offset="0.7902" stop-color="#d7e8f1"/><stop offset="0.8686" stop-color="#c7e0ed"/><stop offset="0.951" stop-color="#c5dfec"/><stop offset="0.998" stop-color="#cce2ef"/></linearGradient><linearGradient id="cb"><stop offset="0" stop-color="#053061"/><stop offset="0.05" stop-color="#124984"/><stop offset="0.1" stop-color="#2064aa"/><stop offset="0.15" stop-color="#317cb7"/><stop offset="0.2" stop-color="#4393c3"/><stop offset="0.25" stop-color="#6bacd0"/><stop offset="0.3" stop-color="#90c4dd"/><stop offset="0.35" stop-color="#b0d4e6"/><stop offset="0.4" stop-color="#d1e5f0"/><stop offset="0.45" stop-color="#e4eef3"/><stop offset="0.5" stop-color="#f7f6f6"/><stop offset="0.55" stop-color="#f9e9df"/><stop offset="0.6" stop-color="#fddbc7"/><stop offset="0.65" stop-color="#f8bfa3"/><stop offset="0.7" stop-color="#f3a380"/><stop offset="0.75" stop-color="#e48065"/><stop offset="0.8" stop-color="#d6604d"/><stop offset="0.85" stop-color="#c33b3b"/><stop offset="0.9" stop-color="#b0172a"/><stop offset="0.95" stop-color="#8a0b24"/><stop offset="1" stop-color="#67001f"/></linearGradient></defs><rect x="51.5" y="15.500" width="255.0" height="3.850" fill="url(#a0)"/><rect x="51.5" y="18.350" width="255.0" height="3.850" fill="url(#a1)"/><rect x="51.5" y="21.200" width="255.0" height="3.850" fill="url(#a2)"/><rect x="51.5" y="24.050" width="255.0" height="3.850" fill="url(#a3)"/><rect x="51.5" y="26.900" width="255.0" height="3.850" fill="url(#a4)"/><rect x="51.5" y="29.750" width="255.0" height="3.850" fill="url(#a5)"/><rect x="51.5" y="32.600" width="255.0" height="3.850" fill="url(#a6)"/><rect x="51.5" y="35.450" width="255.0" height="3.850" fill="url(#a7)"/><rect x="51.5" y="38.300" width="255.0" height="3.850" fill="url(#a8)"/><rect x="51.5" y="41.150" width="255.0" height="3.850" fill="url(#a9)"/><rect x="51.5" y="44.000" width="255.0" height="3.850" fill="url(#a10)"/><rect x="51.5" y="46.850" width="255.0" height="3.850" fill="url(#a11)"/><rect x="51.5" y="49.700" width="255.0" height="3.850" fill="url(#a12)"/><rect x="51.5" y="52.550" width="255.0" height="3.850" fill="url(#a13)"/><rect x="51.5" y="55.400" width="255.0" height="3.850" fill="url(#a14)"/><rect x="51.5" y="58.250" width="255.0" height="3.850" fill="url(#a15)"/><rect x="51.5" y="61.100" width="255.0" height="3.850" fill="url(#a16)"/><rect x="51.5" y="63.950" width="255.0" height="3.850" fill="url(#a17)"/><rect x="51.5" y="66.800" width="255.0" height="3.850" fill="url(#a18)"/><rect x="51.5" y="69.650" width="255.0" height="3.850" fill="url(#a19)"/><rect x="51.5" y="72.500" width="255.0" height="3.850" fill="url(#a20)"/><rect x="51.5" y="75.350" width="255.0" height="3.850" fill="url(#a21)"/><rect x="51.5" y="78.200" width="255.0" height="3.850" fill="url(#a22)"/><rect x="51.5" y="81.050" width="255.0" height="3.850" fill="url(#a23)"/><rect x="51.5" y="83.900" width="255.0" height="3.850" fill="url(#a24)"/><rect x="51.5" y="86.750" width="255.0" height="3.850" fill="url(#a25)"/><rect x="51.5" y="89.600" width="255.0" height="3.850" fill="url(#a26)"/><rect x="51.5" y="92.450" width="255.0" height="3.850" fill="url(#a27)"/><rect x="51.5" y="95.300" width="255.0" height="3.850" fill="url(#a28)"/><rect x="51.5" y="98.150" width="255.0" height="3.850" fill="url(#a29)"/><rect x="51.5" y="101.000" width="255.0" height="3.850" fill="url(#a30)"/><rect x="51.5" y="103.850" width="255.0" height="3.850" fill="url(#a31)"/><rect x="51.5" y="106.700" width="255.0" height="3.850" fill="url(#a32)"/><rect x="51.5" y="109.550" width="255.0" height="3.850" fill="url(#a33)"/><rect x="51.5" y="112.400" width="255.0" height="3.850" fill="url(#a34)"/><rect x="51.5" y="115.250" width="255.0" height="3.850" fill="url(#a35)"/><rect x="51.5" y="118.100" width="255.0" height="3.850" fill="url(#a36)"/><rect x="51.5" y="120.950" width="255.0" height="3.850" fill="url(#a37)"/><rect x="51.5" y="123.800" width="255.0" height="3.850" fill="url(#a38)"/><rect x="51.5" y="126.650" width="255.0" height="3.850" fill="url(#a39)"/><rect x="51.5" y="129.500" width="255.0" height="3.850" fill="url(#a40)"/><rect x="51.5" y="132.350" width="255.0" height="3.850" fill="url(#a41)"/><rect x="51.5" y="135.200" width="255.0" height="3.850" fill="url(#a42)"/><rect x="51.5" y="138.050" width="255.0" height="3.850" fill="url(#a43)"/><rect x="51.5" y="140.900" width="255.0" height="3.850" fill="url(#a44)"/><rect x="51.5" y="143.750" width="255.0" height="3.850" fill="url(#a45)"/><rect x="51.5" y="146.600" width="255.0" height="3.850" fill="url(#a46)"/><rect x="51.5" y="149.450" width="255.0" height="3.850" fill="url(#a47)"/><rect x="51.5" y="152.300" width="255.0" height="3.850" fill="url(#a48)"/><rect x="51.5" y="155.150" width="255.0" height="3.850" fill="url(#a49)"/><rect x="51.5" y="158.000" width="255.0" height="3.850" fill="url(#a50)"/><rect x="51.5" y="160.850" width="255.0" height="3.850" fill="url(#a51)"/><rect x="51.5" y="163.700" width="255.0" height="3.850" fill="url(#a52)"/><rect x="51.5" y="166.550" width="255.0" height="3.850" fill="url(#a53)"/><rect x="51.5" y="169.400" width="255.0" height="3.850" fill="url(#a54)"/><rect x="51.5" y="172.250" width="255.0" height="3.850" fill="url(#a55)"/><rect x="51.5" y="175.100" width="255.0" height="3.850" fill="url(#a56)"/><rect x="51.5" y="177.950" width="255.0" height="3.850" fill="url(#a57)"/><rect x="51.5" y="180.800" width="255.0" height="3.850" fill="url(#a58)"/><rect x="51.5" y="183.650" width="255.0" height="2.850" fill="url(#a59)"/><rect x="382.7" y="15.500" width="254.8" height="3.850" fill="url(#b0)"/><rect x="382.7" y="18.350" width="254.8" height="3.850" fill="url(#b1)"/><rect x="382.7" y="21.200" width="254.8" height="3.850" fill="url(#b2)"/><rect x="382.7" y="24.050" width="254.8" height="3.850" fill="url(#b3)"/><rect x="382.7" y="26.900" width="254.8" height="3.850" fill="url(#b4)"/><rect x="382.7" y="29.750" width="254.8" height="3.850" fill="url(#b5)"/><rect x="382.7" y="32.600" width="254.8" height="3.850" fill="url(#b6)"/><rect x="382.7" y="35.450" width="254.8" height="3.850" fill="url(#b7)"/><rect x="382.7" y="38.300" width="254.8" height="3.850" fill="url(#b8)"/><rect x="382.7" y="41.150" width="254.8" height="3.850" fill="url(#b9)"/><rect x="382.7" y="44.000" width="254.8" height="3.850" fill="url(#b10)"/><rect x="382.7" y="46.850" width="254.8" height="3.850" fill="url(#b11)"/><rect x="382.7" y="49.700" width="254.8" height="3.850" fill="url(#b12)"/><rect x="382.7" y="52.550" width="254.8" height="3.850" fill="url(#b13)"/><rect x="382.7" y="55.400" width="254.8" height="3.850" fill="url(#b14)"/><rect x="382.7" y="58.250" width="254.8" height="3.850" fill="url(#b15)"/><rect x="382.7" y="61.100" width="254.8" height="3.850" fill="url(#b16)"/><rect x="382.7" y="63.950" width="254.8" height="3.850" fill="url(#b17)"/><rect x="382.7" y="66.800" width="254.8" height="3.850" fill="url(#b18)"/><rect x="382.7" y="69.650" width="254.8" height="3.850" fill="url(#b19)"/><rect x="382.7" y="72.500" width="254.8" height="3.850" fill="url(#b20)"/><rect x="382.7" y="75.350" width="254.8" height="3.850" fill="url(#b21)"/><rect x="382.7" y="78.200" width="254.8" height="3.850" fill="url(#b22)"/><rect x="382.7" y="81.050" width="254.8" height="3.850" fill="url(#b23)"/><rect x="382.7" y="83.900" width="254.8" height="3.850" fill="url(#b24)"/><rect x="382.7" y="86.750" width="254.8" height="3.850" fill="url(#b25)"/><rect x="382.7" y="89.600" width="254.8" height="3.850" fill="url(#b26)"/><rect x="382.7" y="92.450" width="254.8" height="3.850" fill="url(#b27)"/><rect x="382.7" y="95.300" width="254.8" height="3.850" fill="url(#b28)"/><rect x="382.7" y="98.150" width="254.8" height="3.850" fill="url(#b29)"/><rect x="382.7" y="101.000" width="254.8" height="3.850" fill="url(#b30)"/><rect x="382.7" y="103.850" width="254.8" height="3.850" fill="url(#b31)"/><rect x="382.7" y="106.700" width="254.8" height="3.850" fill="url(#b32)"/><rect x="382.7" y="109.550" width="254.8" height="3.850" fill="url(#b33)"/><rect x="382.7" y="112.400" width="254.8" height="3.850" fill="url(#b34)"/><rect x="382.7" y="115.250" width="254.8" height="3.850" fill="url(#b35)"/><rect x="382.7" y="118.100" width="254.8" height="3.850" fill="url(#b36)"/><rect x="382.7" y="120.950" width="254.8" height="3.850" fill="url(#b37)"/><rect x="382.7" y="123.800" width="254.8" height="3.850" fill="url(#b38)"/><rect x="382.7" y="126.650" width="254.8" height="3.850" fill="url(#b39)"/><rect x="382.7" y="129.500" width="254.8" height="3.850" fill="url(#b40)"/><rect x="382.7" y="132.350" width="254.8" height="3.850" fill="url(#b41)"/><rect x="382.7" y="135.200" width="254.8" height="3.850" fill="url(#b42)"/><rect x="382.7" y="138.050" width="254.8" height="3.850" fill="url(#b43)"/><rect x="382.7" y="140.900" width="254.8" height="3.850" fill="url(#b44)"/><rect x="382.7" y="143.750" width="254.8" height="3.850" fill="url(#b45)"/><rect x="382.7" y="146.600" width="254.8" height="3.850" fill="url(#b46)"/><rect x="382.7" y="149.450" width="254.8" height="3.850" fill="url(#b47)"/><rect x="382.7" y="152.300" width="254.8" height="3.850" fill="url(#b48)"/><rect x="382.7" y="155.150" width="254.8" height="3.850" fill="url(#b49)"/><rect x="382.7" y="158.000" width="254.8" height="3.850" fill="url(#b50)"/><rect x="382.7" y="160.850" width="254.8" height="3.850" fill="url(#b51)"/><rect x="382.7" y="163.700" width="254.8" height="3.850" fill="url(#b52)"/><rect x="382.7" y="166.550" width="254.8" height="3.850" fill="url(#b53)"/><rect x="382.7" y="169.400" width="254.8" height="3.850" fill="url(#b54)"/><rect x="382.7" y="172.250" width="254.8" height="3.850" fill="url(#b55)"/><rect x="382.7" y="175.100" width="254.8" height="3.850" fill="url(#b56)"/><rect x="382.7" y="177.950" width="254.8" height="3.850" fill="url(#b57)"/><rect x="382.7" y="180.800" width="254.8" height="3.850" fill="url(#b58)"/><rect x="382.7" y="183.650" width="254.8" height="2.850" fill="url(#b59)"/><rect x="51.5" y="233.5" width="586.0" height="9.0" fill="url(#cb)"/><rect x="52.1" y="24.2" width="1.0" height="13.8" fill="#fff"/><rect x="52.1" y="38" width="1.0" height="8.5" fill="#fff" opacity=".6"/><rect x="383.2" y="22.3" width="1.4" height="22" fill="#fff"/><rect x="383.2" y="44.3" width="1.4" height="16" fill="#fff" opacity=".5"/><rect x="51.5" y="15.5" width="255.0" height="171.0" fill="none" stroke="#222" stroke-width="0.9"/><path d="M77.00 186.5v-3.2M77.00 15.5v3.2M128.00 186.5v-3.2M128.00 15.5v3.2M179.00 186.5v-3.2M179.00 15.5v3.2M230.00 186.5v-3.2M230.00 15.5v3.2M281.00 186.5v-3.2M281.00 15.5v3.2M51.5 186.50h3.2M306.5 186.50h-3.2M51.5 166.14h3.2M306.5 166.14h-3.2M51.5 145.79h3.2M306.5 145.79h-3.2M51.5 125.43h3.2M306.5 125.43h-3.2M51.5 105.07h3.2M306.5 105.07h-3.2M51.5 84.71h3.2M306.5 84.71h-3.2M51.5 64.36h3.2M306.5 64.36h-3.2M51.5 44.00h3.2M306.5 44.00h-3.2M51.5 23.64h3.2M306.5 23.64h-3.2" stroke="#222" stroke-width="0.9" fill="none"/><rect x="382.7" y="15.5" width="254.8" height="171.0" fill="none" stroke="#222" stroke-width="0.9"/><path d="M408.18 186.5v-3.2M408.18 15.5v3.2M459.14 186.5v-3.2M459.14 15.5v3.2M510.10 186.5v-3.2M510.10 15.5v3.2M561.06 186.5v-3.2M561.06 15.5v3.2M612.02 186.5v-3.2M612.02 15.5v3.2M382.7 186.50h3.2M637.5 186.50h-3.2M382.7 166.14h3.2M637.5 166.14h-3.2M382.7 145.79h3.2M637.5 145.79h-3.2M382.7 125.43h3.2M637.5 125.43h-3.2M382.7 105.07h3.2M637.5 105.07h-3.2M382.7 84.71h3.2M637.5 84.71h-3.2M382.7 64.36h3.2M637.5 64.36h-3.2M382.7 44.00h3.2M637.5 44.00h-3.2M382.7 23.64h3.2M637.5 23.64h-3.2" stroke="#222" stroke-width="0.9" fill="none"/><rect x="51.5" y="233.5" width="586.0" height="9.0" fill="none" stroke="#222" stroke-width="0.9"/><path d="M71.5 242.5v-3M173.5 242.5v-3M275.3 242.5v-3M344.5 242.5v-3M413.6 242.5v-3M515.6 242.5v-3M617.6 242.5v-3" stroke="#222" stroke-width="0.9" fill="none"/><g font-family="'Liberation Serif','DejaVu Serif',serif" font-size="13.9" fill="#000" stroke="#000" stroke-width="0.12"><text x="77.0" y="204.3" text-anchor="middle">−0.4</text><text x="128.0" y="204.3" text-anchor="middle">−0.2</text><text x="179.0" y="204.3" text-anchor="middle">0.0</text><text x="230.0" y="204.3" text-anchor="middle">0.2</text><text x="281.0" y="204.3" text-anchor="middle">0.4</text><text x="44.7" y="191.5" text-anchor="end">500</text><text x="44.7" y="171.1" text-anchor="end">750</text><text x="44.7" y="150.8" text-anchor="end">1000</text><text x="44.7" y="130.4" text-anchor="end">1250</text><text x="44.7" y="110.1" text-anchor="end">1500</text><text x="44.7" y="89.7" text-anchor="end">1750</text><text x="44.7" y="69.4" text-anchor="end">2000</text><text x="44.7" y="49.0" text-anchor="end">2250</text><text x="44.7" y="28.6" text-anchor="end">2500</text><text x="179.0" y="218.8" text-anchor="middle"><tspan font-style="italic">X</tspan> [au]</text><text x="10.6" y="101.8" text-anchor="middle" font-size="15.3" transform="rotate(-90 10.6 101.8)"><tspan font-style="italic">t</tspan>Ω</text><text x="408.2" y="204.3" text-anchor="middle">−0.4</text><text x="459.1" y="204.3" text-anchor="middle">−0.2</text><text x="510.1" y="204.3" text-anchor="middle">0.0</text><text x="561.1" y="204.3" text-anchor="middle">0.2</text><text x="612.0" y="204.3" text-anchor="middle">0.4</text><text x="375.9" y="191.5" text-anchor="end">500</text><text x="375.9" y="171.1" text-anchor="end">750</text><text x="375.9" y="150.8" text-anchor="end">1000</text><text x="375.9" y="130.4" text-anchor="end">1250</text><text x="375.9" y="110.1" text-anchor="end">1500</text><text x="375.9" y="89.7" text-anchor="end">1750</text><text x="375.9" y="69.4" text-anchor="end">2000</text><text x="375.9" y="49.0" text-anchor="end">2250</text><text x="375.9" y="28.6" text-anchor="end">2500</text><text x="510.1" y="218.8" text-anchor="middle"><tspan font-style="italic">X</tspan> [au]</text><text x="341.8" y="101.8" text-anchor="middle" font-size="15.3" transform="rotate(-90 341.8 101.8)"><tspan font-style="italic">t</tspan>Ω</text><text text-anchor="start" stroke="none"><tspan x="150.9" y="10.6" font-size="14.5" font-style="italic" textLength="5.6" lengthAdjust="spacingAndGlyphs">δ</tspan><tspan x="157.2" y="10.6" font-size="14.0" textLength="9.2" lengthAdjust="spacingAndGlyphs">Σ</tspan><tspan x="167.6" y="13.0" font-size="10.0" textLength="4.8" lengthAdjust="spacingAndGlyphs">d</tspan><tspan x="173.5" y="13.7" font-size="19.0" textLength="6.6" lengthAdjust="spacingAndGlyphs">/</tspan><tspan x="181.1" y="10.6" font-size="14.0" textLength="9.2" lengthAdjust="spacingAndGlyphs">Σ</tspan><tspan x="191.3" y="13.0" font-size="10.0" textLength="4.8" lengthAdjust="spacingAndGlyphs">d</tspan><tspan x="196.9" y="13.0" font-size="10.0">,</tspan><tspan x="200.9" y="13.0" font-size="10.0" textLength="5.0" lengthAdjust="spacingAndGlyphs">0</tspan></text><text text-anchor="start" stroke="none"><tspan x="487.9" y="10.6" font-size="14.5" font-style="italic" textLength="5.6" lengthAdjust="spacingAndGlyphs">δ</tspan><tspan x="493.3" y="10.6" font-size="15.0" font-style="italic" textLength="7.2" lengthAdjust="spacingAndGlyphs">τ</tspan><tspan x="500.1" y="13.0" font-size="10.0" textLength="3.9" lengthAdjust="spacingAndGlyphs">s</tspan><tspan x="504.8" y="13.7" font-size="19.0" textLength="6.6" lengthAdjust="spacingAndGlyphs">/</tspan><tspan x="511.7" y="10.6" font-size="15.0" font-style="italic" textLength="7.2" lengthAdjust="spacingAndGlyphs">τ</tspan><tspan x="517.8" y="13.0" font-size="10.0" textLength="3.9" lengthAdjust="spacingAndGlyphs">s</tspan><tspan x="522.4" y="13.0" font-size="10.0">,</tspan><tspan x="525.9" y="13.0" font-size="10.0" textLength="5.0" lengthAdjust="spacingAndGlyphs">0</tspan></text><text text-anchor="start" stroke="none"><tspan x="289.4" y="277.9" font-size="14.5" font-style="italic" textLength="5.6" lengthAdjust="spacingAndGlyphs">δ</tspan><tspan x="295.7" y="277.9" font-size="14.0" textLength="9.2" lengthAdjust="spacingAndGlyphs">Σ</tspan><tspan x="306.1" y="280.3" font-size="10.0" textLength="4.8" lengthAdjust="spacingAndGlyphs">d</tspan><tspan x="312.0" y="281.0" font-size="19.0" textLength="6.6" lengthAdjust="spacingAndGlyphs">/</tspan><tspan x="319.6" y="277.9" font-size="14.0" textLength="9.2" lengthAdjust="spacingAndGlyphs">Σ</tspan><tspan x="329.8" y="280.3" font-size="10.0" textLength="4.8" lengthAdjust="spacingAndGlyphs">d</tspan><tspan x="335.4" y="280.3" font-size="10.0">,</tspan><tspan x="339.4" y="280.3" font-size="10.0" textLength="5.0" lengthAdjust="spacingAndGlyphs">0</tspan><tspan x="346.3" y="277.9" font-size="14.0">, </tspan><tspan x="355.5" y="277.9" font-size="14.5" font-style="italic" textLength="5.6" lengthAdjust="spacingAndGlyphs">δ</tspan><tspan x="360.9" y="277.9" font-size="15.0" font-style="italic" textLength="7.2" lengthAdjust="spacingAndGlyphs">τ</tspan><tspan x="367.7" y="280.3" font-size="10.0" textLength="3.9" lengthAdjust="spacingAndGlyphs">s</tspan><tspan x="372.4" y="281.0" font-size="19.0" textLength="6.6" lengthAdjust="spacingAndGlyphs">/</tspan><tspan x="379.3" y="277.9" font-size="15.0" font-style="italic" textLength="7.2" lengthAdjust="spacingAndGlyphs">τ</tspan><tspan x="385.4" y="280.3" font-size="10.0" textLength="3.9" lengthAdjust="spacingAndGlyphs">s</tspan><tspan x="390.0" y="280.3" font-size="10.0">,</tspan><tspan x="393.5" y="280.3" font-size="10.0" textLength="5.0" lengthAdjust="spacingAndGlyphs">0</tspan></text><text x="57.6" y="262.6" text-anchor="start">-10<tspan font-size="9.7" dy="-8.6">-1</tspan></text><text x="159.6" y="262.6" text-anchor="start">-10<tspan font-size="9.7" dy="-8.6">-2</tspan></text><text x="261.4" y="262.6" text-anchor="start">-10<tspan font-size="9.7" dy="-8.6">-3</tspan></text><text x="344.5" y="259.5" text-anchor="middle">0</text><text x="402.4" y="262.6" text-anchor="start">10<tspan font-size="9.7" dy="-8.6">-3</tspan></text><text x="504.4" y="262.6" text-anchor="start">10<tspan font-size="9.7" dy="-8.6">-2</tspan></text><text x="606.4" y="262.6" text-anchor="start">10<tspan font-size="9.7" dy="-8.6">-1</tspan></text></g></svg></body></html>
